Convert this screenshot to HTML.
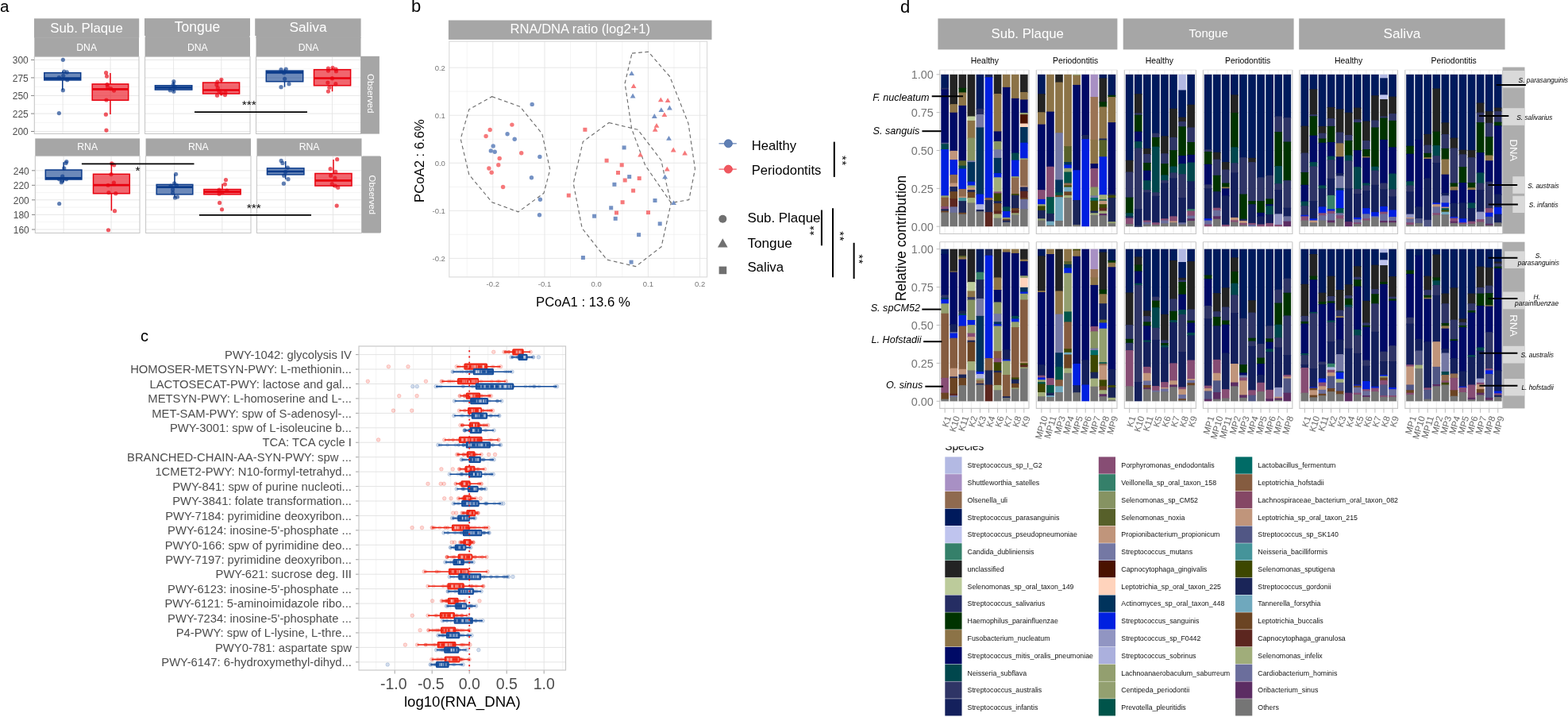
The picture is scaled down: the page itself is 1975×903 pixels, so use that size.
<!DOCTYPE html>
<html><head><meta charset="utf-8"><title>Figure</title>
<style>
html,body{margin:0;padding:0;background:#fff;}
body{width:1975px;height:903px;overflow:hidden;}
svg{display:block;font-family:"Liberation Sans",sans-serif;}
</style></head><body>
<svg width="1975" height="903" viewBox="0 0 1975 903">
<rect x="0" y="0" width="1975" height="903" fill="#fff"/>
<text x="0.00" y="14.80" font-size="20.5" fill="#000" text-anchor="start" >a</text>
<text x="518.00" y="14.50" font-size="22" fill="#000" text-anchor="start" >b</text>
<text x="177.00" y="430.00" font-size="20" fill="#000" text-anchor="start" >c</text>
<text x="1134.00" y="15.50" font-size="22" fill="#000" text-anchor="start" >d</text>
<g id="panel-a">
<rect x="43.00" y="23.30" width="132.20" height="24.20" fill="#a6a6a6" />
<rect x="182.00" y="23.10" width="133.00" height="22.00" fill="#a6a6a6" />
<rect x="183.10" y="44.90" width="131.40" height="3.00" fill="#a6a6a6" />
<rect x="321.20" y="23.30" width="133.40" height="21.80" fill="#a6a6a6" />
<rect x="322.50" y="44.90" width="132.00" height="3.00" fill="#a6a6a6" />
<line x1="43.30" y1="47.30" x2="175.00" y2="47.30" stroke="#adadad" stroke-width="0.6" />
<line x1="182.60" y1="47.30" x2="315.00" y2="47.30" stroke="#adadad" stroke-width="0.6" />
<line x1="322.50" y1="47.30" x2="454.50" y2="47.30" stroke="#adadad" stroke-width="0.6" />
<text x="109.00" y="41.00" font-size="16.8" fill="#fff" text-anchor="middle" >Sub. Plaque</text>
<text x="248.50" y="39.80" font-size="17.5" fill="#fff" text-anchor="middle" >Tongue</text>
<text x="388.00" y="40.30" font-size="17.3" fill="#fff" text-anchor="middle" >Saliva</text>
<rect x="43.30" y="47.20" width="131.70" height="24.20" fill="#a6a6a6" />
<rect x="43.30" y="71.40" width="131.70" height="97.10" fill="#fff" />
<line x1="43.30" y1="75.40" x2="175.00" y2="75.40" stroke="#e4e4e4" stroke-width="0.9" />
<line x1="43.30" y1="86.65" x2="175.00" y2="86.65" stroke="#efefef" stroke-width="0.7" />
<line x1="43.30" y1="97.90" x2="175.00" y2="97.90" stroke="#e4e4e4" stroke-width="0.9" />
<line x1="43.30" y1="109.15" x2="175.00" y2="109.15" stroke="#efefef" stroke-width="0.7" />
<line x1="43.30" y1="120.40" x2="175.00" y2="120.40" stroke="#e4e4e4" stroke-width="0.9" />
<line x1="43.30" y1="131.65" x2="175.00" y2="131.65" stroke="#efefef" stroke-width="0.7" />
<line x1="43.30" y1="143.10" x2="175.00" y2="143.10" stroke="#e4e4e4" stroke-width="0.9" />
<line x1="43.30" y1="154.35" x2="175.00" y2="154.35" stroke="#efefef" stroke-width="0.7" />
<line x1="43.30" y1="165.50" x2="175.00" y2="165.50" stroke="#e4e4e4" stroke-width="0.9" />
<line x1="79.12" y1="71.40" x2="79.12" y2="168.50" stroke="#e4e4e4" stroke-width="0.9" />
<line x1="139.05" y1="71.40" x2="139.05" y2="168.50" stroke="#e4e4e4" stroke-width="0.9" />
<rect x="43.30" y="71.40" width="131.70" height="97.10" fill="none" stroke="#c4c4c4" stroke-width="1"/>
<text x="109.15" y="64.10" font-size="12.2" fill="#fff" text-anchor="middle" >DNA</text>
<rect x="182.60" y="47.20" width="132.40" height="24.20" fill="#a6a6a6" />
<rect x="182.60" y="71.40" width="132.40" height="97.10" fill="#fff" />
<line x1="182.60" y1="75.40" x2="315.00" y2="75.40" stroke="#e4e4e4" stroke-width="0.9" />
<line x1="182.60" y1="86.65" x2="315.00" y2="86.65" stroke="#efefef" stroke-width="0.7" />
<line x1="182.60" y1="97.90" x2="315.00" y2="97.90" stroke="#e4e4e4" stroke-width="0.9" />
<line x1="182.60" y1="109.15" x2="315.00" y2="109.15" stroke="#efefef" stroke-width="0.7" />
<line x1="182.60" y1="120.40" x2="315.00" y2="120.40" stroke="#e4e4e4" stroke-width="0.9" />
<line x1="182.60" y1="131.65" x2="315.00" y2="131.65" stroke="#efefef" stroke-width="0.7" />
<line x1="182.60" y1="143.10" x2="315.00" y2="143.10" stroke="#e4e4e4" stroke-width="0.9" />
<line x1="182.60" y1="154.35" x2="315.00" y2="154.35" stroke="#efefef" stroke-width="0.7" />
<line x1="182.60" y1="165.50" x2="315.00" y2="165.50" stroke="#e4e4e4" stroke-width="0.9" />
<line x1="218.61" y1="71.40" x2="218.61" y2="168.50" stroke="#e4e4e4" stroke-width="0.9" />
<line x1="278.85" y1="71.40" x2="278.85" y2="168.50" stroke="#e4e4e4" stroke-width="0.9" />
<rect x="182.60" y="71.40" width="132.40" height="97.10" fill="none" stroke="#c4c4c4" stroke-width="1"/>
<text x="248.80" y="64.10" font-size="12.2" fill="#fff" text-anchor="middle" >DNA</text>
<rect x="322.50" y="47.20" width="132.00" height="24.20" fill="#a6a6a6" />
<rect x="322.50" y="71.40" width="132.00" height="97.10" fill="#fff" />
<line x1="322.50" y1="75.40" x2="454.50" y2="75.40" stroke="#e4e4e4" stroke-width="0.9" />
<line x1="322.50" y1="86.65" x2="454.50" y2="86.65" stroke="#efefef" stroke-width="0.7" />
<line x1="322.50" y1="97.90" x2="454.50" y2="97.90" stroke="#e4e4e4" stroke-width="0.9" />
<line x1="322.50" y1="109.15" x2="454.50" y2="109.15" stroke="#efefef" stroke-width="0.7" />
<line x1="322.50" y1="120.40" x2="454.50" y2="120.40" stroke="#e4e4e4" stroke-width="0.9" />
<line x1="322.50" y1="131.65" x2="454.50" y2="131.65" stroke="#efefef" stroke-width="0.7" />
<line x1="322.50" y1="143.10" x2="454.50" y2="143.10" stroke="#e4e4e4" stroke-width="0.9" />
<line x1="322.50" y1="154.35" x2="454.50" y2="154.35" stroke="#efefef" stroke-width="0.7" />
<line x1="322.50" y1="165.50" x2="454.50" y2="165.50" stroke="#e4e4e4" stroke-width="0.9" />
<line x1="358.40" y1="71.40" x2="358.40" y2="168.50" stroke="#e4e4e4" stroke-width="0.9" />
<line x1="418.46" y1="71.40" x2="418.46" y2="168.50" stroke="#e4e4e4" stroke-width="0.9" />
<rect x="322.50" y="71.40" width="132.00" height="97.10" fill="none" stroke="#c4c4c4" stroke-width="1"/>
<text x="388.50" y="64.10" font-size="12.2" fill="#fff" text-anchor="middle" >DNA</text>
<text x="35.80" y="80.20" font-size="12" fill="#4d4d4d" text-anchor="end" >300</text>
<line x1="39.00" y1="75.40" x2="43.00" y2="75.40" stroke="#666" stroke-width="0.8" />
<text x="35.80" y="102.70" font-size="12" fill="#4d4d4d" text-anchor="end" >275</text>
<line x1="39.00" y1="97.90" x2="43.00" y2="97.90" stroke="#666" stroke-width="0.8" />
<text x="35.80" y="125.20" font-size="12" fill="#4d4d4d" text-anchor="end" >250</text>
<line x1="39.00" y1="120.40" x2="43.00" y2="120.40" stroke="#666" stroke-width="0.8" />
<text x="35.80" y="147.90" font-size="12" fill="#4d4d4d" text-anchor="end" >225</text>
<line x1="39.00" y1="143.10" x2="43.00" y2="143.10" stroke="#666" stroke-width="0.8" />
<text x="35.80" y="170.30" font-size="12" fill="#4d4d4d" text-anchor="end" >200</text>
<line x1="39.00" y1="165.50" x2="43.00" y2="165.50" stroke="#666" stroke-width="0.8" />
<rect x="44.30" y="174.40" width="131.70" height="22.20" fill="#a6a6a6" />
<rect x="44.30" y="196.60" width="131.70" height="96.80" fill="#fff" />
<line x1="44.30" y1="214.80" x2="176.00" y2="214.80" stroke="#e4e4e4" stroke-width="0.9" />
<line x1="44.30" y1="224.05" x2="176.00" y2="224.05" stroke="#efefef" stroke-width="0.7" />
<line x1="44.30" y1="233.30" x2="176.00" y2="233.30" stroke="#e4e4e4" stroke-width="0.9" />
<line x1="44.30" y1="242.55" x2="176.00" y2="242.55" stroke="#efefef" stroke-width="0.7" />
<line x1="44.30" y1="251.80" x2="176.00" y2="251.80" stroke="#e4e4e4" stroke-width="0.9" />
<line x1="44.30" y1="261.05" x2="176.00" y2="261.05" stroke="#efefef" stroke-width="0.7" />
<line x1="44.30" y1="270.40" x2="176.00" y2="270.40" stroke="#e4e4e4" stroke-width="0.9" />
<line x1="44.30" y1="279.65" x2="176.00" y2="279.65" stroke="#efefef" stroke-width="0.7" />
<line x1="44.30" y1="289.00" x2="176.00" y2="289.00" stroke="#e4e4e4" stroke-width="0.9" />
<line x1="80.12" y1="196.60" x2="80.12" y2="293.40" stroke="#e4e4e4" stroke-width="0.9" />
<line x1="140.05" y1="196.60" x2="140.05" y2="293.40" stroke="#e4e4e4" stroke-width="0.9" />
<rect x="44.30" y="196.60" width="131.70" height="96.80" fill="none" stroke="#c4c4c4" stroke-width="1"/>
<text x="110.15" y="189.30" font-size="12.2" fill="#fff" text-anchor="middle" >RNA</text>
<rect x="183.60" y="174.40" width="132.40" height="22.20" fill="#a6a6a6" />
<rect x="183.60" y="196.60" width="132.40" height="96.80" fill="#fff" />
<line x1="183.60" y1="214.80" x2="316.00" y2="214.80" stroke="#e4e4e4" stroke-width="0.9" />
<line x1="183.60" y1="224.05" x2="316.00" y2="224.05" stroke="#efefef" stroke-width="0.7" />
<line x1="183.60" y1="233.30" x2="316.00" y2="233.30" stroke="#e4e4e4" stroke-width="0.9" />
<line x1="183.60" y1="242.55" x2="316.00" y2="242.55" stroke="#efefef" stroke-width="0.7" />
<line x1="183.60" y1="251.80" x2="316.00" y2="251.80" stroke="#e4e4e4" stroke-width="0.9" />
<line x1="183.60" y1="261.05" x2="316.00" y2="261.05" stroke="#efefef" stroke-width="0.7" />
<line x1="183.60" y1="270.40" x2="316.00" y2="270.40" stroke="#e4e4e4" stroke-width="0.9" />
<line x1="183.60" y1="279.65" x2="316.00" y2="279.65" stroke="#efefef" stroke-width="0.7" />
<line x1="183.60" y1="289.00" x2="316.00" y2="289.00" stroke="#e4e4e4" stroke-width="0.9" />
<line x1="219.61" y1="196.60" x2="219.61" y2="293.40" stroke="#e4e4e4" stroke-width="0.9" />
<line x1="279.85" y1="196.60" x2="279.85" y2="293.40" stroke="#e4e4e4" stroke-width="0.9" />
<rect x="183.60" y="196.60" width="132.40" height="96.80" fill="none" stroke="#c4c4c4" stroke-width="1"/>
<text x="249.80" y="189.30" font-size="12.2" fill="#fff" text-anchor="middle" >RNA</text>
<rect x="323.50" y="174.40" width="132.00" height="22.20" fill="#a6a6a6" />
<rect x="323.50" y="196.60" width="132.00" height="96.80" fill="#fff" />
<line x1="323.50" y1="214.80" x2="455.50" y2="214.80" stroke="#e4e4e4" stroke-width="0.9" />
<line x1="323.50" y1="224.05" x2="455.50" y2="224.05" stroke="#efefef" stroke-width="0.7" />
<line x1="323.50" y1="233.30" x2="455.50" y2="233.30" stroke="#e4e4e4" stroke-width="0.9" />
<line x1="323.50" y1="242.55" x2="455.50" y2="242.55" stroke="#efefef" stroke-width="0.7" />
<line x1="323.50" y1="251.80" x2="455.50" y2="251.80" stroke="#e4e4e4" stroke-width="0.9" />
<line x1="323.50" y1="261.05" x2="455.50" y2="261.05" stroke="#efefef" stroke-width="0.7" />
<line x1="323.50" y1="270.40" x2="455.50" y2="270.40" stroke="#e4e4e4" stroke-width="0.9" />
<line x1="323.50" y1="279.65" x2="455.50" y2="279.65" stroke="#efefef" stroke-width="0.7" />
<line x1="323.50" y1="289.00" x2="455.50" y2="289.00" stroke="#e4e4e4" stroke-width="0.9" />
<line x1="359.40" y1="196.60" x2="359.40" y2="293.40" stroke="#e4e4e4" stroke-width="0.9" />
<line x1="419.46" y1="196.60" x2="419.46" y2="293.40" stroke="#e4e4e4" stroke-width="0.9" />
<rect x="323.50" y="196.60" width="132.00" height="96.80" fill="none" stroke="#c4c4c4" stroke-width="1"/>
<text x="389.50" y="189.30" font-size="12.2" fill="#fff" text-anchor="middle" >RNA</text>
<text x="36.80" y="219.60" font-size="12" fill="#4d4d4d" text-anchor="end" >240</text>
<line x1="40.00" y1="214.80" x2="44.00" y2="214.80" stroke="#666" stroke-width="0.8" />
<text x="36.80" y="238.10" font-size="12" fill="#4d4d4d" text-anchor="end" >220</text>
<line x1="40.00" y1="233.30" x2="44.00" y2="233.30" stroke="#666" stroke-width="0.8" />
<text x="36.80" y="256.60" font-size="12" fill="#4d4d4d" text-anchor="end" >200</text>
<line x1="40.00" y1="251.80" x2="44.00" y2="251.80" stroke="#666" stroke-width="0.8" />
<text x="36.80" y="275.20" font-size="12" fill="#4d4d4d" text-anchor="end" >180</text>
<line x1="40.00" y1="270.40" x2="44.00" y2="270.40" stroke="#666" stroke-width="0.8" />
<text x="36.80" y="293.80" font-size="12" fill="#4d4d4d" text-anchor="end" >160</text>
<line x1="40.00" y1="289.00" x2="44.00" y2="289.00" stroke="#666" stroke-width="0.8" />
<rect x="454.30" y="70.80" width="23.60" height="97.80" fill="#a6a6a6" />
<rect x="455.60" y="196.40" width="24.40" height="97.20" fill="#a6a6a6" rx="1.5"/>
<text transform="translate(463.30,117.80) rotate(90)" font-size="11.4" fill="#fff" text-anchor="middle" >Observed</text>
<text transform="translate(464.60,245.30) rotate(90)" font-size="11.4" fill="#fff" text-anchor="middle" >Observed</text>
<line x1="78.75" y1="89.70" x2="78.75" y2="91.70" stroke="#0a3a8a" stroke-width="1.5" />
<line x1="78.75" y1="100.90" x2="78.75" y2="113.60" stroke="#0a3a8a" stroke-width="1.5" />
<rect x="55.80" y="91.70" width="45.90" height="9.20" fill="#0a3a8a" fill-opacity="0.6" stroke="#0a3a8a" stroke-width="1.5"/>
<line x1="55.80" y1="98.60" x2="101.70" y2="98.60" stroke="#0a3a8a" stroke-width="2.7" />
<circle cx="79.35" cy="75.36" r="2.6" fill="#0a3a8a" fill-opacity="0.65"/>
<circle cx="80.74" cy="90.11" r="2.6" fill="#0a3a8a" fill-opacity="0.65"/>
<circle cx="84.33" cy="90.91" r="2.6" fill="#0a3a8a" fill-opacity="0.65"/>
<circle cx="79.74" cy="95.30" r="2.6" fill="#0a3a8a" fill-opacity="0.65"/>
<circle cx="74.36" cy="97.69" r="2.6" fill="#0a3a8a" fill-opacity="0.65"/>
<circle cx="84.73" cy="100.68" r="2.6" fill="#0a3a8a" fill-opacity="0.65"/>
<circle cx="79.35" cy="113.64" r="2.6" fill="#0a3a8a" fill-opacity="0.65"/>
<circle cx="74.36" cy="142.54" r="2.6" fill="#0a3a8a" fill-opacity="0.65"/>
<line x1="138.95" y1="92.10" x2="138.95" y2="105.90" stroke="#e8000e" stroke-width="1.5" />
<line x1="138.95" y1="126.20" x2="138.95" y2="143.90" stroke="#e8000e" stroke-width="1.5" />
<rect x="116.20" y="105.90" width="45.50" height="20.30" fill="#e8000e" fill-opacity="0.6" stroke="#e8000e" stroke-width="1.5"/>
<line x1="116.20" y1="112.40" x2="161.70" y2="112.40" stroke="#e8000e" stroke-width="2.7" />
<circle cx="133.57" cy="91.71" r="2.6" fill="#e8000e" fill-opacity="0.65"/>
<circle cx="134.57" cy="96.09" r="2.6" fill="#e8000e" fill-opacity="0.65"/>
<circle cx="134.97" cy="106.26" r="2.6" fill="#e8000e" fill-opacity="0.65"/>
<circle cx="135.57" cy="109.25" r="2.6" fill="#e8000e" fill-opacity="0.65"/>
<circle cx="139.55" cy="111.64" r="2.6" fill="#e8000e" fill-opacity="0.65"/>
<circle cx="143.54" cy="114.04" r="2.6" fill="#e8000e" fill-opacity="0.65"/>
<circle cx="133.97" cy="126.00" r="2.6" fill="#e8000e" fill-opacity="0.65"/>
<circle cx="133.37" cy="144.14" r="2.6" fill="#e8000e" fill-opacity="0.65"/>
<circle cx="133.97" cy="164.07" r="2.6" fill="#e8000e" fill-opacity="0.65"/>
<line x1="218.60" y1="102.50" x2="218.60" y2="107.70" stroke="#0a3a8a" stroke-width="1.5" />
<line x1="218.60" y1="113.00" x2="218.60" y2="115.40" stroke="#0a3a8a" stroke-width="1.5" />
<rect x="195.40" y="107.70" width="46.40" height="5.30" fill="#0a3a8a" fill-opacity="0.6" stroke="#0a3a8a" stroke-width="1.5"/>
<line x1="195.40" y1="110.30" x2="241.80" y2="110.30" stroke="#0a3a8a" stroke-width="2.7" />
<circle cx="218.90" cy="102.67" r="2.6" fill="#0a3a8a" fill-opacity="0.65"/>
<circle cx="218.30" cy="106.66" r="2.6" fill="#0a3a8a" fill-opacity="0.65"/>
<circle cx="220.30" cy="109.65" r="2.6" fill="#0a3a8a" fill-opacity="0.65"/>
<circle cx="214.31" cy="113.64" r="2.6" fill="#0a3a8a" fill-opacity="0.65"/>
<circle cx="218.90" cy="115.23" r="2.6" fill="#0a3a8a" fill-opacity="0.65"/>
<line x1="278.60" y1="100.30" x2="278.60" y2="104.00" stroke="#e8000e" stroke-width="1.5" />
<line x1="278.60" y1="118.00" x2="278.60" y2="120.30" stroke="#e8000e" stroke-width="1.5" />
<rect x="255.60" y="104.00" width="46.00" height="14.00" fill="#e8000e" fill-opacity="0.6" stroke="#e8000e" stroke-width="1.5"/>
<line x1="255.60" y1="113.50" x2="301.60" y2="113.50" stroke="#e8000e" stroke-width="2.7" />
<circle cx="278.88" cy="100.28" r="2.6" fill="#e8000e" fill-opacity="0.65"/>
<circle cx="273.89" cy="103.07" r="2.6" fill="#e8000e" fill-opacity="0.65"/>
<circle cx="272.89" cy="106.66" r="2.6" fill="#e8000e" fill-opacity="0.65"/>
<circle cx="274.29" cy="110.65" r="2.6" fill="#e8000e" fill-opacity="0.65"/>
<circle cx="275.89" cy="114.63" r="2.6" fill="#e8000e" fill-opacity="0.65"/>
<circle cx="278.88" cy="117.62" r="2.6" fill="#e8000e" fill-opacity="0.65"/>
<circle cx="283.86" cy="116.63" r="2.6" fill="#e8000e" fill-opacity="0.65"/>
<circle cx="273.49" cy="120.22" r="2.6" fill="#e8000e" fill-opacity="0.65"/>
<circle cx="283.46" cy="119.62" r="2.6" fill="#e8000e" fill-opacity="0.65"/>
<line x1="358.50" y1="87.00" x2="358.50" y2="89.10" stroke="#0a3a8a" stroke-width="1.5" />
<line x1="358.50" y1="102.70" x2="358.50" y2="109.60" stroke="#0a3a8a" stroke-width="1.5" />
<rect x="335.30" y="89.10" width="46.40" height="13.60" fill="#0a3a8a" fill-opacity="0.6" stroke="#0a3a8a" stroke-width="1.5"/>
<line x1="335.30" y1="91.40" x2="381.70" y2="91.40" stroke="#0a3a8a" stroke-width="2.7" />
<circle cx="354.04" cy="87.72" r="2.6" fill="#0a3a8a" fill-opacity="0.65"/>
<circle cx="360.22" cy="87.12" r="2.6" fill="#0a3a8a" fill-opacity="0.65"/>
<circle cx="357.62" cy="91.71" r="2.6" fill="#0a3a8a" fill-opacity="0.65"/>
<circle cx="358.62" cy="99.28" r="2.6" fill="#0a3a8a" fill-opacity="0.65"/>
<circle cx="364.00" cy="105.66" r="2.6" fill="#0a3a8a" fill-opacity="0.65"/>
<circle cx="354.04" cy="109.65" r="2.6" fill="#0a3a8a" fill-opacity="0.65"/>
<line x1="418.55" y1="85.30" x2="418.55" y2="87.70" stroke="#e8000e" stroke-width="1.5" />
<line x1="418.55" y1="107.70" x2="418.55" y2="115.20" stroke="#e8000e" stroke-width="1.5" />
<rect x="395.50" y="87.70" width="46.10" height="20.00" fill="#e8000e" fill-opacity="0.6" stroke="#e8000e" stroke-width="1.5"/>
<line x1="395.50" y1="98.50" x2="441.60" y2="98.50" stroke="#e8000e" stroke-width="2.7" />
<circle cx="413.44" cy="86.12" r="2.6" fill="#e8000e" fill-opacity="0.65"/>
<circle cx="419.03" cy="85.33" r="2.6" fill="#e8000e" fill-opacity="0.65"/>
<circle cx="423.01" cy="87.12" r="2.6" fill="#e8000e" fill-opacity="0.65"/>
<circle cx="413.44" cy="89.11" r="2.6" fill="#e8000e" fill-opacity="0.65"/>
<circle cx="423.41" cy="89.71" r="2.6" fill="#e8000e" fill-opacity="0.65"/>
<circle cx="418.43" cy="98.68" r="2.6" fill="#e8000e" fill-opacity="0.65"/>
<circle cx="412.85" cy="104.07" r="2.6" fill="#e8000e" fill-opacity="0.65"/>
<circle cx="422.81" cy="105.66" r="2.6" fill="#e8000e" fill-opacity="0.65"/>
<circle cx="414.84" cy="110.25" r="2.6" fill="#e8000e" fill-opacity="0.65"/>
<circle cx="413.44" cy="115.03" r="2.6" fill="#e8000e" fill-opacity="0.65"/>
<line x1="80.10" y1="204.30" x2="80.10" y2="214.00" stroke="#0a3a8a" stroke-width="1.5" />
<line x1="80.10" y1="226.00" x2="80.10" y2="229.50" stroke="#0a3a8a" stroke-width="1.5" />
<rect x="57.30" y="214.00" width="45.60" height="12.00" fill="#0a3a8a" fill-opacity="0.6" stroke="#0a3a8a" stroke-width="1.5"/>
<line x1="57.30" y1="224.40" x2="102.90" y2="224.40" stroke="#0a3a8a" stroke-width="2.7" />
<circle cx="83.82" cy="203.54" r="2.6" fill="#0a3a8a" fill-opacity="0.65"/>
<circle cx="83.01" cy="205.46" r="2.6" fill="#0a3a8a" fill-opacity="0.65"/>
<circle cx="80.76" cy="211.89" r="2.6" fill="#0a3a8a" fill-opacity="0.65"/>
<circle cx="78.68" cy="222.00" r="2.6" fill="#0a3a8a" fill-opacity="0.65"/>
<circle cx="74.66" cy="225.69" r="2.6" fill="#0a3a8a" fill-opacity="0.65"/>
<circle cx="83.49" cy="225.69" r="2.6" fill="#0a3a8a" fill-opacity="0.65"/>
<circle cx="78.20" cy="227.94" r="2.6" fill="#0a3a8a" fill-opacity="0.65"/>
<circle cx="77.39" cy="229.71" r="2.6" fill="#0a3a8a" fill-opacity="0.65"/>
<circle cx="74.66" cy="256.52" r="2.6" fill="#0a3a8a" fill-opacity="0.65"/>
<line x1="140.40" y1="205.10" x2="140.40" y2="219.30" stroke="#e8000e" stroke-width="1.5" />
<line x1="140.40" y1="243.70" x2="140.40" y2="265.40" stroke="#e8000e" stroke-width="1.5" />
<rect x="117.50" y="219.30" width="45.80" height="24.40" fill="#e8000e" fill-opacity="0.6" stroke="#e8000e" stroke-width="1.5"/>
<line x1="117.50" y1="233.20" x2="163.30" y2="233.20" stroke="#e8000e" stroke-width="2.7" />
<circle cx="140.82" cy="205.94" r="2.6" fill="#e8000e" fill-opacity="0.65"/>
<circle cx="143.71" cy="207.87" r="2.6" fill="#e8000e" fill-opacity="0.65"/>
<circle cx="140.01" cy="219.59" r="2.6" fill="#e8000e" fill-opacity="0.65"/>
<circle cx="143.38" cy="230.03" r="2.6" fill="#e8000e" fill-opacity="0.65"/>
<circle cx="136.16" cy="233.24" r="2.6" fill="#e8000e" fill-opacity="0.65"/>
<circle cx="136.96" cy="242.55" r="2.6" fill="#e8000e" fill-opacity="0.65"/>
<circle cx="145.79" cy="243.68" r="2.6" fill="#e8000e" fill-opacity="0.65"/>
<circle cx="144.51" cy="265.67" r="2.6" fill="#e8000e" fill-opacity="0.65"/>
<circle cx="136.48" cy="289.76" r="2.6" fill="#e8000e" fill-opacity="0.65"/>
<line x1="220.00" y1="219.60" x2="220.00" y2="232.40" stroke="#0a3a8a" stroke-width="1.5" />
<line x1="220.00" y1="244.80" x2="220.00" y2="249.00" stroke="#0a3a8a" stroke-width="1.5" />
<rect x="197.20" y="232.40" width="45.60" height="12.40" fill="#0a3a8a" fill-opacity="0.6" stroke="#0a3a8a" stroke-width="1.5"/>
<line x1="197.20" y1="235.70" x2="242.80" y2="235.70" stroke="#0a3a8a" stroke-width="2.7" />
<circle cx="221.58" cy="219.27" r="2.6" fill="#0a3a8a" fill-opacity="0.65"/>
<circle cx="219.65" cy="230.83" r="2.6" fill="#0a3a8a" fill-opacity="0.65"/>
<circle cx="222.38" cy="233.24" r="2.6" fill="#0a3a8a" fill-opacity="0.65"/>
<circle cx="215.16" cy="234.04" r="2.6" fill="#0a3a8a" fill-opacity="0.65"/>
<circle cx="217.57" cy="238.86" r="2.6" fill="#0a3a8a" fill-opacity="0.65"/>
<circle cx="217.57" cy="242.87" r="2.6" fill="#0a3a8a" fill-opacity="0.65"/>
<circle cx="223.51" cy="248.01" r="2.6" fill="#0a3a8a" fill-opacity="0.65"/>
<circle cx="220.46" cy="248.98" r="2.6" fill="#0a3a8a" fill-opacity="0.65"/>
<line x1="280.00" y1="231.50" x2="280.00" y2="238.50" stroke="#e8000e" stroke-width="1.5" />
<line x1="280.00" y1="244.80" x2="280.00" y2="244.80" stroke="#e8000e" stroke-width="1.5" />
<rect x="256.90" y="238.50" width="46.20" height="6.30" fill="#e8000e" fill-opacity="0.6" stroke="#e8000e" stroke-width="1.5"/>
<line x1="256.90" y1="241.60" x2="303.10" y2="241.60" stroke="#e8000e" stroke-width="2.7" />
<circle cx="284.48" cy="226.50" r="2.6" fill="#e8000e" fill-opacity="0.65"/>
<circle cx="283.35" cy="232.12" r="2.6" fill="#e8000e" fill-opacity="0.65"/>
<circle cx="276.13" cy="239.18" r="2.6" fill="#e8000e" fill-opacity="0.65"/>
<circle cx="285.76" cy="240.14" r="2.6" fill="#e8000e" fill-opacity="0.65"/>
<circle cx="280.14" cy="242.07" r="2.6" fill="#e8000e" fill-opacity="0.65"/>
<circle cx="276.13" cy="244.16" r="2.6" fill="#e8000e" fill-opacity="0.65"/>
<circle cx="276.61" cy="255.40" r="2.6" fill="#e8000e" fill-opacity="0.65"/>
<circle cx="279.50" cy="263.75" r="2.6" fill="#e8000e" fill-opacity="0.65"/>
<line x1="359.70" y1="203.00" x2="359.70" y2="211.90" stroke="#0a3a8a" stroke-width="1.5" />
<line x1="359.70" y1="219.90" x2="359.70" y2="225.70" stroke="#0a3a8a" stroke-width="1.5" />
<rect x="336.50" y="211.90" width="46.40" height="8.00" fill="#0a3a8a" fill-opacity="0.6" stroke="#0a3a8a" stroke-width="1.5"/>
<line x1="336.50" y1="216.00" x2="382.90" y2="216.00" stroke="#0a3a8a" stroke-width="2.7" />
<circle cx="354.16" cy="202.41" r="2.6" fill="#0a3a8a" fill-opacity="0.65"/>
<circle cx="355.93" cy="205.46" r="2.6" fill="#0a3a8a" fill-opacity="0.65"/>
<circle cx="362.35" cy="211.08" r="2.6" fill="#0a3a8a" fill-opacity="0.65"/>
<circle cx="359.62" cy="216.38" r="2.6" fill="#0a3a8a" fill-opacity="0.65"/>
<circle cx="357.69" cy="221.20" r="2.6" fill="#0a3a8a" fill-opacity="0.65"/>
<circle cx="362.99" cy="225.69" r="2.6" fill="#0a3a8a" fill-opacity="0.65"/>
<circle cx="357.37" cy="231.15" r="2.6" fill="#0a3a8a" fill-opacity="0.65"/>
<line x1="419.95" y1="201.00" x2="419.95" y2="218.50" stroke="#e8000e" stroke-width="1.5" />
<line x1="419.95" y1="234.00" x2="419.95" y2="235.50" stroke="#e8000e" stroke-width="1.5" />
<rect x="396.90" y="218.50" width="46.10" height="15.50" fill="#e8000e" fill-opacity="0.6" stroke="#e8000e" stroke-width="1.5"/>
<line x1="396.90" y1="227.30" x2="443.00" y2="227.30" stroke="#e8000e" stroke-width="2.7" />
<circle cx="424.65" cy="200.65" r="2.6" fill="#e8000e" fill-opacity="0.65"/>
<circle cx="416.14" cy="212.69" r="2.6" fill="#e8000e" fill-opacity="0.65"/>
<circle cx="422.72" cy="216.38" r="2.6" fill="#e8000e" fill-opacity="0.65"/>
<circle cx="416.62" cy="221.20" r="2.6" fill="#e8000e" fill-opacity="0.65"/>
<circle cx="421.92" cy="224.09" r="2.6" fill="#e8000e" fill-opacity="0.65"/>
<circle cx="418.23" cy="231.63" r="2.6" fill="#e8000e" fill-opacity="0.65"/>
<circle cx="422.24" cy="234.04" r="2.6" fill="#e8000e" fill-opacity="0.65"/>
<circle cx="425.77" cy="236.13" r="2.6" fill="#e8000e" fill-opacity="0.65"/>
<circle cx="424.17" cy="259.09" r="2.6" fill="#e8000e" fill-opacity="0.65"/>
<line x1="245.00" y1="141.10" x2="387.00" y2="141.10" stroke="#000" stroke-width="1.7" />
<text x="313.80" y="137.30" font-size="15.5" fill="#000" text-anchor="middle" >***</text>
<line x1="102.90" y1="206.30" x2="244.50" y2="206.30" stroke="#000" stroke-width="1.7" />
<text x="173.40" y="220.00" font-size="15.5" fill="#000" text-anchor="middle" >*</text>
<line x1="250.90" y1="270.80" x2="392.00" y2="270.80" stroke="#000" stroke-width="1.7" />
<text x="319.80" y="267.30" font-size="15.5" fill="#000" text-anchor="middle" >***</text>
</g>
<g id="panel-b">
<rect x="564.90" y="25.50" width="331.60" height="24.40" fill="#a6a6a6" />
<text x="730.80" y="42.40" font-size="16.6" fill="#fff" text-anchor="middle" >RNA/DNA ratio (log2+1)</text>
<rect x="565.80" y="52.10" width="324.80" height="296.80" fill="#fff" />
<line x1="588.20" y1="52.10" x2="588.20" y2="348.90" stroke="#efefef" stroke-width="0.7" />
<line x1="653.40" y1="52.10" x2="653.40" y2="348.90" stroke="#efefef" stroke-width="0.7" />
<line x1="718.60" y1="52.10" x2="718.60" y2="348.90" stroke="#efefef" stroke-width="0.7" />
<line x1="783.80" y1="52.10" x2="783.80" y2="348.90" stroke="#efefef" stroke-width="0.7" />
<line x1="849.00" y1="52.10" x2="849.00" y2="348.90" stroke="#efefef" stroke-width="0.7" />
<line x1="565.80" y1="295.38" x2="890.60" y2="295.38" stroke="#efefef" stroke-width="0.7" />
<line x1="565.80" y1="235.33" x2="890.60" y2="235.33" stroke="#efefef" stroke-width="0.7" />
<line x1="565.80" y1="175.28" x2="890.60" y2="175.28" stroke="#efefef" stroke-width="0.7" />
<line x1="565.80" y1="115.23" x2="890.60" y2="115.23" stroke="#efefef" stroke-width="0.7" />
<line x1="620.80" y1="52.10" x2="620.80" y2="348.90" stroke="#e4e4e4" stroke-width="0.9" />
<line x1="565.80" y1="325.40" x2="890.60" y2="325.40" stroke="#e4e4e4" stroke-width="0.9" />
<text x="620.80" y="361.20" font-size="9.5" fill="#787878" text-anchor="middle" >-0.2</text>
<text x="560.90" y="328.70" font-size="9.5" fill="#787878" text-anchor="end" >-0.2</text>
<line x1="686.00" y1="52.10" x2="686.00" y2="348.90" stroke="#e4e4e4" stroke-width="0.9" />
<line x1="565.80" y1="265.35" x2="890.60" y2="265.35" stroke="#e4e4e4" stroke-width="0.9" />
<text x="686.00" y="361.20" font-size="9.5" fill="#787878" text-anchor="middle" >-0.1</text>
<text x="560.90" y="268.65" font-size="9.5" fill="#787878" text-anchor="end" >-0.1</text>
<line x1="751.20" y1="52.10" x2="751.20" y2="348.90" stroke="#e4e4e4" stroke-width="0.9" />
<line x1="565.80" y1="205.30" x2="890.60" y2="205.30" stroke="#e4e4e4" stroke-width="0.9" />
<text x="751.20" y="361.20" font-size="9.5" fill="#787878" text-anchor="middle" >0.0</text>
<text x="560.90" y="208.60" font-size="9.5" fill="#787878" text-anchor="end" >0.0</text>
<line x1="816.40" y1="52.10" x2="816.40" y2="348.90" stroke="#e4e4e4" stroke-width="0.9" />
<line x1="565.80" y1="145.25" x2="890.60" y2="145.25" stroke="#e4e4e4" stroke-width="0.9" />
<text x="816.40" y="361.20" font-size="9.5" fill="#787878" text-anchor="middle" >0.1</text>
<text x="560.90" y="148.55" font-size="9.5" fill="#787878" text-anchor="end" >0.1</text>
<line x1="881.60" y1="52.10" x2="881.60" y2="348.90" stroke="#e4e4e4" stroke-width="0.9" />
<line x1="565.80" y1="85.20" x2="890.60" y2="85.20" stroke="#e4e4e4" stroke-width="0.9" />
<text x="881.60" y="361.20" font-size="9.5" fill="#787878" text-anchor="middle" >0.2</text>
<text x="560.90" y="88.50" font-size="9.5" fill="#787878" text-anchor="end" >0.2</text>
<rect x="565.8" y="52.1" width="324.80" height="296.80" fill="none" stroke="#dcdcdc" stroke-width="1.2"/>
<text x="734.40" y="385.60" font-size="16.7" fill="#000" text-anchor="middle" >PCoA1 : 13.6 %</text>
<text transform="translate(534.20,202.50) rotate(-90)" font-size="16.7" fill="#000" text-anchor="middle" >PCoA2 : 6.6%</text>
<polygon points="619.7,121.6 655.1,134.3 682.8,168.4 692.8,213.7 685.0,243.2 652.9,266.9 619.7,254.7 590.8,219.9 580.2,175.0 590.8,137.8" fill="none" stroke="#6e6e6e" stroke-width="1.15" stroke-dasharray="4.7,3.5" stroke-linejoin="round"/>
<polygon points="767.0,154.5 803.4,163.3 832.9,202.0 837.5,223.7 845.3,255.5 833.0,310.8 800.8,335.6 764.3,327.0 733.2,287.5 722.2,231.0 734.3,178.4" fill="none" stroke="#6e6e6e" stroke-width="1.15" stroke-dasharray="4.7,3.5" stroke-linejoin="round"/>
<polygon points="796.0,67.1 816.6,65.2 843.7,96.5 867.0,155.4 875.5,212.9 867.8,251.6 845.3,255.5 812.7,208.2 795.7,162.5 787.1,105.0" fill="none" stroke="#6e6e6e" stroke-width="1.15" stroke-dasharray="4.7,3.5" stroke-linejoin="round"/>
<circle cx="670.2" cy="131.4" r="2.7" fill="#7592c4"/>
<circle cx="644.9" cy="157.1" r="2.7" fill="#f6797b"/>
<circle cx="617.2" cy="163.5" r="2.7" fill="#f6797b"/>
<circle cx="612.1" cy="171.5" r="2.7" fill="#f6797b"/>
<circle cx="639.1" cy="168.8" r="2.7" fill="#7592c4"/>
<circle cx="648.2" cy="175.3" r="2.7" fill="#7592c4"/>
<circle cx="621.2" cy="183.9" r="2.7" fill="#7592c4"/>
<circle cx="618.3" cy="189.9" r="2.7" fill="#7592c4"/>
<circle cx="623.2" cy="191.2" r="2.7" fill="#7592c4"/>
<circle cx="656.7" cy="192.8" r="2.7" fill="#f6797b"/>
<circle cx="679.9" cy="197.4" r="2.7" fill="#7592c4"/>
<circle cx="629.2" cy="199.5" r="2.7" fill="#f6797b"/>
<circle cx="627.8" cy="207.8" r="2.7" fill="#f6797b"/>
<circle cx="615.9" cy="212" r="2.7" fill="#f6797b"/>
<circle cx="619.2" cy="217.3" r="2.7" fill="#f6797b"/>
<circle cx="669.5" cy="223.7" r="2.7" fill="#7592c4"/>
<circle cx="633.6" cy="235.5" r="2.7" fill="#f6797b"/>
<circle cx="680.4" cy="251.2" r="2.7" fill="#7592c4"/>
<circle cx="679.5" cy="270.7" r="2.7" fill="#7592c4"/>
<rect x="734.40" y="160.80" width="5.00" height="5.00" fill="#f6797b" />
<rect x="783.60" y="183.40" width="5.00" height="5.00" fill="#7592c4" />
<rect x="761.60" y="199.70" width="5.00" height="5.00" fill="#f6797b" />
<rect x="780.70" y="205.30" width="5.00" height="5.00" fill="#f6797b" />
<rect x="776.00" y="215.00" width="5.00" height="5.00" fill="#f6797b" />
<rect x="790.20" y="220.10" width="5.00" height="5.00" fill="#7592c4" />
<rect x="771.40" y="229.80" width="5.00" height="5.00" fill="#7592c4" />
<rect x="784.70" y="224.50" width="5.00" height="5.00" fill="#f6797b" />
<rect x="795.10" y="237.60" width="5.00" height="5.00" fill="#f6797b" />
<rect x="713.80" y="243.60" width="5.00" height="5.00" fill="#f6797b" />
<rect x="781.60" y="252.20" width="5.00" height="5.00" fill="#f6797b" />
<rect x="767.20" y="259.30" width="5.00" height="5.00" fill="#7592c4" />
<rect x="774.00" y="265.50" width="5.00" height="5.00" fill="#f6797b" />
<rect x="746.10" y="269.70" width="5.00" height="5.00" fill="#7592c4" />
<rect x="772.70" y="272.80" width="5.00" height="5.00" fill="#7592c4" />
<rect x="731.90" y="322.00" width="5.00" height="5.00" fill="#7592c4" />
<rect x="792.60" y="327.60" width="5.00" height="5.00" fill="#7592c4" />
<rect x="802.70" y="222.10" width="5.00" height="5.00" fill="#f6797b" />
<rect x="822.50" y="250.00" width="5.00" height="5.00" fill="#7592c4" />
<rect x="814.00" y="265.10" width="5.00" height="5.00" fill="#f6797b" />
<rect x="828.70" y="279.30" width="5.00" height="5.00" fill="#7592c4" />
<rect x="802.10" y="293.20" width="5.00" height="5.00" fill="#7592c4" />
<polygon points="795.6,89.2 792.2,95.0 799.0,95.0" fill="#7592c4"/>
<polygon points="798.1,105.2 794.7,111.0 801.5,111.0" fill="#f6797b"/>
<polygon points="797.1,117.6 793.7,123.4 800.5,123.4" fill="#7592c4"/>
<polygon points="832.3,122.5 828.9,128.3 835.7,128.3" fill="#f6797b"/>
<polygon points="841.1,123.3 837.7,129.1 844.5,129.1" fill="#f6797b"/>
<polygon points="843.4,132.6 840.0,138.4 846.8,138.4" fill="#7592c4"/>
<polygon points="832.9,135.3 829.5,141.1 836.3,141.1" fill="#7592c4"/>
<polygon points="836.9,141.3 833.5,147.1 840.3,147.1" fill="#f6797b"/>
<polygon points="824.3,143.1 820.9,148.9 827.7,148.9" fill="#7592c4"/>
<polygon points="827.0,155.0 823.6,160.8 830.4,160.8" fill="#f6797b"/>
<polygon points="825.2,159.9 821.8,165.7 828.6,165.7" fill="#f6797b"/>
<polygon points="842.5,171.0 839.1,176.8 845.9,176.8" fill="#7592c4"/>
<polygon points="848.2,185.6 844.8,191.4 851.6,191.4" fill="#f6797b"/>
<polygon points="862.6,189.6 859.2,195.4 866.0,195.4" fill="#f6797b"/>
<polygon points="806.6,191.6 803.2,197.4 810.0,197.4" fill="#f6797b"/>
<polygon points="840.3,209.7 836.9,215.5 843.7,215.5" fill="#f6797b"/>
<polygon points="837.6,219.4 834.2,225.2 841.0,225.2" fill="#7592c4"/>
<polygon points="848.5,252.2 845.1,258.0 851.9,258.0" fill="#7592c4"/>
<line x1="905.50" y1="180.80" x2="927.80" y2="180.80" stroke="#5e7fb4" stroke-width="1.2" />
<circle cx="917.4" cy="180.8" r="5" fill="#5e7fb4" stroke="#4a6aa5" stroke-width="0.8"/>
<line x1="905.50" y1="213.10" x2="927.80" y2="213.10" stroke="#f0575f" stroke-width="1.2" />
<circle cx="917.4" cy="213.1" r="5" fill="#f0575f" stroke="#e8434c" stroke-width="0.8"/>
<text x="946.70" y="188.80" font-size="16.6" fill="#000" text-anchor="start" >Healthy</text>
<text x="946.70" y="219.80" font-size="16.6" fill="#000" text-anchor="start" >Periodontits</text>
<circle cx="910.3" cy="275.8" r="5" fill="#707070"/>
<polygon points="910.3,300.3 904,311.5 916.6,311.5" fill="#707070"/>
<rect x="905.60" y="335.60" width="9.60" height="9.60" fill="#707070" />
<text x="941.40" y="280.20" font-size="16.9" fill="#000" text-anchor="start" >Sub. Plaque</text>
<text x="941.40" y="312.00" font-size="17.2" fill="#000" text-anchor="start" >Tongue</text>
<text x="941.40" y="342.30" font-size="16.8" fill="#000" text-anchor="start" >Saliva</text>
<line x1="1050.80" y1="178.60" x2="1050.80" y2="222.90" stroke="#000" stroke-width="2" />
<text transform="translate(1056.20,202.50) rotate(90)" font-size="14.5" fill="#000" text-anchor="middle" letter-spacing="0.8">**</text>
<line x1="1034.90" y1="264.50" x2="1034.90" y2="309.30" stroke="#000" stroke-width="2" />
<text transform="translate(1030.30,290.00) rotate(-90)" font-size="14.5" fill="#000" text-anchor="middle" letter-spacing="0.8">**</text>
<line x1="1049.00" y1="262.30" x2="1049.00" y2="349.20" stroke="#000" stroke-width="2" />
<text transform="translate(1053.10,297.80) rotate(90)" font-size="14.5" fill="#000" text-anchor="middle" letter-spacing="0.8">**</text>
<line x1="1075.60" y1="305.80" x2="1075.60" y2="351.00" stroke="#000" stroke-width="2" />
<text transform="translate(1077.30,326.60) rotate(90)" font-size="14.5" fill="#000" text-anchor="middle" letter-spacing="0.8">**</text>
</g>
<g id="panel-c">
<rect x="452.00" y="436.00" width="260.50" height="408.00" fill="#fff" />
<line x1="473.70" y1="436.00" x2="473.70" y2="844.00" stroke="#efefef" stroke-width="0.8" />
<line x1="520.70" y1="436.00" x2="520.70" y2="844.00" stroke="#efefef" stroke-width="0.8" />
<line x1="567.70" y1="436.00" x2="567.70" y2="844.00" stroke="#efefef" stroke-width="0.8" />
<line x1="614.70" y1="436.00" x2="614.70" y2="844.00" stroke="#efefef" stroke-width="0.8" />
<line x1="661.70" y1="436.00" x2="661.70" y2="844.00" stroke="#efefef" stroke-width="0.8" />
<line x1="708.70" y1="436.00" x2="708.70" y2="844.00" stroke="#efefef" stroke-width="0.8" />
<line x1="497.20" y1="436.00" x2="497.20" y2="844.00" stroke="#e4e4e4" stroke-width="1" />
<line x1="497.20" y1="844.00" x2="497.20" y2="848.50" stroke="#999" stroke-width="0.9" />
<text x="495.70" y="867.60" font-size="19.5" fill="#4d4d4d" text-anchor="middle" >-1.0</text>
<line x1="544.20" y1="436.00" x2="544.20" y2="844.00" stroke="#e4e4e4" stroke-width="1" />
<line x1="544.20" y1="844.00" x2="544.20" y2="848.50" stroke="#999" stroke-width="0.9" />
<text x="542.70" y="867.60" font-size="19.5" fill="#4d4d4d" text-anchor="middle" >-0.5</text>
<line x1="591.20" y1="436.00" x2="591.20" y2="844.00" stroke="#e4e4e4" stroke-width="1" />
<line x1="591.20" y1="844.00" x2="591.20" y2="848.50" stroke="#999" stroke-width="0.9" />
<text x="591.20" y="867.60" font-size="19.5" fill="#4d4d4d" text-anchor="middle" >0.0</text>
<line x1="638.20" y1="436.00" x2="638.20" y2="844.00" stroke="#e4e4e4" stroke-width="1" />
<line x1="638.20" y1="844.00" x2="638.20" y2="848.50" stroke="#999" stroke-width="0.9" />
<text x="638.20" y="867.60" font-size="19.5" fill="#4d4d4d" text-anchor="middle" >0.5</text>
<line x1="685.20" y1="436.00" x2="685.20" y2="844.00" stroke="#e4e4e4" stroke-width="1" />
<line x1="685.20" y1="844.00" x2="685.20" y2="848.50" stroke="#999" stroke-width="0.9" />
<text x="685.20" y="867.60" font-size="19.5" fill="#4d4d4d" text-anchor="middle" >1.0</text>
<line x1="452.00" y1="446.60" x2="712.50" y2="446.60" stroke="#e4e4e4" stroke-width="1" />
<line x1="448.00" y1="446.60" x2="452.00" y2="446.60" stroke="#999" stroke-width="0.9" />
<text x="442.90" y="451.80" font-size="14.8" fill="#4d4d4d" text-anchor="end" >PWY-1042: glycolysis IV</text>
<line x1="452.00" y1="465.04" x2="712.50" y2="465.04" stroke="#e4e4e4" stroke-width="1" />
<line x1="448.00" y1="465.04" x2="452.00" y2="465.04" stroke="#999" stroke-width="0.9" />
<text x="442.90" y="470.24" font-size="14.8" fill="#4d4d4d" text-anchor="end" >HOMOSER-METSYN-PWY: L-methionin...</text>
<line x1="452.00" y1="483.48" x2="712.50" y2="483.48" stroke="#e4e4e4" stroke-width="1" />
<line x1="448.00" y1="483.48" x2="452.00" y2="483.48" stroke="#999" stroke-width="0.9" />
<text x="442.90" y="488.68" font-size="14.8" fill="#4d4d4d" text-anchor="end" >LACTOSECAT-PWY: lactose and gal...</text>
<line x1="452.00" y1="501.92" x2="712.50" y2="501.92" stroke="#e4e4e4" stroke-width="1" />
<line x1="448.00" y1="501.92" x2="452.00" y2="501.92" stroke="#999" stroke-width="0.9" />
<text x="442.90" y="507.12" font-size="14.8" fill="#4d4d4d" text-anchor="end" >METSYN-PWY: L-homoserine and L-...</text>
<line x1="452.00" y1="520.36" x2="712.50" y2="520.36" stroke="#e4e4e4" stroke-width="1" />
<line x1="448.00" y1="520.36" x2="452.00" y2="520.36" stroke="#999" stroke-width="0.9" />
<text x="442.90" y="525.56" font-size="14.8" fill="#4d4d4d" text-anchor="end" >MET-SAM-PWY: spw of S-adenosyl-...</text>
<line x1="452.00" y1="538.80" x2="712.50" y2="538.80" stroke="#e4e4e4" stroke-width="1" />
<line x1="448.00" y1="538.80" x2="452.00" y2="538.80" stroke="#999" stroke-width="0.9" />
<text x="442.90" y="544.00" font-size="14.8" fill="#4d4d4d" text-anchor="end" >PWY-3001: spw of L-isoleucine b...</text>
<line x1="452.00" y1="557.24" x2="712.50" y2="557.24" stroke="#e4e4e4" stroke-width="1" />
<line x1="448.00" y1="557.24" x2="452.00" y2="557.24" stroke="#999" stroke-width="0.9" />
<text x="442.90" y="562.44" font-size="14.8" fill="#4d4d4d" text-anchor="end" >TCA: TCA cycle I</text>
<line x1="452.00" y1="575.68" x2="712.50" y2="575.68" stroke="#e4e4e4" stroke-width="1" />
<line x1="448.00" y1="575.68" x2="452.00" y2="575.68" stroke="#999" stroke-width="0.9" />
<text x="442.90" y="580.88" font-size="14.8" fill="#4d4d4d" text-anchor="end" >BRANCHED-CHAIN-AA-SYN-PWY: spw ...</text>
<line x1="452.00" y1="594.12" x2="712.50" y2="594.12" stroke="#e4e4e4" stroke-width="1" />
<line x1="448.00" y1="594.12" x2="452.00" y2="594.12" stroke="#999" stroke-width="0.9" />
<text x="442.90" y="599.32" font-size="14.8" fill="#4d4d4d" text-anchor="end" >1CMET2-PWY: N10-formyl-tetrahyd...</text>
<line x1="452.00" y1="612.56" x2="712.50" y2="612.56" stroke="#e4e4e4" stroke-width="1" />
<line x1="448.00" y1="612.56" x2="452.00" y2="612.56" stroke="#999" stroke-width="0.9" />
<text x="442.90" y="617.76" font-size="14.8" fill="#4d4d4d" text-anchor="end" >PWY-841: spw of purine nucleoti...</text>
<line x1="452.00" y1="631.00" x2="712.50" y2="631.00" stroke="#e4e4e4" stroke-width="1" />
<line x1="448.00" y1="631.00" x2="452.00" y2="631.00" stroke="#999" stroke-width="0.9" />
<text x="442.90" y="636.20" font-size="14.8" fill="#4d4d4d" text-anchor="end" >PWY-3841: folate transformation...</text>
<line x1="452.00" y1="649.44" x2="712.50" y2="649.44" stroke="#e4e4e4" stroke-width="1" />
<line x1="448.00" y1="649.44" x2="452.00" y2="649.44" stroke="#999" stroke-width="0.9" />
<text x="442.90" y="654.64" font-size="14.8" fill="#4d4d4d" text-anchor="end" >PWY-7184: pyrimidine deoxyribon...</text>
<line x1="452.00" y1="667.88" x2="712.50" y2="667.88" stroke="#e4e4e4" stroke-width="1" />
<line x1="448.00" y1="667.88" x2="452.00" y2="667.88" stroke="#999" stroke-width="0.9" />
<text x="442.90" y="673.08" font-size="14.8" fill="#4d4d4d" text-anchor="end" >PWY-6124: inosine-5&#39;-phosphate ...</text>
<line x1="452.00" y1="686.32" x2="712.50" y2="686.32" stroke="#e4e4e4" stroke-width="1" />
<line x1="448.00" y1="686.32" x2="452.00" y2="686.32" stroke="#999" stroke-width="0.9" />
<text x="442.90" y="691.52" font-size="14.8" fill="#4d4d4d" text-anchor="end" >PWY0-166: spw of pyrimidine deo...</text>
<line x1="452.00" y1="704.76" x2="712.50" y2="704.76" stroke="#e4e4e4" stroke-width="1" />
<line x1="448.00" y1="704.76" x2="452.00" y2="704.76" stroke="#999" stroke-width="0.9" />
<text x="442.90" y="709.96" font-size="14.8" fill="#4d4d4d" text-anchor="end" >PWY-7197: pyrimidine deoxyribon...</text>
<line x1="452.00" y1="723.20" x2="712.50" y2="723.20" stroke="#e4e4e4" stroke-width="1" />
<line x1="448.00" y1="723.20" x2="452.00" y2="723.20" stroke="#999" stroke-width="0.9" />
<text x="442.90" y="728.40" font-size="14.8" fill="#4d4d4d" text-anchor="end" >PWY-621: sucrose deg. III</text>
<line x1="452.00" y1="741.64" x2="712.50" y2="741.64" stroke="#e4e4e4" stroke-width="1" />
<line x1="448.00" y1="741.64" x2="452.00" y2="741.64" stroke="#999" stroke-width="0.9" />
<text x="442.90" y="746.84" font-size="14.8" fill="#4d4d4d" text-anchor="end" >PWY-6123: inosine-5&#39;-phosphate ...</text>
<line x1="452.00" y1="760.08" x2="712.50" y2="760.08" stroke="#e4e4e4" stroke-width="1" />
<line x1="448.00" y1="760.08" x2="452.00" y2="760.08" stroke="#999" stroke-width="0.9" />
<text x="442.90" y="765.28" font-size="14.8" fill="#4d4d4d" text-anchor="end" >PWY-6121: 5-aminoimidazole ribo...</text>
<line x1="452.00" y1="778.52" x2="712.50" y2="778.52" stroke="#e4e4e4" stroke-width="1" />
<line x1="448.00" y1="778.52" x2="452.00" y2="778.52" stroke="#999" stroke-width="0.9" />
<text x="442.90" y="783.72" font-size="14.8" fill="#4d4d4d" text-anchor="end" >PWY-7234: inosine-5&#39;-phosphate ...</text>
<line x1="452.00" y1="796.96" x2="712.50" y2="796.96" stroke="#e4e4e4" stroke-width="1" />
<line x1="448.00" y1="796.96" x2="452.00" y2="796.96" stroke="#999" stroke-width="0.9" />
<text x="442.90" y="802.16" font-size="14.8" fill="#4d4d4d" text-anchor="end" >P4-PWY: spw of L-lysine, L-thre...</text>
<line x1="452.00" y1="815.40" x2="712.50" y2="815.40" stroke="#e4e4e4" stroke-width="1" />
<line x1="448.00" y1="815.40" x2="452.00" y2="815.40" stroke="#999" stroke-width="0.9" />
<text x="442.90" y="820.60" font-size="14.8" fill="#4d4d4d" text-anchor="end" >PWY0-781: aspartate spw</text>
<line x1="452.00" y1="833.84" x2="712.50" y2="833.84" stroke="#e4e4e4" stroke-width="1" />
<line x1="448.00" y1="833.84" x2="452.00" y2="833.84" stroke="#999" stroke-width="0.9" />
<text x="442.90" y="839.04" font-size="14.8" fill="#4d4d4d" text-anchor="end" >PWY-6147: 6-hydroxymethyl-dihyd...</text>
<rect x="452.0" y="436.0" width="260.50" height="408.00" fill="none" stroke="#c8c8c8" stroke-width="1.2"/>
<text x="582.30" y="890.00" font-size="18.6" fill="#000" text-anchor="middle" >log10(RNA_DNA)</text>
<g fill="#ee2211" fill-opacity="0.15" stroke="#ee2211" stroke-opacity="0.2" stroke-width="0.6">
<circle cx="645.8" cy="443.3" r="2"/><circle cx="640.0" cy="443.3" r="2"/><circle cx="656.6" cy="443.3" r="2"/><circle cx="637.4" cy="443.3" r="2"/><circle cx="652.8" cy="443.3" r="2"/><circle cx="647.1" cy="443.3" r="2"/><circle cx="636.9" cy="443.3" r="2"/><circle cx="651.8" cy="443.3" r="2"/><circle cx="636.2" cy="443.3" r="2"/><circle cx="649.4" cy="443.3" r="2"/><circle cx="655.1" cy="443.3" r="2"/><circle cx="653.7" cy="443.3" r="2"/><circle cx="641.4" cy="443.3" r="2"/><circle cx="658.2" cy="443.3" r="2"/><circle cx="655.9" cy="443.3" r="2"/><circle cx="655.8" cy="443.3" r="2"/><circle cx="641.3" cy="443.3" r="2"/><circle cx="640.9" cy="443.3" r="2"/><circle cx="646.6" cy="443.3" r="2"/><circle cx="649.4" cy="443.3" r="2"/><circle cx="654.5" cy="443.3" r="2"/><circle cx="652.2" cy="443.3" r="2"/><circle cx="656.0" cy="443.3" r="2"/><circle cx="648.2" cy="443.3" r="2"/><circle cx="654.5" cy="443.3" r="2"/><circle cx="655.1" cy="443.3" r="2"/>
</g>
<g fill="#ee2211" fill-opacity="0.18" stroke="#ee2211" stroke-opacity="0.28" stroke-width="0.7">
<circle cx="621.7" cy="443.3" r="2.3"/><circle cx="635.0" cy="443.3" r="2.3"/><circle cx="668.2" cy="443.3" r="2.3"/>
</g>
<line x1="635.00" y1="443.30" x2="668.20" y2="443.30" stroke="#ee2211" stroke-width="1.5" />
<rect x="646.0" y="439.9" width="13.0" height="6.8" fill="#ee2211" fill-opacity="0.88" stroke="#ee2211" stroke-width="1.4" rx="0.8"/>
<g fill="#fff" fill-opacity="0.42">
<rect x="650.8" y="441.5" width="1.6" height="3.6"/><rect x="655.3" y="441.5" width="1.6" height="3.6"/><rect x="649.6" y="441.5" width="1.6" height="3.6"/><rect x="653.2" y="441.5" width="1.6" height="3.6"/><rect x="653.8" y="441.5" width="1.6" height="3.6"/>
</g>
<g fill="#114a99" fill-opacity="0.15" stroke="#114a99" stroke-opacity="0.2" stroke-width="0.6">
<circle cx="654.1" cy="449.8" r="2"/><circle cx="659.0" cy="449.8" r="2"/><circle cx="645.5" cy="449.8" r="2"/><circle cx="645.5" cy="449.8" r="2"/><circle cx="649.5" cy="449.8" r="2"/><circle cx="662.6" cy="449.8" r="2"/><circle cx="655.6" cy="449.8" r="2"/><circle cx="652.5" cy="449.8" r="2"/><circle cx="660.0" cy="449.8" r="2"/><circle cx="656.4" cy="449.8" r="2"/><circle cx="655.5" cy="449.8" r="2"/><circle cx="667.9" cy="449.8" r="2"/><circle cx="657.2" cy="449.8" r="2"/><circle cx="654.6" cy="449.8" r="2"/><circle cx="652.5" cy="449.8" r="2"/><circle cx="655.5" cy="449.8" r="2"/><circle cx="664.8" cy="449.8" r="2"/><circle cx="652.2" cy="449.8" r="2"/><circle cx="654.8" cy="449.8" r="2"/><circle cx="671.5" cy="449.8" r="2"/><circle cx="662.8" cy="449.8" r="2"/><circle cx="662.4" cy="449.8" r="2"/><circle cx="658.6" cy="449.8" r="2"/><circle cx="655.3" cy="449.8" r="2"/><circle cx="656.9" cy="449.8" r="2"/><circle cx="658.6" cy="449.8" r="2"/>
</g>
<g fill="#114a99" fill-opacity="0.18" stroke="#114a99" stroke-opacity="0.28" stroke-width="0.7">
<circle cx="678.4" cy="449.8" r="2.3"/><circle cx="643.8" cy="449.8" r="2.3"/><circle cx="671.5" cy="449.8" r="2.3"/>
</g>
<line x1="643.80" y1="449.80" x2="671.50" y2="449.80" stroke="#114a99" stroke-width="1.5" />
<rect x="653.2" y="446.4" width="10.6" height="6.8" fill="#114a99" fill-opacity="0.88" stroke="#114a99" stroke-width="1.4" rx="0.8"/>
<g fill="#fff" fill-opacity="0.42">
<rect x="659.6" y="448.0" width="1.6" height="3.6"/><rect x="660.2" y="448.0" width="1.6" height="3.6"/><rect x="659.0" y="448.0" width="1.6" height="3.6"/><rect x="661.0" y="448.0" width="1.6" height="3.6"/>
</g>
<g fill="#ee2211" fill-opacity="0.15" stroke="#ee2211" stroke-opacity="0.2" stroke-width="0.6">
<circle cx="592.6" cy="461.7" r="2"/><circle cx="613.7" cy="461.7" r="2"/><circle cx="608.1" cy="461.7" r="2"/><circle cx="607.3" cy="461.7" r="2"/><circle cx="600.5" cy="461.7" r="2"/><circle cx="621.7" cy="461.7" r="2"/><circle cx="627.5" cy="461.7" r="2"/><circle cx="601.5" cy="461.7" r="2"/><circle cx="612.0" cy="461.7" r="2"/><circle cx="578.6" cy="461.7" r="2"/><circle cx="594.4" cy="461.7" r="2"/><circle cx="583.9" cy="461.7" r="2"/><circle cx="619.8" cy="461.7" r="2"/><circle cx="598.3" cy="461.7" r="2"/><circle cx="596.8" cy="461.7" r="2"/><circle cx="609.9" cy="461.7" r="2"/><circle cx="598.0" cy="461.7" r="2"/><circle cx="597.1" cy="461.7" r="2"/><circle cx="592.7" cy="461.7" r="2"/><circle cx="600.8" cy="461.7" r="2"/><circle cx="602.1" cy="461.7" r="2"/><circle cx="601.8" cy="461.7" r="2"/><circle cx="599.9" cy="461.7" r="2"/><circle cx="593.4" cy="461.7" r="2"/><circle cx="599.4" cy="461.7" r="2"/><circle cx="610.2" cy="461.7" r="2"/>
</g>
<g fill="#ee2211" fill-opacity="0.18" stroke="#ee2211" stroke-opacity="0.28" stroke-width="0.7">
<circle cx="489.4" cy="461.7" r="2.3"/><circle cx="514.0" cy="461.7" r="2.3"/><circle cx="575.2" cy="461.7" r="2.3"/><circle cx="630.6" cy="461.7" r="2.3"/>
</g>
<line x1="575.20" y1="461.74" x2="630.60" y2="461.74" stroke="#ee2211" stroke-width="1.5" />
<rect x="585.1" y="458.3" width="28.2" height="6.8" fill="#ee2211" fill-opacity="0.88" stroke="#ee2211" stroke-width="1.4" rx="0.8"/>
<g fill="#fff" fill-opacity="0.42">
<rect x="608.2" y="459.9" width="1.6" height="3.6"/><rect x="589.1" y="459.9" width="1.6" height="3.6"/><rect x="598.0" y="459.9" width="1.6" height="3.6"/><rect x="600.4" y="459.9" width="1.6" height="3.6"/><rect x="608.5" y="459.9" width="1.6" height="3.6"/><rect x="606.9" y="459.9" width="1.6" height="3.6"/><rect x="608.0" y="459.9" width="1.6" height="3.6"/><rect x="593.8" y="459.9" width="1.6" height="3.6"/><rect x="597.2" y="459.9" width="1.6" height="3.6"/><rect x="595.8" y="459.9" width="1.6" height="3.6"/>
</g>
<g fill="#114a99" fill-opacity="0.15" stroke="#114a99" stroke-opacity="0.2" stroke-width="0.6">
<circle cx="636.3" cy="468.2" r="2"/><circle cx="641.8" cy="468.2" r="2"/><circle cx="581.6" cy="468.2" r="2"/><circle cx="583.5" cy="468.2" r="2"/><circle cx="587.6" cy="468.2" r="2"/><circle cx="587.7" cy="468.2" r="2"/><circle cx="606.5" cy="468.2" r="2"/><circle cx="614.3" cy="468.2" r="2"/><circle cx="589.9" cy="468.2" r="2"/><circle cx="570.6" cy="468.2" r="2"/><circle cx="596.3" cy="468.2" r="2"/><circle cx="615.8" cy="468.2" r="2"/><circle cx="575.1" cy="468.2" r="2"/><circle cx="593.9" cy="468.2" r="2"/><circle cx="602.3" cy="468.2" r="2"/><circle cx="592.1" cy="468.2" r="2"/><circle cx="592.3" cy="468.2" r="2"/><circle cx="593.7" cy="468.2" r="2"/><circle cx="639.1" cy="468.2" r="2"/><circle cx="619.5" cy="468.2" r="2"/><circle cx="614.5" cy="468.2" r="2"/><circle cx="578.9" cy="468.2" r="2"/><circle cx="613.3" cy="468.2" r="2"/><circle cx="594.6" cy="468.2" r="2"/><circle cx="603.2" cy="468.2" r="2"/><circle cx="613.0" cy="468.2" r="2"/>
</g>
<g fill="#114a99" fill-opacity="0.18" stroke="#114a99" stroke-opacity="0.28" stroke-width="0.7">
<circle cx="570.3" cy="468.2" r="2.3"/><circle cx="645.0" cy="468.2" r="2.3"/>
</g>
<line x1="570.30" y1="468.24" x2="645.00" y2="468.24" stroke="#114a99" stroke-width="1.5" />
<rect x="596.4" y="464.8" width="24.9" height="6.8" fill="#114a99" fill-opacity="0.88" stroke="#114a99" stroke-width="1.4" rx="0.8"/>
<g fill="#fff" fill-opacity="0.42">
<rect x="611.7" y="466.4" width="1.6" height="3.6"/><rect x="599.7" y="466.4" width="1.6" height="3.6"/><rect x="599.8" y="466.4" width="1.6" height="3.6"/><rect x="602.8" y="466.4" width="1.6" height="3.6"/><rect x="601.8" y="466.4" width="1.6" height="3.6"/><rect x="605.5" y="466.4" width="1.6" height="3.6"/><rect x="599.5" y="466.4" width="1.6" height="3.6"/><rect x="598.4" y="466.4" width="1.6" height="3.6"/><rect x="601.6" y="466.4" width="1.6" height="3.6"/>
</g>
<g fill="#ee2211" fill-opacity="0.15" stroke="#ee2211" stroke-opacity="0.2" stroke-width="0.6">
<circle cx="564.5" cy="480.2" r="2"/><circle cx="585.7" cy="480.2" r="2"/><circle cx="558.4" cy="480.2" r="2"/><circle cx="627.0" cy="480.2" r="2"/><circle cx="606.0" cy="480.2" r="2"/><circle cx="568.3" cy="480.2" r="2"/><circle cx="576.7" cy="480.2" r="2"/><circle cx="584.4" cy="480.2" r="2"/><circle cx="585.8" cy="480.2" r="2"/><circle cx="566.2" cy="480.2" r="2"/><circle cx="619.3" cy="480.2" r="2"/><circle cx="556.3" cy="480.2" r="2"/><circle cx="571.4" cy="480.2" r="2"/><circle cx="593.5" cy="480.2" r="2"/><circle cx="596.0" cy="480.2" r="2"/><circle cx="593.4" cy="480.2" r="2"/><circle cx="582.6" cy="480.2" r="2"/><circle cx="600.2" cy="480.2" r="2"/><circle cx="594.1" cy="480.2" r="2"/><circle cx="581.1" cy="480.2" r="2"/><circle cx="628.9" cy="480.2" r="2"/><circle cx="595.3" cy="480.2" r="2"/><circle cx="580.6" cy="480.2" r="2"/><circle cx="587.9" cy="480.2" r="2"/><circle cx="585.9" cy="480.2" r="2"/><circle cx="588.5" cy="480.2" r="2"/>
</g>
<g fill="#ee2211" fill-opacity="0.18" stroke="#ee2211" stroke-opacity="0.28" stroke-width="0.7">
<circle cx="463.3" cy="480.2" r="2.3"/><circle cx="536.4" cy="480.2" r="2.3"/><circle cx="556.3" cy="480.2" r="2.3"/><circle cx="637.2" cy="480.2" r="2.3"/>
</g>
<line x1="556.30" y1="480.18" x2="637.20" y2="480.18" stroke="#ee2211" stroke-width="1.5" />
<rect x="576.7" y="476.8" width="25.7" height="6.8" fill="#ee2211" fill-opacity="0.88" stroke="#ee2211" stroke-width="1.4" rx="0.8"/>
<g fill="#fff" fill-opacity="0.42">
<rect x="590.2" y="478.4" width="1.6" height="3.6"/><rect x="599.9" y="478.4" width="1.6" height="3.6"/><rect x="597.4" y="478.4" width="1.6" height="3.6"/><rect x="593.8" y="478.4" width="1.6" height="3.6"/><rect x="584.4" y="478.4" width="1.6" height="3.6"/><rect x="586.7" y="478.4" width="1.6" height="3.6"/><rect x="582.3" y="478.4" width="1.6" height="3.6"/><rect x="595.5" y="478.4" width="1.6" height="3.6"/><rect x="590.3" y="478.4" width="1.6" height="3.6"/>
</g>
<g fill="#114a99" fill-opacity="0.15" stroke="#114a99" stroke-opacity="0.2" stroke-width="0.6">
<circle cx="667.8" cy="486.7" r="2"/><circle cx="599.3" cy="486.7" r="2"/><circle cx="583.0" cy="486.7" r="2"/><circle cx="672.8" cy="486.7" r="2"/><circle cx="699.2" cy="486.7" r="2"/><circle cx="679.0" cy="486.7" r="2"/><circle cx="671.9" cy="486.7" r="2"/><circle cx="673.8" cy="486.7" r="2"/><circle cx="661.8" cy="486.7" r="2"/><circle cx="583.6" cy="486.7" r="2"/><circle cx="594.6" cy="486.7" r="2"/><circle cx="619.8" cy="486.7" r="2"/><circle cx="630.1" cy="486.7" r="2"/><circle cx="624.3" cy="486.7" r="2"/><circle cx="618.7" cy="486.7" r="2"/><circle cx="646.2" cy="486.7" r="2"/><circle cx="596.0" cy="486.7" r="2"/><circle cx="551.6" cy="486.7" r="2"/><circle cx="555.2" cy="486.7" r="2"/><circle cx="646.3" cy="486.7" r="2"/><circle cx="698.7" cy="486.7" r="2"/><circle cx="617.3" cy="486.7" r="2"/><circle cx="608.8" cy="486.7" r="2"/><circle cx="639.2" cy="486.7" r="2"/><circle cx="625.9" cy="486.7" r="2"/><circle cx="643.0" cy="486.7" r="2"/>
</g>
<g fill="#114a99" fill-opacity="0.18" stroke="#114a99" stroke-opacity="0.28" stroke-width="0.7">
<circle cx="519.8" cy="486.7" r="2.3"/><circle cx="525.3" cy="486.7" r="2.3"/><circle cx="549.0" cy="486.7" r="2.3"/><circle cx="701.5" cy="486.7" r="2.3"/>
</g>
<line x1="549.00" y1="486.68" x2="701.50" y2="486.68" stroke="#114a99" stroke-width="1.5" />
<rect x="599.5" y="483.3" width="47.0" height="6.8" fill="#114a99" fill-opacity="0.88" stroke="#114a99" stroke-width="1.4" rx="0.8"/>
<g fill="#fff" fill-opacity="0.42">
<rect x="610.3" y="484.9" width="1.6" height="3.6"/><rect x="628.3" y="484.9" width="1.6" height="3.6"/><rect x="640.2" y="484.9" width="1.6" height="3.6"/><rect x="637.6" y="484.9" width="1.6" height="3.6"/><rect x="622.1" y="484.9" width="1.6" height="3.6"/><rect x="629.6" y="484.9" width="1.6" height="3.6"/><rect x="635.9" y="484.9" width="1.6" height="3.6"/><rect x="605.1" y="484.9" width="1.6" height="3.6"/><rect x="629.9" y="484.9" width="1.6" height="3.6"/><rect x="640.6" y="484.9" width="1.6" height="3.6"/><rect x="635.1" y="484.9" width="1.6" height="3.6"/><rect x="633.8" y="484.9" width="1.6" height="3.6"/><rect x="622.1" y="484.9" width="1.6" height="3.6"/><rect x="609.2" y="484.9" width="1.6" height="3.6"/><rect x="635.4" y="484.9" width="1.6" height="3.6"/><rect x="615.8" y="484.9" width="1.6" height="3.6"/><rect x="635.9" y="484.9" width="1.6" height="3.6"/><rect x="643.3" y="484.9" width="1.6" height="3.6"/>
</g>
<g fill="#ee2211" fill-opacity="0.15" stroke="#ee2211" stroke-opacity="0.2" stroke-width="0.6">
<circle cx="594.7" cy="498.6" r="2"/><circle cx="594.9" cy="498.6" r="2"/><circle cx="616.3" cy="498.6" r="2"/><circle cx="607.6" cy="498.6" r="2"/><circle cx="585.9" cy="498.6" r="2"/><circle cx="584.2" cy="498.6" r="2"/><circle cx="585.1" cy="498.6" r="2"/><circle cx="614.7" cy="498.6" r="2"/><circle cx="610.8" cy="498.6" r="2"/><circle cx="584.9" cy="498.6" r="2"/><circle cx="606.1" cy="498.6" r="2"/><circle cx="579.2" cy="498.6" r="2"/><circle cx="591.9" cy="498.6" r="2"/><circle cx="589.8" cy="498.6" r="2"/><circle cx="591.9" cy="498.6" r="2"/><circle cx="594.6" cy="498.6" r="2"/><circle cx="616.7" cy="498.6" r="2"/><circle cx="597.8" cy="498.6" r="2"/><circle cx="590.2" cy="498.6" r="2"/><circle cx="588.2" cy="498.6" r="2"/><circle cx="603.5" cy="498.6" r="2"/><circle cx="592.5" cy="498.6" r="2"/><circle cx="606.1" cy="498.6" r="2"/><circle cx="585.3" cy="498.6" r="2"/><circle cx="597.3" cy="498.6" r="2"/><circle cx="601.7" cy="498.6" r="2"/>
</g>
<g fill="#ee2211" fill-opacity="0.18" stroke="#ee2211" stroke-opacity="0.28" stroke-width="0.7">
<circle cx="502.7" cy="498.6" r="2.3"/><circle cx="525.1" cy="498.6" r="2.3"/><circle cx="579.2" cy="498.6" r="2.3"/><circle cx="618.4" cy="498.6" r="2.3"/>
</g>
<line x1="579.20" y1="498.62" x2="618.40" y2="498.62" stroke="#ee2211" stroke-width="1.5" />
<rect x="587.4" y="495.2" width="17.0" height="6.8" fill="#ee2211" fill-opacity="0.88" stroke="#ee2211" stroke-width="1.4" rx="0.8"/>
<g fill="#fff" fill-opacity="0.42">
<rect x="593.2" y="496.8" width="1.6" height="3.6"/><rect x="592.5" y="496.8" width="1.6" height="3.6"/><rect x="597.0" y="496.8" width="1.6" height="3.6"/><rect x="592.8" y="496.8" width="1.6" height="3.6"/><rect x="594.8" y="496.8" width="1.6" height="3.6"/><rect x="591.1" y="496.8" width="1.6" height="3.6"/>
</g>
<g fill="#114a99" fill-opacity="0.15" stroke="#114a99" stroke-opacity="0.2" stroke-width="0.6">
<circle cx="626.4" cy="505.1" r="2"/><circle cx="593.4" cy="505.1" r="2"/><circle cx="599.6" cy="505.1" r="2"/><circle cx="607.0" cy="505.1" r="2"/><circle cx="626.0" cy="505.1" r="2"/><circle cx="597.4" cy="505.1" r="2"/><circle cx="626.8" cy="505.1" r="2"/><circle cx="602.2" cy="505.1" r="2"/><circle cx="604.0" cy="505.1" r="2"/><circle cx="603.5" cy="505.1" r="2"/><circle cx="616.3" cy="505.1" r="2"/><circle cx="605.1" cy="505.1" r="2"/><circle cx="604.1" cy="505.1" r="2"/><circle cx="604.6" cy="505.1" r="2"/><circle cx="605.9" cy="505.1" r="2"/><circle cx="596.7" cy="505.1" r="2"/><circle cx="584.9" cy="505.1" r="2"/><circle cx="606.8" cy="505.1" r="2"/><circle cx="593.8" cy="505.1" r="2"/><circle cx="600.0" cy="505.1" r="2"/><circle cx="588.7" cy="505.1" r="2"/><circle cx="601.9" cy="505.1" r="2"/><circle cx="604.8" cy="505.1" r="2"/><circle cx="598.2" cy="505.1" r="2"/><circle cx="595.3" cy="505.1" r="2"/><circle cx="600.3" cy="505.1" r="2"/>
</g>
<g fill="#114a99" fill-opacity="0.18" stroke="#114a99" stroke-opacity="0.28" stroke-width="0.7">
<circle cx="572.5" cy="505.1" r="2.3"/><circle cx="631.7" cy="505.1" r="2.3"/>
</g>
<line x1="572.50" y1="505.12" x2="631.70" y2="505.12" stroke="#114a99" stroke-width="1.5" />
<rect x="592.9" y="501.7" width="21.5" height="6.8" fill="#114a99" fill-opacity="0.88" stroke="#114a99" stroke-width="1.4" rx="0.8"/>
<g fill="#fff" fill-opacity="0.42">
<rect x="599.7" y="503.3" width="1.6" height="3.6"/><rect x="608.4" y="503.3" width="1.6" height="3.6"/><rect x="603.8" y="503.3" width="1.6" height="3.6"/><rect x="604.7" y="503.3" width="1.6" height="3.6"/><rect x="608.2" y="503.3" width="1.6" height="3.6"/><rect x="610.9" y="503.3" width="1.6" height="3.6"/><rect x="602.7" y="503.3" width="1.6" height="3.6"/><rect x="605.6" y="503.3" width="1.6" height="3.6"/>
</g>
<g fill="#ee2211" fill-opacity="0.15" stroke="#ee2211" stroke-opacity="0.2" stroke-width="0.6">
<circle cx="599.8" cy="517.1" r="2"/><circle cx="600.1" cy="517.1" r="2"/><circle cx="607.7" cy="517.1" r="2"/><circle cx="597.5" cy="517.1" r="2"/><circle cx="601.0" cy="517.1" r="2"/><circle cx="598.6" cy="517.1" r="2"/><circle cx="618.1" cy="517.1" r="2"/><circle cx="607.9" cy="517.1" r="2"/><circle cx="615.4" cy="517.1" r="2"/><circle cx="618.2" cy="517.1" r="2"/><circle cx="597.3" cy="517.1" r="2"/><circle cx="608.7" cy="517.1" r="2"/><circle cx="613.0" cy="517.1" r="2"/><circle cx="592.3" cy="517.1" r="2"/><circle cx="600.7" cy="517.1" r="2"/><circle cx="601.2" cy="517.1" r="2"/><circle cx="594.8" cy="517.1" r="2"/><circle cx="599.1" cy="517.1" r="2"/><circle cx="598.1" cy="517.1" r="2"/><circle cx="601.2" cy="517.1" r="2"/><circle cx="590.8" cy="517.1" r="2"/><circle cx="585.0" cy="517.1" r="2"/><circle cx="601.8" cy="517.1" r="2"/><circle cx="595.0" cy="517.1" r="2"/><circle cx="595.3" cy="517.1" r="2"/><circle cx="585.8" cy="517.1" r="2"/>
</g>
<g fill="#ee2211" fill-opacity="0.18" stroke="#ee2211" stroke-opacity="0.28" stroke-width="0.7">
<circle cx="495.4" cy="517.1" r="2.3"/><circle cx="518.7" cy="517.1" r="2.3"/><circle cx="578.5" cy="517.1" r="2.3"/><circle cx="620.6" cy="517.1" r="2.3"/>
</g>
<line x1="578.50" y1="517.06" x2="620.60" y2="517.06" stroke="#ee2211" stroke-width="1.5" />
<rect x="589.6" y="513.7" width="16.6" height="6.8" fill="#ee2211" fill-opacity="0.88" stroke="#ee2211" stroke-width="1.4" rx="0.8"/>
<g fill="#fff" fill-opacity="0.42">
<rect x="593.4" y="515.3" width="1.6" height="3.6"/><rect x="602.7" y="515.3" width="1.6" height="3.6"/><rect x="603.8" y="515.3" width="1.6" height="3.6"/><rect x="594.4" y="515.3" width="1.6" height="3.6"/><rect x="603.6" y="515.3" width="1.6" height="3.6"/><rect x="596.6" y="515.3" width="1.6" height="3.6"/>
</g>
<g fill="#114a99" fill-opacity="0.15" stroke="#114a99" stroke-opacity="0.2" stroke-width="0.6">
<circle cx="599.6" cy="523.6" r="2"/><circle cx="628.2" cy="523.6" r="2"/><circle cx="619.2" cy="523.6" r="2"/><circle cx="581.0" cy="523.6" r="2"/><circle cx="596.4" cy="523.6" r="2"/><circle cx="601.2" cy="523.6" r="2"/><circle cx="591.1" cy="523.6" r="2"/><circle cx="583.0" cy="523.6" r="2"/><circle cx="590.0" cy="523.6" r="2"/><circle cx="613.0" cy="523.6" r="2"/><circle cx="618.2" cy="523.6" r="2"/><circle cx="605.6" cy="523.6" r="2"/><circle cx="601.8" cy="523.6" r="2"/><circle cx="604.6" cy="523.6" r="2"/><circle cx="596.0" cy="523.6" r="2"/><circle cx="617.7" cy="523.6" r="2"/><circle cx="599.7" cy="523.6" r="2"/><circle cx="603.5" cy="523.6" r="2"/><circle cx="623.9" cy="523.6" r="2"/><circle cx="602.0" cy="523.6" r="2"/><circle cx="609.1" cy="523.6" r="2"/><circle cx="602.9" cy="523.6" r="2"/><circle cx="603.5" cy="523.6" r="2"/><circle cx="607.1" cy="523.6" r="2"/><circle cx="605.5" cy="523.6" r="2"/><circle cx="594.9" cy="523.6" r="2"/>
</g>
<g fill="#114a99" fill-opacity="0.18" stroke="#114a99" stroke-opacity="0.28" stroke-width="0.7">
<circle cx="571.8" cy="523.6" r="2.3"/><circle cx="628.8" cy="523.6" r="2.3"/>
</g>
<line x1="571.80" y1="523.56" x2="628.80" y2="523.56" stroke="#114a99" stroke-width="1.5" />
<rect x="594.4" y="520.2" width="18.9" height="6.8" fill="#114a99" fill-opacity="0.88" stroke="#114a99" stroke-width="1.4" rx="0.8"/>
<g fill="#fff" fill-opacity="0.42">
<rect x="598.3" y="521.8" width="1.6" height="3.6"/><rect x="602.7" y="521.8" width="1.6" height="3.6"/><rect x="610.0" y="521.8" width="1.6" height="3.6"/><rect x="608.6" y="521.8" width="1.6" height="3.6"/><rect x="600.3" y="521.8" width="1.6" height="3.6"/><rect x="598.6" y="521.8" width="1.6" height="3.6"/><rect x="610.1" y="521.8" width="1.6" height="3.6"/>
</g>
<g fill="#ee2211" fill-opacity="0.15" stroke="#ee2211" stroke-opacity="0.2" stroke-width="0.6">
<circle cx="599.7" cy="535.5" r="2"/><circle cx="604.2" cy="535.5" r="2"/><circle cx="583.1" cy="535.5" r="2"/><circle cx="582.0" cy="535.5" r="2"/><circle cx="603.8" cy="535.5" r="2"/><circle cx="594.7" cy="535.5" r="2"/><circle cx="582.5" cy="535.5" r="2"/><circle cx="612.5" cy="535.5" r="2"/><circle cx="602.0" cy="535.5" r="2"/><circle cx="607.7" cy="535.5" r="2"/><circle cx="609.4" cy="535.5" r="2"/><circle cx="604.5" cy="535.5" r="2"/><circle cx="610.3" cy="535.5" r="2"/><circle cx="603.3" cy="535.5" r="2"/><circle cx="591.6" cy="535.5" r="2"/><circle cx="599.5" cy="535.5" r="2"/><circle cx="582.7" cy="535.5" r="2"/><circle cx="592.5" cy="535.5" r="2"/><circle cx="597.2" cy="535.5" r="2"/><circle cx="601.3" cy="535.5" r="2"/><circle cx="592.6" cy="535.5" r="2"/><circle cx="596.8" cy="535.5" r="2"/><circle cx="600.8" cy="535.5" r="2"/><circle cx="600.3" cy="535.5" r="2"/><circle cx="602.1" cy="535.5" r="2"/><circle cx="599.1" cy="535.5" r="2"/>
</g>
<g fill="#ee2211" fill-opacity="0.18" stroke="#ee2211" stroke-opacity="0.28" stroke-width="0.7">
<circle cx="580.0" cy="535.5" r="2.3"/><circle cx="614.6" cy="535.5" r="2.3"/>
</g>
<line x1="580.00" y1="535.50" x2="614.60" y2="535.50" stroke="#ee2211" stroke-width="1.5" />
<rect x="591.8" y="532.1" width="11.7" height="6.8" fill="#ee2211" fill-opacity="0.88" stroke="#ee2211" stroke-width="1.4" rx="0.8"/>
<g fill="#fff" fill-opacity="0.42">
<rect x="596.2" y="533.7" width="1.6" height="3.6"/><rect x="596.1" y="533.7" width="1.6" height="3.6"/><rect x="599.6" y="533.7" width="1.6" height="3.6"/><rect x="596.0" y="533.7" width="1.6" height="3.6"/>
</g>
<g fill="#114a99" fill-opacity="0.15" stroke="#114a99" stroke-opacity="0.2" stroke-width="0.6">
<circle cx="603.6" cy="542.0" r="2"/><circle cx="591.7" cy="542.0" r="2"/><circle cx="597.9" cy="542.0" r="2"/><circle cx="585.8" cy="542.0" r="2"/><circle cx="594.4" cy="542.0" r="2"/><circle cx="585.7" cy="542.0" r="2"/><circle cx="612.2" cy="542.0" r="2"/><circle cx="605.5" cy="542.0" r="2"/><circle cx="592.1" cy="542.0" r="2"/><circle cx="602.7" cy="542.0" r="2"/><circle cx="602.5" cy="542.0" r="2"/><circle cx="597.9" cy="542.0" r="2"/><circle cx="602.6" cy="542.0" r="2"/><circle cx="592.2" cy="542.0" r="2"/><circle cx="585.3" cy="542.0" r="2"/><circle cx="599.7" cy="542.0" r="2"/><circle cx="592.4" cy="542.0" r="2"/><circle cx="604.8" cy="542.0" r="2"/><circle cx="591.3" cy="542.0" r="2"/><circle cx="585.1" cy="542.0" r="2"/><circle cx="591.6" cy="542.0" r="2"/><circle cx="611.0" cy="542.0" r="2"/><circle cx="596.5" cy="542.0" r="2"/><circle cx="589.2" cy="542.0" r="2"/><circle cx="593.7" cy="542.0" r="2"/><circle cx="603.2" cy="542.0" r="2"/>
</g>
<g fill="#114a99" fill-opacity="0.18" stroke="#114a99" stroke-opacity="0.28" stroke-width="0.7">
<circle cx="585.1" cy="542.0" r="2.3"/><circle cx="622.1" cy="542.0" r="2.3"/>
</g>
<line x1="585.10" y1="542.00" x2="622.10" y2="542.00" stroke="#114a99" stroke-width="1.5" />
<rect x="592.4" y="538.6" width="13.8" height="6.8" fill="#114a99" fill-opacity="0.88" stroke="#114a99" stroke-width="1.4" rx="0.8"/>
<g fill="#fff" fill-opacity="0.42">
<rect x="594.9" y="540.2" width="1.6" height="3.6"/><rect x="595.7" y="540.2" width="1.6" height="3.6"/><rect x="595.1" y="540.2" width="1.6" height="3.6"/><rect x="601.7" y="540.2" width="1.6" height="3.6"/><rect x="596.9" y="540.2" width="1.6" height="3.6"/>
</g>
<g fill="#ee2211" fill-opacity="0.15" stroke="#ee2211" stroke-opacity="0.2" stroke-width="0.6">
<circle cx="570.8" cy="553.9" r="2"/><circle cx="565.5" cy="553.9" r="2"/><circle cx="617.1" cy="553.9" r="2"/><circle cx="619.1" cy="553.9" r="2"/><circle cx="605.4" cy="553.9" r="2"/><circle cx="578.9" cy="553.9" r="2"/><circle cx="576.2" cy="553.9" r="2"/><circle cx="579.7" cy="553.9" r="2"/><circle cx="591.0" cy="553.9" r="2"/><circle cx="570.4" cy="553.9" r="2"/><circle cx="582.6" cy="553.9" r="2"/><circle cx="596.3" cy="553.9" r="2"/><circle cx="627.9" cy="553.9" r="2"/><circle cx="584.0" cy="553.9" r="2"/><circle cx="582.9" cy="553.9" r="2"/><circle cx="589.7" cy="553.9" r="2"/><circle cx="604.2" cy="553.9" r="2"/><circle cx="590.2" cy="553.9" r="2"/><circle cx="592.3" cy="553.9" r="2"/><circle cx="593.2" cy="553.9" r="2"/><circle cx="581.3" cy="553.9" r="2"/><circle cx="603.2" cy="553.9" r="2"/><circle cx="583.6" cy="553.9" r="2"/><circle cx="592.5" cy="553.9" r="2"/><circle cx="591.3" cy="553.9" r="2"/><circle cx="592.7" cy="553.9" r="2"/>
</g>
<g fill="#ee2211" fill-opacity="0.18" stroke="#ee2211" stroke-opacity="0.28" stroke-width="0.7">
<circle cx="476.6" cy="553.9" r="2.3"/><circle cx="559.7" cy="553.9" r="2.3"/><circle cx="627.9" cy="553.9" r="2.3"/>
</g>
<line x1="559.70" y1="553.94" x2="627.90" y2="553.94" stroke="#ee2211" stroke-width="1.5" />
<rect x="578.5" y="550.5" width="28.4" height="6.8" fill="#ee2211" fill-opacity="0.88" stroke="#ee2211" stroke-width="1.4" rx="0.8"/>
<g fill="#fff" fill-opacity="0.42">
<rect x="586.9" y="552.1" width="1.6" height="3.6"/><rect x="582.7" y="552.1" width="1.6" height="3.6"/><rect x="590.2" y="552.1" width="1.6" height="3.6"/><rect x="581.5" y="552.1" width="1.6" height="3.6"/><rect x="581.0" y="552.1" width="1.6" height="3.6"/><rect x="587.9" y="552.1" width="1.6" height="3.6"/><rect x="586.2" y="552.1" width="1.6" height="3.6"/><rect x="594.8" y="552.1" width="1.6" height="3.6"/><rect x="593.4" y="552.1" width="1.6" height="3.6"/><rect x="598.8" y="552.1" width="1.6" height="3.6"/>
</g>
<g fill="#114a99" fill-opacity="0.15" stroke="#114a99" stroke-opacity="0.2" stroke-width="0.6">
<circle cx="603.6" cy="560.4" r="2"/><circle cx="608.2" cy="560.4" r="2"/><circle cx="621.1" cy="560.4" r="2"/><circle cx="582.6" cy="560.4" r="2"/><circle cx="577.6" cy="560.4" r="2"/><circle cx="629.4" cy="560.4" r="2"/><circle cx="563.7" cy="560.4" r="2"/><circle cx="608.9" cy="560.4" r="2"/><circle cx="602.5" cy="560.4" r="2"/><circle cx="555.3" cy="560.4" r="2"/><circle cx="619.3" cy="560.4" r="2"/><circle cx="573.8" cy="560.4" r="2"/><circle cx="584.5" cy="560.4" r="2"/><circle cx="584.0" cy="560.4" r="2"/><circle cx="605.6" cy="560.4" r="2"/><circle cx="594.4" cy="560.4" r="2"/><circle cx="583.9" cy="560.4" r="2"/><circle cx="599.6" cy="560.4" r="2"/><circle cx="616.8" cy="560.4" r="2"/><circle cx="577.9" cy="560.4" r="2"/><circle cx="612.0" cy="560.4" r="2"/><circle cx="583.9" cy="560.4" r="2"/><circle cx="621.0" cy="560.4" r="2"/><circle cx="587.5" cy="560.4" r="2"/><circle cx="598.4" cy="560.4" r="2"/><circle cx="591.7" cy="560.4" r="2"/>
</g>
<g fill="#114a99" fill-opacity="0.18" stroke="#114a99" stroke-opacity="0.28" stroke-width="0.7">
<circle cx="551.9" cy="560.4" r="2.3"/><circle cx="630.6" cy="560.4" r="2.3"/>
</g>
<line x1="551.90" y1="560.44" x2="630.60" y2="560.44" stroke="#114a99" stroke-width="1.5" />
<rect x="587.4" y="557.0" width="29.9" height="6.8" fill="#114a99" fill-opacity="0.88" stroke="#114a99" stroke-width="1.4" rx="0.8"/>
<g fill="#fff" fill-opacity="0.42">
<rect x="590.2" y="558.6" width="1.6" height="3.6"/><rect x="592.8" y="558.6" width="1.6" height="3.6"/><rect x="598.7" y="558.6" width="1.6" height="3.6"/><rect x="592.1" y="558.6" width="1.6" height="3.6"/><rect x="611.0" y="558.6" width="1.6" height="3.6"/><rect x="603.9" y="558.6" width="1.6" height="3.6"/><rect x="605.7" y="558.6" width="1.6" height="3.6"/><rect x="605.6" y="558.6" width="1.6" height="3.6"/><rect x="607.0" y="558.6" width="1.6" height="3.6"/><rect x="602.1" y="558.6" width="1.6" height="3.6"/><rect x="589.5" y="558.6" width="1.6" height="3.6"/>
</g>
<g fill="#ee2211" fill-opacity="0.15" stroke="#ee2211" stroke-opacity="0.2" stroke-width="0.6">
<circle cx="600.0" cy="572.4" r="2"/><circle cx="598.5" cy="572.4" r="2"/><circle cx="591.0" cy="572.4" r="2"/><circle cx="592.0" cy="572.4" r="2"/><circle cx="595.8" cy="572.4" r="2"/><circle cx="577.6" cy="572.4" r="2"/><circle cx="598.1" cy="572.4" r="2"/><circle cx="583.3" cy="572.4" r="2"/><circle cx="577.9" cy="572.4" r="2"/><circle cx="583.7" cy="572.4" r="2"/><circle cx="592.6" cy="572.4" r="2"/><circle cx="589.0" cy="572.4" r="2"/><circle cx="592.1" cy="572.4" r="2"/><circle cx="576.5" cy="572.4" r="2"/><circle cx="587.1" cy="572.4" r="2"/><circle cx="593.4" cy="572.4" r="2"/><circle cx="583.9" cy="572.4" r="2"/><circle cx="594.4" cy="572.4" r="2"/><circle cx="594.1" cy="572.4" r="2"/><circle cx="584.7" cy="572.4" r="2"/><circle cx="591.6" cy="572.4" r="2"/><circle cx="591.2" cy="572.4" r="2"/><circle cx="596.0" cy="572.4" r="2"/><circle cx="596.9" cy="572.4" r="2"/><circle cx="592.9" cy="572.4" r="2"/><circle cx="587.9" cy="572.4" r="2"/>
</g>
<g fill="#ee2211" fill-opacity="0.18" stroke="#ee2211" stroke-opacity="0.28" stroke-width="0.7">
<circle cx="615.7" cy="572.4" r="2.3"/><circle cx="623.5" cy="572.4" r="2.3"/><circle cx="575.6" cy="572.4" r="2.3"/><circle cx="606.2" cy="572.4" r="2.3"/>
</g>
<line x1="575.60" y1="572.38" x2="606.20" y2="572.38" stroke="#ee2211" stroke-width="1.5" />
<rect x="588.5" y="569.0" width="9.3" height="6.8" fill="#ee2211" fill-opacity="0.88" stroke="#ee2211" stroke-width="1.4" rx="0.8"/>
<g fill="#fff" fill-opacity="0.42">
<rect x="593.5" y="570.6" width="1.6" height="3.6"/><rect x="590.6" y="570.6" width="1.6" height="3.6"/><rect x="590.8" y="570.6" width="1.6" height="3.6"/>
</g>
<g fill="#114a99" fill-opacity="0.15" stroke="#114a99" stroke-opacity="0.2" stroke-width="0.6">
<circle cx="592.3" cy="578.9" r="2"/><circle cx="608.8" cy="578.9" r="2"/><circle cx="609.6" cy="578.9" r="2"/><circle cx="608.9" cy="578.9" r="2"/><circle cx="593.2" cy="578.9" r="2"/><circle cx="602.4" cy="578.9" r="2"/><circle cx="600.3" cy="578.9" r="2"/><circle cx="600.4" cy="578.9" r="2"/><circle cx="586.2" cy="578.9" r="2"/><circle cx="617.8" cy="578.9" r="2"/><circle cx="605.2" cy="578.9" r="2"/><circle cx="619.5" cy="578.9" r="2"/><circle cx="599.5" cy="578.9" r="2"/><circle cx="597.5" cy="578.9" r="2"/><circle cx="583.5" cy="578.9" r="2"/><circle cx="601.9" cy="578.9" r="2"/><circle cx="606.8" cy="578.9" r="2"/><circle cx="596.3" cy="578.9" r="2"/><circle cx="597.4" cy="578.9" r="2"/><circle cx="603.6" cy="578.9" r="2"/><circle cx="603.4" cy="578.9" r="2"/><circle cx="596.2" cy="578.9" r="2"/><circle cx="594.2" cy="578.9" r="2"/><circle cx="595.9" cy="578.9" r="2"/><circle cx="581.4" cy="578.9" r="2"/><circle cx="595.1" cy="578.9" r="2"/>
</g>
<g fill="#114a99" fill-opacity="0.18" stroke="#114a99" stroke-opacity="0.28" stroke-width="0.7">
<circle cx="581.4" cy="578.9" r="2.3"/><circle cx="622.1" cy="578.9" r="2.3"/>
</g>
<line x1="581.40" y1="578.88" x2="622.10" y2="578.88" stroke="#114a99" stroke-width="1.5" />
<rect x="591.1" y="575.5" width="14.0" height="6.8" fill="#114a99" fill-opacity="0.88" stroke="#114a99" stroke-width="1.4" rx="0.8"/>
<g fill="#fff" fill-opacity="0.42">
<rect x="594.4" y="577.1" width="1.6" height="3.6"/><rect x="601.3" y="577.1" width="1.6" height="3.6"/><rect x="598.2" y="577.1" width="1.6" height="3.6"/><rect x="602.0" y="577.1" width="1.6" height="3.6"/><rect x="600.1" y="577.1" width="1.6" height="3.6"/>
</g>
<g fill="#ee2211" fill-opacity="0.15" stroke="#ee2211" stroke-opacity="0.2" stroke-width="0.6">
<circle cx="585.9" cy="590.8" r="2"/><circle cx="607.3" cy="590.8" r="2"/><circle cx="594.1" cy="590.8" r="2"/><circle cx="579.3" cy="590.8" r="2"/><circle cx="578.6" cy="590.8" r="2"/><circle cx="594.3" cy="590.8" r="2"/><circle cx="593.0" cy="590.8" r="2"/><circle cx="588.2" cy="590.8" r="2"/><circle cx="583.0" cy="590.8" r="2"/><circle cx="589.5" cy="590.8" r="2"/><circle cx="587.0" cy="590.8" r="2"/><circle cx="603.3" cy="590.8" r="2"/><circle cx="602.7" cy="590.8" r="2"/><circle cx="592.1" cy="590.8" r="2"/><circle cx="593.7" cy="590.8" r="2"/><circle cx="589.2" cy="590.8" r="2"/><circle cx="601.1" cy="590.8" r="2"/><circle cx="587.5" cy="590.8" r="2"/><circle cx="596.3" cy="590.8" r="2"/><circle cx="588.9" cy="590.8" r="2"/><circle cx="587.5" cy="590.8" r="2"/><circle cx="596.6" cy="590.8" r="2"/><circle cx="600.6" cy="590.8" r="2"/><circle cx="591.9" cy="590.8" r="2"/><circle cx="587.7" cy="590.8" r="2"/><circle cx="597.2" cy="590.8" r="2"/>
</g>
<g fill="#ee2211" fill-opacity="0.18" stroke="#ee2211" stroke-opacity="0.28" stroke-width="0.7">
<circle cx="555.9" cy="590.8" r="2.3"/><circle cx="570.3" cy="590.8" r="2.3"/><circle cx="578.5" cy="590.8" r="2.3"/><circle cx="610.6" cy="590.8" r="2.3"/>
</g>
<line x1="578.50" y1="590.82" x2="610.60" y2="590.82" stroke="#ee2211" stroke-width="1.5" />
<rect x="586.2" y="587.4" width="11.6" height="6.8" fill="#ee2211" fill-opacity="0.88" stroke="#ee2211" stroke-width="1.4" rx="0.8"/>
<g fill="#fff" fill-opacity="0.42">
<rect x="590.3" y="589.0" width="1.6" height="3.6"/><rect x="588.6" y="589.0" width="1.6" height="3.6"/><rect x="589.0" y="589.0" width="1.6" height="3.6"/><rect x="594.5" y="589.0" width="1.6" height="3.6"/>
</g>
<g fill="#114a99" fill-opacity="0.15" stroke="#114a99" stroke-opacity="0.2" stroke-width="0.6">
<circle cx="582.0" cy="597.3" r="2"/><circle cx="617.8" cy="597.3" r="2"/><circle cx="580.0" cy="597.3" r="2"/><circle cx="580.9" cy="597.3" r="2"/><circle cx="594.4" cy="597.3" r="2"/><circle cx="576.7" cy="597.3" r="2"/><circle cx="586.8" cy="597.3" r="2"/><circle cx="618.9" cy="597.3" r="2"/><circle cx="614.9" cy="597.3" r="2"/><circle cx="611.0" cy="597.3" r="2"/><circle cx="582.1" cy="597.3" r="2"/><circle cx="580.8" cy="597.3" r="2"/><circle cx="611.6" cy="597.3" r="2"/><circle cx="593.6" cy="597.3" r="2"/><circle cx="598.0" cy="597.3" r="2"/><circle cx="595.2" cy="597.3" r="2"/><circle cx="597.3" cy="597.3" r="2"/><circle cx="586.7" cy="597.3" r="2"/><circle cx="598.9" cy="597.3" r="2"/><circle cx="582.8" cy="597.3" r="2"/><circle cx="597.9" cy="597.3" r="2"/><circle cx="602.0" cy="597.3" r="2"/><circle cx="603.8" cy="597.3" r="2"/><circle cx="596.1" cy="597.3" r="2"/><circle cx="588.7" cy="597.3" r="2"/><circle cx="600.4" cy="597.3" r="2"/>
</g>
<g fill="#114a99" fill-opacity="0.18" stroke="#114a99" stroke-opacity="0.28" stroke-width="0.7">
<circle cx="566.3" cy="597.3" r="2.3"/><circle cx="621.3" cy="597.3" r="2.3"/>
</g>
<line x1="566.30" y1="597.32" x2="621.30" y2="597.32" stroke="#114a99" stroke-width="1.5" />
<rect x="590.7" y="593.9" width="15.9" height="6.8" fill="#114a99" fill-opacity="0.88" stroke="#114a99" stroke-width="1.4" rx="0.8"/>
<g fill="#fff" fill-opacity="0.42">
<rect x="596.2" y="595.5" width="1.6" height="3.6"/><rect x="601.5" y="595.5" width="1.6" height="3.6"/><rect x="604.3" y="595.5" width="1.6" height="3.6"/><rect x="595.8" y="595.5" width="1.6" height="3.6"/><rect x="600.5" y="595.5" width="1.6" height="3.6"/><rect x="596.3" y="595.5" width="1.6" height="3.6"/>
</g>
<g fill="#ee2211" fill-opacity="0.15" stroke="#ee2211" stroke-opacity="0.2" stroke-width="0.6">
<circle cx="592.0" cy="609.3" r="2"/><circle cx="586.8" cy="609.3" r="2"/><circle cx="579.5" cy="609.3" r="2"/><circle cx="579.3" cy="609.3" r="2"/><circle cx="580.8" cy="609.3" r="2"/><circle cx="603.2" cy="609.3" r="2"/><circle cx="590.1" cy="609.3" r="2"/><circle cx="581.2" cy="609.3" r="2"/><circle cx="603.2" cy="609.3" r="2"/><circle cx="606.1" cy="609.3" r="2"/><circle cx="583.1" cy="609.3" r="2"/><circle cx="587.5" cy="609.3" r="2"/><circle cx="587.4" cy="609.3" r="2"/><circle cx="589.1" cy="609.3" r="2"/><circle cx="584.9" cy="609.3" r="2"/><circle cx="588.8" cy="609.3" r="2"/><circle cx="586.8" cy="609.3" r="2"/><circle cx="591.4" cy="609.3" r="2"/><circle cx="574.3" cy="609.3" r="2"/><circle cx="580.8" cy="609.3" r="2"/><circle cx="586.4" cy="609.3" r="2"/><circle cx="579.8" cy="609.3" r="2"/><circle cx="579.7" cy="609.3" r="2"/><circle cx="590.5" cy="609.3" r="2"/><circle cx="582.3" cy="609.3" r="2"/><circle cx="590.5" cy="609.3" r="2"/>
</g>
<g fill="#ee2211" fill-opacity="0.18" stroke="#ee2211" stroke-opacity="0.28" stroke-width="0.7">
<circle cx="539.0" cy="609.3" r="2.3"/><circle cx="555.2" cy="609.3" r="2.3"/><circle cx="559.2" cy="609.3" r="2.3"/><circle cx="574.1" cy="609.3" r="2.3"/><circle cx="606.2" cy="609.3" r="2.3"/>
</g>
<line x1="574.10" y1="609.26" x2="606.20" y2="609.26" stroke="#ee2211" stroke-width="1.5" />
<rect x="581.1" y="605.9" width="10.7" height="6.8" fill="#ee2211" fill-opacity="0.88" stroke="#ee2211" stroke-width="1.4" rx="0.8"/>
<g fill="#fff" fill-opacity="0.42">
<rect x="583.5" y="607.5" width="1.6" height="3.6"/><rect x="585.0" y="607.5" width="1.6" height="3.6"/><rect x="589.6" y="607.5" width="1.6" height="3.6"/><rect x="583.9" y="607.5" width="1.6" height="3.6"/>
</g>
<g fill="#114a99" fill-opacity="0.15" stroke="#114a99" stroke-opacity="0.2" stroke-width="0.6">
<circle cx="593.6" cy="615.8" r="2"/><circle cx="598.2" cy="615.8" r="2"/><circle cx="606.7" cy="615.8" r="2"/><circle cx="583.1" cy="615.8" r="2"/><circle cx="585.1" cy="615.8" r="2"/><circle cx="584.3" cy="615.8" r="2"/><circle cx="589.8" cy="615.8" r="2"/><circle cx="591.5" cy="615.8" r="2"/><circle cx="610.0" cy="615.8" r="2"/><circle cx="606.2" cy="615.8" r="2"/><circle cx="596.8" cy="615.8" r="2"/><circle cx="594.6" cy="615.8" r="2"/><circle cx="606.9" cy="615.8" r="2"/><circle cx="598.0" cy="615.8" r="2"/><circle cx="602.3" cy="615.8" r="2"/><circle cx="590.7" cy="615.8" r="2"/><circle cx="595.6" cy="615.8" r="2"/><circle cx="595.6" cy="615.8" r="2"/><circle cx="582.7" cy="615.8" r="2"/><circle cx="606.2" cy="615.8" r="2"/><circle cx="602.3" cy="615.8" r="2"/><circle cx="582.9" cy="615.8" r="2"/><circle cx="601.1" cy="615.8" r="2"/><circle cx="594.7" cy="615.8" r="2"/><circle cx="599.0" cy="615.8" r="2"/><circle cx="598.4" cy="615.8" r="2"/>
</g>
<g fill="#114a99" fill-opacity="0.18" stroke="#114a99" stroke-opacity="0.28" stroke-width="0.7">
<circle cx="575.2" cy="615.8" r="2.3"/><circle cx="611.7" cy="615.8" r="2.3"/>
</g>
<line x1="575.20" y1="615.76" x2="611.70" y2="615.76" stroke="#114a99" stroke-width="1.5" />
<rect x="589.6" y="612.4" width="12.2" height="6.8" fill="#114a99" fill-opacity="0.88" stroke="#114a99" stroke-width="1.4" rx="0.8"/>
<g fill="#fff" fill-opacity="0.42">
<rect x="595.9" y="614.0" width="1.6" height="3.6"/><rect x="597.2" y="614.0" width="1.6" height="3.6"/><rect x="599.3" y="614.0" width="1.6" height="3.6"/><rect x="597.5" y="614.0" width="1.6" height="3.6"/>
</g>
<g fill="#ee2211" fill-opacity="0.15" stroke="#ee2211" stroke-opacity="0.2" stroke-width="0.6">
<circle cx="591.7" cy="627.7" r="2"/><circle cx="594.3" cy="627.7" r="2"/><circle cx="587.5" cy="627.7" r="2"/><circle cx="589.6" cy="627.7" r="2"/><circle cx="578.3" cy="627.7" r="2"/><circle cx="594.7" cy="627.7" r="2"/><circle cx="582.5" cy="627.7" r="2"/><circle cx="597.7" cy="627.7" r="2"/><circle cx="591.7" cy="627.7" r="2"/><circle cx="584.1" cy="627.7" r="2"/><circle cx="590.8" cy="627.7" r="2"/><circle cx="590.9" cy="627.7" r="2"/><circle cx="584.0" cy="627.7" r="2"/><circle cx="583.3" cy="627.7" r="2"/><circle cx="589.7" cy="627.7" r="2"/><circle cx="589.5" cy="627.7" r="2"/><circle cx="582.7" cy="627.7" r="2"/><circle cx="587.6" cy="627.7" r="2"/><circle cx="586.1" cy="627.7" r="2"/><circle cx="590.5" cy="627.7" r="2"/><circle cx="587.9" cy="627.7" r="2"/><circle cx="588.1" cy="627.7" r="2"/><circle cx="586.9" cy="627.7" r="2"/><circle cx="593.1" cy="627.7" r="2"/><circle cx="594.6" cy="627.7" r="2"/><circle cx="586.8" cy="627.7" r="2"/>
</g>
<g fill="#ee2211" fill-opacity="0.18" stroke="#ee2211" stroke-opacity="0.28" stroke-width="0.7">
<circle cx="559.7" cy="627.7" r="2.3"/><circle cx="568.1" cy="627.7" r="2.3"/><circle cx="605.1" cy="627.7" r="2.3"/><circle cx="577.4" cy="627.7" r="2.3"/><circle cx="599.5" cy="627.7" r="2.3"/>
</g>
<line x1="577.40" y1="627.70" x2="599.50" y2="627.70" stroke="#ee2211" stroke-width="1.5" />
<rect x="584.0" y="624.3" width="8.9" height="6.8" fill="#ee2211" fill-opacity="0.88" stroke="#ee2211" stroke-width="1.4" rx="0.8"/>
<g fill="#fff" fill-opacity="0.42">
<rect x="590.3" y="625.9" width="1.6" height="3.6"/><rect x="588.3" y="625.9" width="1.6" height="3.6"/><rect x="587.2" y="625.9" width="1.6" height="3.6"/>
</g>
<g fill="#114a99" fill-opacity="0.15" stroke="#114a99" stroke-opacity="0.2" stroke-width="0.6">
<circle cx="586.0" cy="634.2" r="2"/><circle cx="628.6" cy="634.2" r="2"/><circle cx="613.3" cy="634.2" r="2"/><circle cx="589.6" cy="634.2" r="2"/><circle cx="572.5" cy="634.2" r="2"/><circle cx="601.0" cy="634.2" r="2"/><circle cx="611.5" cy="634.2" r="2"/><circle cx="596.3" cy="634.2" r="2"/><circle cx="586.6" cy="634.2" r="2"/><circle cx="611.1" cy="634.2" r="2"/><circle cx="600.0" cy="634.2" r="2"/><circle cx="588.5" cy="634.2" r="2"/><circle cx="603.0" cy="634.2" r="2"/><circle cx="594.7" cy="634.2" r="2"/><circle cx="576.4" cy="634.2" r="2"/><circle cx="601.0" cy="634.2" r="2"/><circle cx="599.2" cy="634.2" r="2"/><circle cx="612.6" cy="634.2" r="2"/><circle cx="591.4" cy="634.2" r="2"/><circle cx="578.2" cy="634.2" r="2"/><circle cx="601.1" cy="634.2" r="2"/><circle cx="622.8" cy="634.2" r="2"/><circle cx="584.0" cy="634.2" r="2"/><circle cx="612.9" cy="634.2" r="2"/><circle cx="593.4" cy="634.2" r="2"/><circle cx="600.8" cy="634.2" r="2"/>
</g>
<g fill="#114a99" fill-opacity="0.18" stroke="#114a99" stroke-opacity="0.28" stroke-width="0.7">
<circle cx="633.9" cy="634.2" r="2.3"/><circle cx="571.2" cy="634.2" r="2.3"/><circle cx="631.0" cy="634.2" r="2.3"/>
</g>
<line x1="571.20" y1="634.20" x2="631.00" y2="634.20" stroke="#114a99" stroke-width="1.5" />
<rect x="581.8" y="630.8" width="21.1" height="6.8" fill="#114a99" fill-opacity="0.88" stroke="#114a99" stroke-width="1.4" rx="0.8"/>
<g fill="#fff" fill-opacity="0.42">
<rect x="596.8" y="632.4" width="1.6" height="3.6"/><rect x="588.8" y="632.4" width="1.6" height="3.6"/><rect x="600.1" y="632.4" width="1.6" height="3.6"/><rect x="592.3" y="632.4" width="1.6" height="3.6"/><rect x="587.0" y="632.4" width="1.6" height="3.6"/><rect x="587.6" y="632.4" width="1.6" height="3.6"/><rect x="590.9" y="632.4" width="1.6" height="3.6"/><rect x="595.2" y="632.4" width="1.6" height="3.6"/>
</g>
<g fill="#ee2211" fill-opacity="0.15" stroke="#ee2211" stroke-opacity="0.2" stroke-width="0.6">
<circle cx="601.2" cy="646.1" r="2"/><circle cx="584.8" cy="646.1" r="2"/><circle cx="589.8" cy="646.1" r="2"/><circle cx="586.1" cy="646.1" r="2"/><circle cx="601.7" cy="646.1" r="2"/><circle cx="584.7" cy="646.1" r="2"/><circle cx="582.9" cy="646.1" r="2"/><circle cx="583.0" cy="646.1" r="2"/><circle cx="589.8" cy="646.1" r="2"/><circle cx="600.1" cy="646.1" r="2"/><circle cx="598.1" cy="646.1" r="2"/><circle cx="588.8" cy="646.1" r="2"/><circle cx="602.2" cy="646.1" r="2"/><circle cx="593.1" cy="646.1" r="2"/><circle cx="592.0" cy="646.1" r="2"/><circle cx="595.5" cy="646.1" r="2"/><circle cx="599.4" cy="646.1" r="2"/><circle cx="590.6" cy="646.1" r="2"/><circle cx="599.1" cy="646.1" r="2"/><circle cx="594.4" cy="646.1" r="2"/><circle cx="590.3" cy="646.1" r="2"/><circle cx="595.9" cy="646.1" r="2"/><circle cx="592.0" cy="646.1" r="2"/><circle cx="595.4" cy="646.1" r="2"/><circle cx="596.5" cy="646.1" r="2"/><circle cx="593.3" cy="646.1" r="2"/>
</g>
<g fill="#ee2211" fill-opacity="0.18" stroke="#ee2211" stroke-opacity="0.28" stroke-width="0.7">
<circle cx="570.7" cy="646.1" r="2.3"/><circle cx="574.7" cy="646.1" r="2.3"/><circle cx="581.8" cy="646.1" r="2.3"/><circle cx="602.2" cy="646.1" r="2.3"/>
</g>
<line x1="581.80" y1="646.14" x2="602.20" y2="646.14" stroke="#ee2211" stroke-width="1.5" />
<rect x="588.0" y="642.7" width="10.4" height="6.8" fill="#ee2211" fill-opacity="0.88" stroke="#ee2211" stroke-width="1.4" rx="0.8"/>
<g fill="#fff" fill-opacity="0.42">
<rect x="592.2" y="644.3" width="1.6" height="3.6"/><rect x="596.1" y="644.3" width="1.6" height="3.6"/><rect x="590.8" y="644.3" width="1.6" height="3.6"/>
</g>
<g fill="#114a99" fill-opacity="0.15" stroke="#114a99" stroke-opacity="0.2" stroke-width="0.6">
<circle cx="597.4" cy="652.6" r="2"/><circle cx="575.6" cy="652.6" r="2"/><circle cx="579.9" cy="652.6" r="2"/><circle cx="593.3" cy="652.6" r="2"/><circle cx="593.3" cy="652.6" r="2"/><circle cx="582.1" cy="652.6" r="2"/><circle cx="571.0" cy="652.6" r="2"/><circle cx="583.2" cy="652.6" r="2"/><circle cx="580.3" cy="652.6" r="2"/><circle cx="596.1" cy="652.6" r="2"/><circle cx="585.9" cy="652.6" r="2"/><circle cx="589.1" cy="652.6" r="2"/><circle cx="585.1" cy="652.6" r="2"/><circle cx="583.1" cy="652.6" r="2"/><circle cx="575.1" cy="652.6" r="2"/><circle cx="589.6" cy="652.6" r="2"/><circle cx="584.2" cy="652.6" r="2"/><circle cx="582.3" cy="652.6" r="2"/><circle cx="586.0" cy="652.6" r="2"/><circle cx="584.4" cy="652.6" r="2"/><circle cx="587.9" cy="652.6" r="2"/><circle cx="581.9" cy="652.6" r="2"/><circle cx="583.8" cy="652.6" r="2"/><circle cx="571.7" cy="652.6" r="2"/><circle cx="581.6" cy="652.6" r="2"/><circle cx="587.9" cy="652.6" r="2"/>
</g>
<g fill="#114a99" fill-opacity="0.18" stroke="#114a99" stroke-opacity="0.28" stroke-width="0.7">
<circle cx="569.6" cy="652.6" r="2.3"/><circle cx="598.4" cy="652.6" r="2.3"/>
</g>
<line x1="569.60" y1="652.64" x2="598.40" y2="652.64" stroke="#114a99" stroke-width="1.5" />
<rect x="576.9" y="649.2" width="14.2" height="6.8" fill="#114a99" fill-opacity="0.88" stroke="#114a99" stroke-width="1.4" rx="0.8"/>
<g fill="#fff" fill-opacity="0.42">
<rect x="588.7" y="650.8" width="1.6" height="3.6"/><rect x="585.2" y="650.8" width="1.6" height="3.6"/><rect x="581.6" y="650.8" width="1.6" height="3.6"/><rect x="586.2" y="650.8" width="1.6" height="3.6"/><rect x="582.1" y="650.8" width="1.6" height="3.6"/>
</g>
<g fill="#ee2211" fill-opacity="0.15" stroke="#ee2211" stroke-opacity="0.2" stroke-width="0.6">
<circle cx="563.6" cy="664.6" r="2"/><circle cx="544.4" cy="664.6" r="2"/><circle cx="597.7" cy="664.6" r="2"/><circle cx="609.1" cy="664.6" r="2"/><circle cx="589.0" cy="664.6" r="2"/><circle cx="611.0" cy="664.6" r="2"/><circle cx="545.8" cy="664.6" r="2"/><circle cx="560.7" cy="664.6" r="2"/><circle cx="577.8" cy="664.6" r="2"/><circle cx="611.9" cy="664.6" r="2"/><circle cx="593.6" cy="664.6" r="2"/><circle cx="576.1" cy="664.6" r="2"/><circle cx="580.1" cy="664.6" r="2"/><circle cx="595.2" cy="664.6" r="2"/><circle cx="547.6" cy="664.6" r="2"/><circle cx="581.5" cy="664.6" r="2"/><circle cx="590.6" cy="664.6" r="2"/><circle cx="603.5" cy="664.6" r="2"/><circle cx="578.2" cy="664.6" r="2"/><circle cx="553.8" cy="664.6" r="2"/><circle cx="582.9" cy="664.6" r="2"/><circle cx="561.0" cy="664.6" r="2"/><circle cx="574.3" cy="664.6" r="2"/><circle cx="591.1" cy="664.6" r="2"/><circle cx="564.1" cy="664.6" r="2"/><circle cx="599.0" cy="664.6" r="2"/>
</g>
<g fill="#ee2211" fill-opacity="0.18" stroke="#ee2211" stroke-opacity="0.28" stroke-width="0.7">
<circle cx="519.1" cy="664.6" r="2.3"/><circle cx="531.5" cy="664.6" r="2.3"/><circle cx="544.1" cy="664.6" r="2.3"/><circle cx="615.0" cy="664.6" r="2.3"/>
</g>
<line x1="544.10" y1="664.58" x2="615.00" y2="664.58" stroke="#ee2211" stroke-width="1.5" />
<rect x="569.6" y="661.2" width="21.1" height="6.8" fill="#ee2211" fill-opacity="0.88" stroke="#ee2211" stroke-width="1.4" rx="0.8"/>
<g fill="#fff" fill-opacity="0.42">
<rect x="573.0" y="662.8" width="1.6" height="3.6"/><rect x="575.0" y="662.8" width="1.6" height="3.6"/><rect x="584.5" y="662.8" width="1.6" height="3.6"/><rect x="575.8" y="662.8" width="1.6" height="3.6"/><rect x="572.7" y="662.8" width="1.6" height="3.6"/><rect x="572.2" y="662.8" width="1.6" height="3.6"/><rect x="581.0" y="662.8" width="1.6" height="3.6"/><rect x="577.2" y="662.8" width="1.6" height="3.6"/>
</g>
<g fill="#114a99" fill-opacity="0.15" stroke="#114a99" stroke-opacity="0.2" stroke-width="0.6">
<circle cx="615.1" cy="671.1" r="2"/><circle cx="609.5" cy="671.1" r="2"/><circle cx="615.5" cy="671.1" r="2"/><circle cx="574.2" cy="671.1" r="2"/><circle cx="563.8" cy="671.1" r="2"/><circle cx="564.5" cy="671.1" r="2"/><circle cx="587.5" cy="671.1" r="2"/><circle cx="599.6" cy="671.1" r="2"/><circle cx="584.6" cy="671.1" r="2"/><circle cx="572.4" cy="671.1" r="2"/><circle cx="581.3" cy="671.1" r="2"/><circle cx="603.0" cy="671.1" r="2"/><circle cx="586.4" cy="671.1" r="2"/><circle cx="578.2" cy="671.1" r="2"/><circle cx="604.8" cy="671.1" r="2"/><circle cx="581.2" cy="671.1" r="2"/><circle cx="611.0" cy="671.1" r="2"/><circle cx="610.2" cy="671.1" r="2"/><circle cx="591.1" cy="671.1" r="2"/><circle cx="609.3" cy="671.1" r="2"/><circle cx="582.0" cy="671.1" r="2"/><circle cx="608.5" cy="671.1" r="2"/><circle cx="597.8" cy="671.1" r="2"/><circle cx="603.3" cy="671.1" r="2"/><circle cx="595.3" cy="671.1" r="2"/><circle cx="601.7" cy="671.1" r="2"/>
</g>
<g fill="#114a99" fill-opacity="0.18" stroke="#114a99" stroke-opacity="0.28" stroke-width="0.7">
<circle cx="559.0" cy="671.1" r="2.3"/><circle cx="616.2" cy="671.1" r="2.3"/>
</g>
<line x1="559.00" y1="671.08" x2="616.20" y2="671.08" stroke="#114a99" stroke-width="1.5" />
<rect x="583.6" y="667.7" width="23.0" height="6.8" fill="#114a99" fill-opacity="0.88" stroke="#114a99" stroke-width="1.4" rx="0.8"/>
<g fill="#fff" fill-opacity="0.42">
<rect x="602.4" y="669.3" width="1.6" height="3.6"/><rect x="596.6" y="669.3" width="1.6" height="3.6"/><rect x="591.8" y="669.3" width="1.6" height="3.6"/><rect x="593.1" y="669.3" width="1.6" height="3.6"/><rect x="604.5" y="669.3" width="1.6" height="3.6"/><rect x="595.2" y="669.3" width="1.6" height="3.6"/><rect x="590.0" y="669.3" width="1.6" height="3.6"/><rect x="601.0" y="669.3" width="1.6" height="3.6"/>
</g>
<g fill="#ee2211" fill-opacity="0.15" stroke="#ee2211" stroke-opacity="0.2" stroke-width="0.6">
<circle cx="590.4" cy="683.0" r="2"/><circle cx="596.0" cy="683.0" r="2"/><circle cx="581.3" cy="683.0" r="2"/><circle cx="587.5" cy="683.0" r="2"/><circle cx="593.2" cy="683.0" r="2"/><circle cx="593.6" cy="683.0" r="2"/><circle cx="594.8" cy="683.0" r="2"/><circle cx="580.3" cy="683.0" r="2"/><circle cx="584.5" cy="683.0" r="2"/><circle cx="581.6" cy="683.0" r="2"/><circle cx="591.8" cy="683.0" r="2"/><circle cx="596.2" cy="683.0" r="2"/><circle cx="581.8" cy="683.0" r="2"/><circle cx="584.6" cy="683.0" r="2"/><circle cx="583.8" cy="683.0" r="2"/><circle cx="593.2" cy="683.0" r="2"/><circle cx="586.0" cy="683.0" r="2"/><circle cx="589.3" cy="683.0" r="2"/><circle cx="589.8" cy="683.0" r="2"/><circle cx="580.6" cy="683.0" r="2"/><circle cx="592.0" cy="683.0" r="2"/><circle cx="591.2" cy="683.0" r="2"/><circle cx="586.8" cy="683.0" r="2"/><circle cx="586.9" cy="683.0" r="2"/><circle cx="587.2" cy="683.0" r="2"/><circle cx="589.8" cy="683.0" r="2"/>
</g>
<g fill="#ee2211" fill-opacity="0.18" stroke="#ee2211" stroke-opacity="0.28" stroke-width="0.7">
<circle cx="569.2" cy="683.0" r="2.3"/><circle cx="572.5" cy="683.0" r="2.3"/><circle cx="579.6" cy="683.0" r="2.3"/><circle cx="596.2" cy="683.0" r="2.3"/>
</g>
<line x1="579.60" y1="683.02" x2="596.20" y2="683.02" stroke="#ee2211" stroke-width="1.5" />
<rect x="584.0" y="679.6" width="8.9" height="6.8" fill="#ee2211" fill-opacity="0.88" stroke="#ee2211" stroke-width="1.4" rx="0.8"/>
<g fill="#fff" fill-opacity="0.42">
<rect x="587.0" y="681.2" width="1.6" height="3.6"/><rect x="587.2" y="681.2" width="1.6" height="3.6"/><rect x="588.9" y="681.2" width="1.6" height="3.6"/>
</g>
<g fill="#114a99" fill-opacity="0.15" stroke="#114a99" stroke-opacity="0.2" stroke-width="0.6">
<circle cx="584.0" cy="689.5" r="2"/><circle cx="572.6" cy="689.5" r="2"/><circle cx="567.7" cy="689.5" r="2"/><circle cx="575.7" cy="689.5" r="2"/><circle cx="584.7" cy="689.5" r="2"/><circle cx="572.1" cy="689.5" r="2"/><circle cx="575.4" cy="689.5" r="2"/><circle cx="572.6" cy="689.5" r="2"/><circle cx="587.7" cy="689.5" r="2"/><circle cx="581.4" cy="689.5" r="2"/><circle cx="582.1" cy="689.5" r="2"/><circle cx="580.8" cy="689.5" r="2"/><circle cx="574.8" cy="689.5" r="2"/><circle cx="583.8" cy="689.5" r="2"/><circle cx="578.5" cy="689.5" r="2"/><circle cx="578.2" cy="689.5" r="2"/><circle cx="584.0" cy="689.5" r="2"/><circle cx="586.6" cy="689.5" r="2"/><circle cx="576.4" cy="689.5" r="2"/><circle cx="582.1" cy="689.5" r="2"/><circle cx="575.4" cy="689.5" r="2"/><circle cx="591.7" cy="689.5" r="2"/><circle cx="577.4" cy="689.5" r="2"/><circle cx="586.0" cy="689.5" r="2"/><circle cx="576.6" cy="689.5" r="2"/><circle cx="584.0" cy="689.5" r="2"/>
</g>
<g fill="#114a99" fill-opacity="0.18" stroke="#114a99" stroke-opacity="0.28" stroke-width="0.7">
<circle cx="567.4" cy="689.5" r="2.3"/><circle cx="592.9" cy="689.5" r="2.3"/>
</g>
<line x1="567.40" y1="689.52" x2="592.90" y2="689.52" stroke="#114a99" stroke-width="1.5" />
<rect x="573.6" y="686.1" width="12.6" height="6.8" fill="#114a99" fill-opacity="0.88" stroke="#114a99" stroke-width="1.4" rx="0.8"/>
<g fill="#fff" fill-opacity="0.42">
<rect x="583.0" y="687.7" width="1.6" height="3.6"/><rect x="584.2" y="687.7" width="1.6" height="3.6"/><rect x="578.7" y="687.7" width="1.6" height="3.6"/><rect x="577.3" y="687.7" width="1.6" height="3.6"/>
</g>
<g fill="#ee2211" fill-opacity="0.15" stroke="#ee2211" stroke-opacity="0.2" stroke-width="0.6">
<circle cx="599.3" cy="701.5" r="2"/><circle cx="573.1" cy="701.5" r="2"/><circle cx="563.3" cy="701.5" r="2"/><circle cx="607.9" cy="701.5" r="2"/><circle cx="584.1" cy="701.5" r="2"/><circle cx="603.9" cy="701.5" r="2"/><circle cx="583.2" cy="701.5" r="2"/><circle cx="607.0" cy="701.5" r="2"/><circle cx="586.0" cy="701.5" r="2"/><circle cx="571.1" cy="701.5" r="2"/><circle cx="598.5" cy="701.5" r="2"/><circle cx="587.1" cy="701.5" r="2"/><circle cx="572.0" cy="701.5" r="2"/><circle cx="569.0" cy="701.5" r="2"/><circle cx="597.7" cy="701.5" r="2"/><circle cx="593.3" cy="701.5" r="2"/><circle cx="577.8" cy="701.5" r="2"/><circle cx="594.5" cy="701.5" r="2"/><circle cx="590.8" cy="701.5" r="2"/><circle cx="592.4" cy="701.5" r="2"/><circle cx="563.4" cy="701.5" r="2"/><circle cx="582.9" cy="701.5" r="2"/><circle cx="594.9" cy="701.5" r="2"/><circle cx="593.2" cy="701.5" r="2"/><circle cx="594.7" cy="701.5" r="2"/><circle cx="563.0" cy="701.5" r="2"/>
</g>
<g fill="#ee2211" fill-opacity="0.18" stroke="#ee2211" stroke-opacity="0.28" stroke-width="0.7">
<circle cx="563.0" cy="701.5" r="2.3"/><circle cx="612.8" cy="701.5" r="2.3"/>
</g>
<line x1="563.00" y1="701.46" x2="612.80" y2="701.46" stroke="#ee2211" stroke-width="1.5" />
<rect x="577.4" y="698.1" width="17.0" height="6.8" fill="#ee2211" fill-opacity="0.88" stroke="#ee2211" stroke-width="1.4" rx="0.8"/>
<g fill="#fff" fill-opacity="0.42">
<rect x="582.0" y="699.7" width="1.6" height="3.6"/><rect x="581.0" y="699.7" width="1.6" height="3.6"/><rect x="591.7" y="699.7" width="1.6" height="3.6"/><rect x="592.1" y="699.7" width="1.6" height="3.6"/><rect x="585.7" y="699.7" width="1.6" height="3.6"/><rect x="580.1" y="699.7" width="1.6" height="3.6"/>
</g>
<g fill="#114a99" fill-opacity="0.15" stroke="#114a99" stroke-opacity="0.2" stroke-width="0.6">
<circle cx="593.6" cy="708.0" r="2"/><circle cx="574.5" cy="708.0" r="2"/><circle cx="592.8" cy="708.0" r="2"/><circle cx="582.8" cy="708.0" r="2"/><circle cx="590.0" cy="708.0" r="2"/><circle cx="566.5" cy="708.0" r="2"/><circle cx="588.6" cy="708.0" r="2"/><circle cx="568.7" cy="708.0" r="2"/><circle cx="575.1" cy="708.0" r="2"/><circle cx="590.8" cy="708.0" r="2"/><circle cx="579.7" cy="708.0" r="2"/><circle cx="573.6" cy="708.0" r="2"/><circle cx="579.0" cy="708.0" r="2"/><circle cx="584.6" cy="708.0" r="2"/><circle cx="570.7" cy="708.0" r="2"/><circle cx="576.8" cy="708.0" r="2"/><circle cx="581.4" cy="708.0" r="2"/><circle cx="581.3" cy="708.0" r="2"/><circle cx="575.2" cy="708.0" r="2"/><circle cx="562.7" cy="708.0" r="2"/><circle cx="586.4" cy="708.0" r="2"/><circle cx="579.9" cy="708.0" r="2"/><circle cx="577.7" cy="708.0" r="2"/><circle cx="575.6" cy="708.0" r="2"/><circle cx="579.5" cy="708.0" r="2"/><circle cx="574.6" cy="708.0" r="2"/>
</g>
<g fill="#114a99" fill-opacity="0.18" stroke="#114a99" stroke-opacity="0.28" stroke-width="0.7">
<circle cx="560.8" cy="708.0" r="2.3"/><circle cx="596.2" cy="708.0" r="2.3"/>
</g>
<line x1="560.80" y1="707.96" x2="596.20" y2="707.96" stroke="#114a99" stroke-width="1.5" />
<rect x="571.2" y="704.6" width="12.8" height="6.8" fill="#114a99" fill-opacity="0.88" stroke="#114a99" stroke-width="1.4" rx="0.8"/>
<g fill="#fff" fill-opacity="0.42">
<rect x="578.5" y="706.2" width="1.6" height="3.6"/><rect x="578.0" y="706.2" width="1.6" height="3.6"/><rect x="578.7" y="706.2" width="1.6" height="3.6"/><rect x="575.9" y="706.2" width="1.6" height="3.6"/>
</g>
<g fill="#ee2211" fill-opacity="0.15" stroke="#ee2211" stroke-opacity="0.2" stroke-width="0.6">
<circle cx="567.7" cy="719.9" r="2"/><circle cx="580.7" cy="719.9" r="2"/><circle cx="568.2" cy="719.9" r="2"/><circle cx="586.8" cy="719.9" r="2"/><circle cx="569.9" cy="719.9" r="2"/><circle cx="569.2" cy="719.9" r="2"/><circle cx="536.1" cy="719.9" r="2"/><circle cx="583.6" cy="719.9" r="2"/><circle cx="573.3" cy="719.9" r="2"/><circle cx="553.0" cy="719.9" r="2"/><circle cx="580.0" cy="719.9" r="2"/><circle cx="549.9" cy="719.9" r="2"/><circle cx="567.9" cy="719.9" r="2"/><circle cx="580.2" cy="719.9" r="2"/><circle cx="570.1" cy="719.9" r="2"/><circle cx="578.9" cy="719.9" r="2"/><circle cx="589.3" cy="719.9" r="2"/><circle cx="589.8" cy="719.9" r="2"/><circle cx="592.1" cy="719.9" r="2"/><circle cx="587.0" cy="719.9" r="2"/><circle cx="573.0" cy="719.9" r="2"/><circle cx="577.3" cy="719.9" r="2"/><circle cx="573.3" cy="719.9" r="2"/><circle cx="572.6" cy="719.9" r="2"/><circle cx="574.7" cy="719.9" r="2"/><circle cx="550.1" cy="719.9" r="2"/>
</g>
<g fill="#ee2211" fill-opacity="0.18" stroke="#ee2211" stroke-opacity="0.28" stroke-width="0.7">
<circle cx="534.2" cy="719.9" r="2.3"/><circle cx="614.0" cy="719.9" r="2.3"/>
</g>
<line x1="534.20" y1="719.90" x2="614.00" y2="719.90" stroke="#ee2211" stroke-width="1.5" />
<rect x="565.6" y="716.5" width="24.0" height="6.8" fill="#ee2211" fill-opacity="0.88" stroke="#ee2211" stroke-width="1.4" rx="0.8"/>
<g fill="#fff" fill-opacity="0.42">
<rect x="577.8" y="718.1" width="1.6" height="3.6"/><rect x="568.7" y="718.1" width="1.6" height="3.6"/><rect x="577.7" y="718.1" width="1.6" height="3.6"/><rect x="575.2" y="718.1" width="1.6" height="3.6"/><rect x="586.6" y="718.1" width="1.6" height="3.6"/><rect x="570.3" y="718.1" width="1.6" height="3.6"/><rect x="584.7" y="718.1" width="1.6" height="3.6"/><rect x="587.5" y="718.1" width="1.6" height="3.6"/><rect x="582.2" y="718.1" width="1.6" height="3.6"/>
</g>
<g fill="#114a99" fill-opacity="0.15" stroke="#114a99" stroke-opacity="0.2" stroke-width="0.6">
<circle cx="626.8" cy="726.4" r="2"/><circle cx="580.7" cy="726.4" r="2"/><circle cx="639.1" cy="726.4" r="2"/><circle cx="602.8" cy="726.4" r="2"/><circle cx="637.3" cy="726.4" r="2"/><circle cx="634.3" cy="726.4" r="2"/><circle cx="578.6" cy="726.4" r="2"/><circle cx="624.8" cy="726.4" r="2"/><circle cx="635.3" cy="726.4" r="2"/><circle cx="571.2" cy="726.4" r="2"/><circle cx="577.0" cy="726.4" r="2"/><circle cx="611.8" cy="726.4" r="2"/><circle cx="608.9" cy="726.4" r="2"/><circle cx="618.3" cy="726.4" r="2"/><circle cx="587.5" cy="726.4" r="2"/><circle cx="618.7" cy="726.4" r="2"/><circle cx="602.6" cy="726.4" r="2"/><circle cx="605.5" cy="726.4" r="2"/><circle cx="600.6" cy="726.4" r="2"/><circle cx="586.9" cy="726.4" r="2"/><circle cx="590.3" cy="726.4" r="2"/><circle cx="609.3" cy="726.4" r="2"/><circle cx="590.0" cy="726.4" r="2"/><circle cx="595.4" cy="726.4" r="2"/><circle cx="595.4" cy="726.4" r="2"/><circle cx="599.8" cy="726.4" r="2"/>
</g>
<g fill="#114a99" fill-opacity="0.18" stroke="#114a99" stroke-opacity="0.28" stroke-width="0.7">
<circle cx="646.0" cy="726.4" r="2.3"/><circle cx="566.3" cy="726.4" r="2.3"/><circle cx="640.5" cy="726.4" r="2.3"/>
</g>
<line x1="566.30" y1="726.40" x2="640.50" y2="726.40" stroke="#114a99" stroke-width="1.5" />
<rect x="578.0" y="723.0" width="27.5" height="6.8" fill="#114a99" fill-opacity="0.88" stroke="#114a99" stroke-width="1.4" rx="0.8"/>
<g fill="#fff" fill-opacity="0.42">
<rect x="602.0" y="724.6" width="1.6" height="3.6"/><rect x="596.0" y="724.6" width="1.6" height="3.6"/><rect x="601.0" y="724.6" width="1.6" height="3.6"/><rect x="584.0" y="724.6" width="1.6" height="3.6"/><rect x="598.4" y="724.6" width="1.6" height="3.6"/><rect x="582.7" y="724.6" width="1.6" height="3.6"/><rect x="592.5" y="724.6" width="1.6" height="3.6"/><rect x="595.0" y="724.6" width="1.6" height="3.6"/><rect x="588.5" y="724.6" width="1.6" height="3.6"/><rect x="600.5" y="724.6" width="1.6" height="3.6"/>
</g>
<g fill="#ee2211" fill-opacity="0.15" stroke="#ee2211" stroke-opacity="0.2" stroke-width="0.6">
<circle cx="577.8" cy="738.3" r="2"/><circle cx="579.5" cy="738.3" r="2"/><circle cx="600.6" cy="738.3" r="2"/><circle cx="546.3" cy="738.3" r="2"/><circle cx="608.3" cy="738.3" r="2"/><circle cx="583.0" cy="738.3" r="2"/><circle cx="566.5" cy="738.3" r="2"/><circle cx="594.7" cy="738.3" r="2"/><circle cx="557.5" cy="738.3" r="2"/><circle cx="608.1" cy="738.3" r="2"/><circle cx="562.4" cy="738.3" r="2"/><circle cx="567.9" cy="738.3" r="2"/><circle cx="575.4" cy="738.3" r="2"/><circle cx="559.0" cy="738.3" r="2"/><circle cx="584.3" cy="738.3" r="2"/><circle cx="594.7" cy="738.3" r="2"/><circle cx="598.7" cy="738.3" r="2"/><circle cx="581.8" cy="738.3" r="2"/><circle cx="573.6" cy="738.3" r="2"/><circle cx="594.0" cy="738.3" r="2"/><circle cx="592.5" cy="738.3" r="2"/><circle cx="572.2" cy="738.3" r="2"/><circle cx="567.8" cy="738.3" r="2"/><circle cx="563.7" cy="738.3" r="2"/><circle cx="577.7" cy="738.3" r="2"/><circle cx="574.1" cy="738.3" r="2"/>
</g>
<g fill="#ee2211" fill-opacity="0.18" stroke="#ee2211" stroke-opacity="0.28" stroke-width="0.7">
<circle cx="539.0" cy="738.3" r="2.3"/><circle cx="608.8" cy="738.3" r="2.3"/>
</g>
<line x1="539.00" y1="738.34" x2="608.80" y2="738.34" stroke="#ee2211" stroke-width="1.5" />
<rect x="564.1" y="734.9" width="19.9" height="6.8" fill="#ee2211" fill-opacity="0.88" stroke="#ee2211" stroke-width="1.4" rx="0.8"/>
<g fill="#fff" fill-opacity="0.42">
<rect x="568.5" y="736.5" width="1.6" height="3.6"/><rect x="575.9" y="736.5" width="1.6" height="3.6"/><rect x="573.0" y="736.5" width="1.6" height="3.6"/><rect x="574.3" y="736.5" width="1.6" height="3.6"/><rect x="580.3" y="736.5" width="1.6" height="3.6"/><rect x="568.2" y="736.5" width="1.6" height="3.6"/><rect x="569.7" y="736.5" width="1.6" height="3.6"/>
</g>
<g fill="#114a99" fill-opacity="0.15" stroke="#114a99" stroke-opacity="0.2" stroke-width="0.6">
<circle cx="591.6" cy="744.8" r="2"/><circle cx="565.0" cy="744.8" r="2"/><circle cx="564.2" cy="744.8" r="2"/><circle cx="579.0" cy="744.8" r="2"/><circle cx="568.6" cy="744.8" r="2"/><circle cx="579.1" cy="744.8" r="2"/><circle cx="573.5" cy="744.8" r="2"/><circle cx="588.7" cy="744.8" r="2"/><circle cx="588.9" cy="744.8" r="2"/><circle cx="572.7" cy="744.8" r="2"/><circle cx="580.0" cy="744.8" r="2"/><circle cx="580.1" cy="744.8" r="2"/><circle cx="599.9" cy="744.8" r="2"/><circle cx="601.6" cy="744.8" r="2"/><circle cx="587.0" cy="744.8" r="2"/><circle cx="591.6" cy="744.8" r="2"/><circle cx="596.7" cy="744.8" r="2"/><circle cx="593.6" cy="744.8" r="2"/><circle cx="596.9" cy="744.8" r="2"/><circle cx="576.2" cy="744.8" r="2"/><circle cx="581.4" cy="744.8" r="2"/><circle cx="590.6" cy="744.8" r="2"/><circle cx="598.9" cy="744.8" r="2"/><circle cx="587.7" cy="744.8" r="2"/><circle cx="579.6" cy="744.8" r="2"/><circle cx="583.8" cy="744.8" r="2"/>
</g>
<g fill="#114a99" fill-opacity="0.18" stroke="#114a99" stroke-opacity="0.28" stroke-width="0.7">
<circle cx="564.1" cy="744.8" r="2.3"/><circle cx="606.2" cy="744.8" r="2.3"/>
</g>
<line x1="564.10" y1="744.84" x2="606.20" y2="744.84" stroke="#114a99" stroke-width="1.5" />
<rect x="577.4" y="741.4" width="18.8" height="6.8" fill="#114a99" fill-opacity="0.88" stroke="#114a99" stroke-width="1.4" rx="0.8"/>
<g fill="#fff" fill-opacity="0.42">
<rect x="589.0" y="743.0" width="1.6" height="3.6"/><rect x="586.0" y="743.0" width="1.6" height="3.6"/><rect x="593.3" y="743.0" width="1.6" height="3.6"/><rect x="590.3" y="743.0" width="1.6" height="3.6"/><rect x="583.1" y="743.0" width="1.6" height="3.6"/><rect x="592.8" y="743.0" width="1.6" height="3.6"/><rect x="580.1" y="743.0" width="1.6" height="3.6"/>
</g>
<g fill="#ee2211" fill-opacity="0.15" stroke="#ee2211" stroke-opacity="0.2" stroke-width="0.6">
<circle cx="572.2" cy="756.8" r="2"/><circle cx="568.4" cy="756.8" r="2"/><circle cx="563.4" cy="756.8" r="2"/><circle cx="558.0" cy="756.8" r="2"/><circle cx="579.6" cy="756.8" r="2"/><circle cx="556.7" cy="756.8" r="2"/><circle cx="572.8" cy="756.8" r="2"/><circle cx="584.4" cy="756.8" r="2"/><circle cx="560.6" cy="756.8" r="2"/><circle cx="562.3" cy="756.8" r="2"/><circle cx="565.2" cy="756.8" r="2"/><circle cx="566.2" cy="756.8" r="2"/><circle cx="563.8" cy="756.8" r="2"/><circle cx="562.2" cy="756.8" r="2"/><circle cx="573.0" cy="756.8" r="2"/><circle cx="575.3" cy="756.8" r="2"/><circle cx="570.1" cy="756.8" r="2"/><circle cx="572.5" cy="756.8" r="2"/><circle cx="578.7" cy="756.8" r="2"/><circle cx="564.0" cy="756.8" r="2"/><circle cx="570.6" cy="756.8" r="2"/><circle cx="570.0" cy="756.8" r="2"/><circle cx="576.2" cy="756.8" r="2"/><circle cx="562.5" cy="756.8" r="2"/><circle cx="561.1" cy="756.8" r="2"/><circle cx="572.8" cy="756.8" r="2"/>
</g>
<g fill="#ee2211" fill-opacity="0.18" stroke="#ee2211" stroke-opacity="0.28" stroke-width="0.7">
<circle cx="544.6" cy="756.8" r="2.3"/><circle cx="604.0" cy="756.8" r="2.3"/><circle cx="556.3" cy="756.8" r="2.3"/><circle cx="586.2" cy="756.8" r="2.3"/>
</g>
<line x1="556.30" y1="756.78" x2="586.20" y2="756.78" stroke="#ee2211" stroke-width="1.5" />
<rect x="564.5" y="753.4" width="12.4" height="6.8" fill="#ee2211" fill-opacity="0.88" stroke="#ee2211" stroke-width="1.4" rx="0.8"/>
<g fill="#fff" fill-opacity="0.42">
<rect x="570.3" y="755.0" width="1.6" height="3.6"/><rect x="568.4" y="755.0" width="1.6" height="3.6"/><rect x="567.4" y="755.0" width="1.6" height="3.6"/><rect x="568.5" y="755.0" width="1.6" height="3.6"/>
</g>
<g fill="#114a99" fill-opacity="0.15" stroke="#114a99" stroke-opacity="0.2" stroke-width="0.6">
<circle cx="563.9" cy="763.3" r="2"/><circle cx="574.9" cy="763.3" r="2"/><circle cx="590.2" cy="763.3" r="2"/><circle cx="588.2" cy="763.3" r="2"/><circle cx="593.8" cy="763.3" r="2"/><circle cx="588.8" cy="763.3" r="2"/><circle cx="572.3" cy="763.3" r="2"/><circle cx="583.0" cy="763.3" r="2"/><circle cx="578.6" cy="763.3" r="2"/><circle cx="591.7" cy="763.3" r="2"/><circle cx="574.9" cy="763.3" r="2"/><circle cx="579.8" cy="763.3" r="2"/><circle cx="568.6" cy="763.3" r="2"/><circle cx="565.7" cy="763.3" r="2"/><circle cx="583.8" cy="763.3" r="2"/><circle cx="595.6" cy="763.3" r="2"/><circle cx="586.4" cy="763.3" r="2"/><circle cx="581.2" cy="763.3" r="2"/><circle cx="581.7" cy="763.3" r="2"/><circle cx="592.8" cy="763.3" r="2"/><circle cx="592.2" cy="763.3" r="2"/><circle cx="576.5" cy="763.3" r="2"/><circle cx="573.6" cy="763.3" r="2"/><circle cx="594.1" cy="763.3" r="2"/><circle cx="578.1" cy="763.3" r="2"/><circle cx="585.5" cy="763.3" r="2"/>
</g>
<g fill="#114a99" fill-opacity="0.18" stroke="#114a99" stroke-opacity="0.28" stroke-width="0.7">
<circle cx="562.5" cy="763.3" r="2.3"/><circle cx="599.5" cy="763.3" r="2.3"/>
</g>
<line x1="562.50" y1="763.28" x2="599.50" y2="763.28" stroke="#114a99" stroke-width="1.5" />
<rect x="574.0" y="759.9" width="13.3" height="6.8" fill="#114a99" fill-opacity="0.88" stroke="#114a99" stroke-width="1.4" rx="0.8"/>
<g fill="#fff" fill-opacity="0.42">
<rect x="584.4" y="761.5" width="1.6" height="3.6"/><rect x="581.9" y="761.5" width="1.6" height="3.6"/><rect x="582.4" y="761.5" width="1.6" height="3.6"/><rect x="582.2" y="761.5" width="1.6" height="3.6"/><rect x="585.1" y="761.5" width="1.6" height="3.6"/>
</g>
<g fill="#ee2211" fill-opacity="0.15" stroke="#ee2211" stroke-opacity="0.2" stroke-width="0.6">
<circle cx="562.4" cy="775.2" r="2"/><circle cx="580.9" cy="775.2" r="2"/><circle cx="573.8" cy="775.2" r="2"/><circle cx="581.8" cy="775.2" r="2"/><circle cx="560.8" cy="775.2" r="2"/><circle cx="575.2" cy="775.2" r="2"/><circle cx="567.5" cy="775.2" r="2"/><circle cx="554.4" cy="775.2" r="2"/><circle cx="549.6" cy="775.2" r="2"/><circle cx="570.1" cy="775.2" r="2"/><circle cx="582.8" cy="775.2" r="2"/><circle cx="573.8" cy="775.2" r="2"/><circle cx="564.9" cy="775.2" r="2"/><circle cx="565.3" cy="775.2" r="2"/><circle cx="581.4" cy="775.2" r="2"/><circle cx="577.7" cy="775.2" r="2"/><circle cx="560.4" cy="775.2" r="2"/><circle cx="568.0" cy="775.2" r="2"/><circle cx="566.3" cy="775.2" r="2"/><circle cx="564.0" cy="775.2" r="2"/><circle cx="558.5" cy="775.2" r="2"/><circle cx="550.2" cy="775.2" r="2"/><circle cx="558.1" cy="775.2" r="2"/><circle cx="548.0" cy="775.2" r="2"/><circle cx="575.7" cy="775.2" r="2"/><circle cx="568.8" cy="775.2" r="2"/>
</g>
<g fill="#ee2211" fill-opacity="0.18" stroke="#ee2211" stroke-opacity="0.28" stroke-width="0.7">
<circle cx="519.3" cy="775.2" r="2.3"/><circle cx="539.0" cy="775.2" r="2.3"/><circle cx="588.9" cy="775.2" r="2.3"/>
</g>
<line x1="539.00" y1="775.22" x2="588.90" y2="775.22" stroke="#ee2211" stroke-width="1.5" />
<rect x="554.6" y="771.8" width="17.7" height="6.8" fill="#ee2211" fill-opacity="0.88" stroke="#ee2211" stroke-width="1.4" rx="0.8"/>
<g fill="#fff" fill-opacity="0.42">
<rect x="561.6" y="773.4" width="1.6" height="3.6"/><rect x="567.8" y="773.4" width="1.6" height="3.6"/><rect x="567.8" y="773.4" width="1.6" height="3.6"/><rect x="568.8" y="773.4" width="1.6" height="3.6"/><rect x="557.5" y="773.4" width="1.6" height="3.6"/><rect x="568.5" y="773.4" width="1.6" height="3.6"/>
</g>
<g fill="#114a99" fill-opacity="0.15" stroke="#114a99" stroke-opacity="0.2" stroke-width="0.6">
<circle cx="603.7" cy="781.7" r="2"/><circle cx="605.2" cy="781.7" r="2"/><circle cx="562.8" cy="781.7" r="2"/><circle cx="567.8" cy="781.7" r="2"/><circle cx="563.1" cy="781.7" r="2"/><circle cx="559.1" cy="781.7" r="2"/><circle cx="600.3" cy="781.7" r="2"/><circle cx="598.5" cy="781.7" r="2"/><circle cx="589.5" cy="781.7" r="2"/><circle cx="599.1" cy="781.7" r="2"/><circle cx="578.1" cy="781.7" r="2"/><circle cx="577.6" cy="781.7" r="2"/><circle cx="587.4" cy="781.7" r="2"/><circle cx="586.4" cy="781.7" r="2"/><circle cx="584.0" cy="781.7" r="2"/><circle cx="576.9" cy="781.7" r="2"/><circle cx="579.2" cy="781.7" r="2"/><circle cx="593.3" cy="781.7" r="2"/><circle cx="591.4" cy="781.7" r="2"/><circle cx="584.7" cy="781.7" r="2"/><circle cx="580.4" cy="781.7" r="2"/><circle cx="599.4" cy="781.7" r="2"/><circle cx="577.7" cy="781.7" r="2"/><circle cx="590.3" cy="781.7" r="2"/><circle cx="595.4" cy="781.7" r="2"/><circle cx="581.0" cy="781.7" r="2"/>
</g>
<g fill="#114a99" fill-opacity="0.18" stroke="#114a99" stroke-opacity="0.28" stroke-width="0.7">
<circle cx="557.4" cy="781.7" r="2.3"/><circle cx="608.0" cy="781.7" r="2.3"/>
</g>
<line x1="557.40" y1="781.72" x2="608.00" y2="781.72" stroke="#114a99" stroke-width="1.5" />
<rect x="572.3" y="778.3" width="22.8" height="6.8" fill="#114a99" fill-opacity="0.88" stroke="#114a99" stroke-width="1.4" rx="0.8"/>
<g fill="#fff" fill-opacity="0.42">
<rect x="590.3" y="779.9" width="1.6" height="3.6"/><rect x="585.9" y="779.9" width="1.6" height="3.6"/><rect x="574.9" y="779.9" width="1.6" height="3.6"/><rect x="582.1" y="779.9" width="1.6" height="3.6"/><rect x="582.5" y="779.9" width="1.6" height="3.6"/><rect x="588.8" y="779.9" width="1.6" height="3.6"/><rect x="580.8" y="779.9" width="1.6" height="3.6"/><rect x="587.5" y="779.9" width="1.6" height="3.6"/>
</g>
<g fill="#ee2211" fill-opacity="0.15" stroke="#ee2211" stroke-opacity="0.2" stroke-width="0.6">
<circle cx="567.7" cy="793.7" r="2"/><circle cx="551.0" cy="793.7" r="2"/><circle cx="584.6" cy="793.7" r="2"/><circle cx="544.4" cy="793.7" r="2"/><circle cx="582.4" cy="793.7" r="2"/><circle cx="548.6" cy="793.7" r="2"/><circle cx="539.8" cy="793.7" r="2"/><circle cx="550.2" cy="793.7" r="2"/><circle cx="579.4" cy="793.7" r="2"/><circle cx="590.6" cy="793.7" r="2"/><circle cx="576.8" cy="793.7" r="2"/><circle cx="565.0" cy="793.7" r="2"/><circle cx="546.1" cy="793.7" r="2"/><circle cx="565.6" cy="793.7" r="2"/><circle cx="569.5" cy="793.7" r="2"/><circle cx="575.8" cy="793.7" r="2"/><circle cx="553.4" cy="793.7" r="2"/><circle cx="580.8" cy="793.7" r="2"/><circle cx="563.0" cy="793.7" r="2"/><circle cx="589.6" cy="793.7" r="2"/><circle cx="563.1" cy="793.7" r="2"/><circle cx="571.7" cy="793.7" r="2"/><circle cx="560.8" cy="793.7" r="2"/><circle cx="553.0" cy="793.7" r="2"/><circle cx="576.1" cy="793.7" r="2"/><circle cx="574.1" cy="793.7" r="2"/>
</g>
<g fill="#ee2211" fill-opacity="0.18" stroke="#ee2211" stroke-opacity="0.28" stroke-width="0.7">
<circle cx="529.1" cy="793.7" r="2.3"/><circle cx="539.7" cy="793.7" r="2.3"/><circle cx="591.8" cy="793.7" r="2.3"/>
</g>
<line x1="539.70" y1="793.66" x2="591.80" y2="793.66" stroke="#ee2211" stroke-width="1.5" />
<rect x="555.7" y="790.3" width="17.9" height="6.8" fill="#ee2211" fill-opacity="0.88" stroke="#ee2211" stroke-width="1.4" rx="0.8"/>
<g fill="#fff" fill-opacity="0.42">
<rect x="558.8" y="791.9" width="1.6" height="3.6"/><rect x="568.7" y="791.9" width="1.6" height="3.6"/><rect x="567.4" y="791.9" width="1.6" height="3.6"/><rect x="568.6" y="791.9" width="1.6" height="3.6"/><rect x="566.4" y="791.9" width="1.6" height="3.6"/><rect x="562.6" y="791.9" width="1.6" height="3.6"/>
</g>
<g fill="#114a99" fill-opacity="0.15" stroke="#114a99" stroke-opacity="0.2" stroke-width="0.6">
<circle cx="568.8" cy="800.2" r="2"/><circle cx="568.5" cy="800.2" r="2"/><circle cx="589.4" cy="800.2" r="2"/><circle cx="555.5" cy="800.2" r="2"/><circle cx="589.3" cy="800.2" r="2"/><circle cx="553.0" cy="800.2" r="2"/><circle cx="560.6" cy="800.2" r="2"/><circle cx="563.0" cy="800.2" r="2"/><circle cx="589.8" cy="800.2" r="2"/><circle cx="573.0" cy="800.2" r="2"/><circle cx="557.8" cy="800.2" r="2"/><circle cx="582.5" cy="800.2" r="2"/><circle cx="571.5" cy="800.2" r="2"/><circle cx="579.8" cy="800.2" r="2"/><circle cx="556.7" cy="800.2" r="2"/><circle cx="567.7" cy="800.2" r="2"/><circle cx="570.7" cy="800.2" r="2"/><circle cx="558.4" cy="800.2" r="2"/><circle cx="566.2" cy="800.2" r="2"/><circle cx="576.6" cy="800.2" r="2"/><circle cx="579.6" cy="800.2" r="2"/><circle cx="583.9" cy="800.2" r="2"/><circle cx="563.2" cy="800.2" r="2"/><circle cx="558.7" cy="800.2" r="2"/><circle cx="574.9" cy="800.2" r="2"/><circle cx="578.4" cy="800.2" r="2"/>
</g>
<g fill="#114a99" fill-opacity="0.18" stroke="#114a99" stroke-opacity="0.28" stroke-width="0.7">
<circle cx="551.9" cy="800.2" r="2.3"/><circle cx="594.0" cy="800.2" r="2.3"/>
</g>
<line x1="551.90" y1="800.16" x2="594.00" y2="800.16" stroke="#114a99" stroke-width="1.5" />
<rect x="562.5" y="796.8" width="16.0" height="6.8" fill="#114a99" fill-opacity="0.88" stroke="#114a99" stroke-width="1.4" rx="0.8"/>
<g fill="#fff" fill-opacity="0.42">
<rect x="573.8" y="798.4" width="1.6" height="3.6"/><rect x="571.5" y="798.4" width="1.6" height="3.6"/><rect x="566.0" y="798.4" width="1.6" height="3.6"/><rect x="570.0" y="798.4" width="1.6" height="3.6"/><rect x="575.1" y="798.4" width="1.6" height="3.6"/><rect x="567.4" y="798.4" width="1.6" height="3.6"/>
</g>
<g fill="#ee2211" fill-opacity="0.15" stroke="#ee2211" stroke-opacity="0.2" stroke-width="0.6">
<circle cx="538.2" cy="812.1" r="2"/><circle cx="545.6" cy="812.1" r="2"/><circle cx="572.3" cy="812.1" r="2"/><circle cx="581.6" cy="812.1" r="2"/><circle cx="535.8" cy="812.1" r="2"/><circle cx="535.9" cy="812.1" r="2"/><circle cx="542.0" cy="812.1" r="2"/><circle cx="547.2" cy="812.1" r="2"/><circle cx="560.2" cy="812.1" r="2"/><circle cx="536.2" cy="812.1" r="2"/><circle cx="558.4" cy="812.1" r="2"/><circle cx="570.1" cy="812.1" r="2"/><circle cx="583.7" cy="812.1" r="2"/><circle cx="559.2" cy="812.1" r="2"/><circle cx="589.8" cy="812.1" r="2"/><circle cx="582.8" cy="812.1" r="2"/><circle cx="573.0" cy="812.1" r="2"/><circle cx="570.3" cy="812.1" r="2"/><circle cx="586.1" cy="812.1" r="2"/><circle cx="560.1" cy="812.1" r="2"/><circle cx="561.0" cy="812.1" r="2"/><circle cx="548.4" cy="812.1" r="2"/><circle cx="568.8" cy="812.1" r="2"/><circle cx="580.4" cy="812.1" r="2"/><circle cx="569.6" cy="812.1" r="2"/><circle cx="568.1" cy="812.1" r="2"/>
</g>
<g fill="#ee2211" fill-opacity="0.18" stroke="#ee2211" stroke-opacity="0.28" stroke-width="0.7">
<circle cx="510.4" cy="812.1" r="2.3"/><circle cx="525.5" cy="812.1" r="2.3"/><circle cx="592.0" cy="812.1" r="2.3"/>
</g>
<line x1="525.50" y1="812.10" x2="592.00" y2="812.10" stroke="#ee2211" stroke-width="1.5" />
<rect x="551.3" y="808.7" width="22.4" height="6.8" fill="#ee2211" fill-opacity="0.88" stroke="#ee2211" stroke-width="1.4" rx="0.8"/>
<g fill="#fff" fill-opacity="0.42">
<rect x="560.4" y="810.3" width="1.6" height="3.6"/><rect x="553.9" y="810.3" width="1.6" height="3.6"/><rect x="560.6" y="810.3" width="1.6" height="3.6"/><rect x="567.9" y="810.3" width="1.6" height="3.6"/><rect x="566.1" y="810.3" width="1.6" height="3.6"/><rect x="562.5" y="810.3" width="1.6" height="3.6"/><rect x="564.9" y="810.3" width="1.6" height="3.6"/><rect x="561.8" y="810.3" width="1.6" height="3.6"/>
</g>
<g fill="#114a99" fill-opacity="0.15" stroke="#114a99" stroke-opacity="0.2" stroke-width="0.6">
<circle cx="555.0" cy="818.6" r="2"/><circle cx="572.7" cy="818.6" r="2"/><circle cx="565.1" cy="818.6" r="2"/><circle cx="577.9" cy="818.6" r="2"/><circle cx="584.3" cy="818.6" r="2"/><circle cx="566.0" cy="818.6" r="2"/><circle cx="571.5" cy="818.6" r="2"/><circle cx="578.2" cy="818.6" r="2"/><circle cx="565.7" cy="818.6" r="2"/><circle cx="558.3" cy="818.6" r="2"/><circle cx="566.0" cy="818.6" r="2"/><circle cx="553.2" cy="818.6" r="2"/><circle cx="570.5" cy="818.6" r="2"/><circle cx="557.0" cy="818.6" r="2"/><circle cx="575.6" cy="818.6" r="2"/><circle cx="559.5" cy="818.6" r="2"/><circle cx="563.4" cy="818.6" r="2"/><circle cx="562.2" cy="818.6" r="2"/><circle cx="564.6" cy="818.6" r="2"/><circle cx="578.6" cy="818.6" r="2"/><circle cx="575.2" cy="818.6" r="2"/><circle cx="573.3" cy="818.6" r="2"/><circle cx="571.1" cy="818.6" r="2"/><circle cx="556.9" cy="818.6" r="2"/><circle cx="564.7" cy="818.6" r="2"/><circle cx="564.5" cy="818.6" r="2"/>
</g>
<g fill="#114a99" fill-opacity="0.18" stroke="#114a99" stroke-opacity="0.28" stroke-width="0.7">
<circle cx="602.8" cy="818.6" r="2.3"/><circle cx="549.6" cy="818.6" r="2.3"/><circle cx="587.8" cy="818.6" r="2.3"/>
</g>
<line x1="549.60" y1="818.60" x2="587.80" y2="818.60" stroke="#114a99" stroke-width="1.5" />
<rect x="559.9" y="815.2" width="17.6" height="6.8" fill="#114a99" fill-opacity="0.88" stroke="#114a99" stroke-width="1.4" rx="0.8"/>
<g fill="#fff" fill-opacity="0.42">
<rect x="567.7" y="816.8" width="1.6" height="3.6"/><rect x="568.1" y="816.8" width="1.6" height="3.6"/><rect x="570.4" y="816.8" width="1.6" height="3.6"/><rect x="567.5" y="816.8" width="1.6" height="3.6"/><rect x="571.1" y="816.8" width="1.6" height="3.6"/><rect x="574.6" y="816.8" width="1.6" height="3.6"/>
</g>
<g fill="#ee2211" fill-opacity="0.15" stroke="#ee2211" stroke-opacity="0.2" stroke-width="0.6">
<circle cx="552.5" cy="830.5" r="2"/><circle cx="574.8" cy="830.5" r="2"/><circle cx="580.7" cy="830.5" r="2"/><circle cx="562.2" cy="830.5" r="2"/><circle cx="567.0" cy="830.5" r="2"/><circle cx="590.0" cy="830.5" r="2"/><circle cx="545.6" cy="830.5" r="2"/><circle cx="569.6" cy="830.5" r="2"/><circle cx="551.4" cy="830.5" r="2"/><circle cx="580.9" cy="830.5" r="2"/><circle cx="580.2" cy="830.5" r="2"/><circle cx="565.4" cy="830.5" r="2"/><circle cx="579.5" cy="830.5" r="2"/><circle cx="576.9" cy="830.5" r="2"/><circle cx="555.0" cy="830.5" r="2"/><circle cx="565.7" cy="830.5" r="2"/><circle cx="556.1" cy="830.5" r="2"/><circle cx="568.5" cy="830.5" r="2"/><circle cx="575.0" cy="830.5" r="2"/><circle cx="559.4" cy="830.5" r="2"/><circle cx="550.1" cy="830.5" r="2"/><circle cx="581.9" cy="830.5" r="2"/><circle cx="573.1" cy="830.5" r="2"/><circle cx="583.5" cy="830.5" r="2"/><circle cx="557.0" cy="830.5" r="2"/><circle cx="579.6" cy="830.5" r="2"/>
</g>
<g fill="#ee2211" fill-opacity="0.18" stroke="#ee2211" stroke-opacity="0.28" stroke-width="0.7">
<circle cx="543.8" cy="830.5" r="2.3"/><circle cx="591.2" cy="830.5" r="2.3"/>
</g>
<line x1="543.80" y1="830.54" x2="591.20" y2="830.54" stroke="#ee2211" stroke-width="1.5" />
<rect x="560.4" y="827.1" width="18.3" height="6.8" fill="#ee2211" fill-opacity="0.88" stroke="#ee2211" stroke-width="1.4" rx="0.8"/>
<g fill="#fff" fill-opacity="0.42">
<rect x="564.2" y="828.7" width="1.6" height="3.6"/><rect x="576.5" y="828.7" width="1.6" height="3.6"/><rect x="567.5" y="828.7" width="1.6" height="3.6"/><rect x="563.2" y="828.7" width="1.6" height="3.6"/><rect x="566.3" y="828.7" width="1.6" height="3.6"/><rect x="568.1" y="828.7" width="1.6" height="3.6"/><rect x="562.6" y="828.7" width="1.6" height="3.6"/>
</g>
<g fill="#114a99" fill-opacity="0.15" stroke="#114a99" stroke-opacity="0.2" stroke-width="0.6">
<circle cx="559.4" cy="837.0" r="2"/><circle cx="559.4" cy="837.0" r="2"/><circle cx="570.8" cy="837.0" r="2"/><circle cx="556.6" cy="837.0" r="2"/><circle cx="553.1" cy="837.0" r="2"/><circle cx="551.4" cy="837.0" r="2"/><circle cx="572.6" cy="837.0" r="2"/><circle cx="580.7" cy="837.0" r="2"/><circle cx="563.8" cy="837.0" r="2"/><circle cx="551.2" cy="837.0" r="2"/><circle cx="559.9" cy="837.0" r="2"/><circle cx="549.5" cy="837.0" r="2"/><circle cx="558.3" cy="837.0" r="2"/><circle cx="561.4" cy="837.0" r="2"/><circle cx="559.7" cy="837.0" r="2"/><circle cx="542.5" cy="837.0" r="2"/><circle cx="551.1" cy="837.0" r="2"/><circle cx="550.4" cy="837.0" r="2"/><circle cx="551.8" cy="837.0" r="2"/><circle cx="555.0" cy="837.0" r="2"/><circle cx="564.7" cy="837.0" r="2"/><circle cx="555.5" cy="837.0" r="2"/><circle cx="547.5" cy="837.0" r="2"/><circle cx="545.6" cy="837.0" r="2"/><circle cx="561.0" cy="837.0" r="2"/><circle cx="548.8" cy="837.0" r="2"/>
</g>
<g fill="#114a99" fill-opacity="0.18" stroke="#114a99" stroke-opacity="0.28" stroke-width="0.7">
<circle cx="488.2" cy="837.0" r="2.3"/><circle cx="542.2" cy="837.0" r="2.3"/><circle cx="583.2" cy="837.0" r="2.3"/>
</g>
<line x1="542.20" y1="837.04" x2="583.20" y2="837.04" stroke="#114a99" stroke-width="1.5" />
<rect x="549.6" y="833.6" width="15.3" height="6.8" fill="#114a99" fill-opacity="0.88" stroke="#114a99" stroke-width="1.4" rx="0.8"/>
<g fill="#fff" fill-opacity="0.42">
<rect x="554.9" y="835.2" width="1.6" height="3.6"/><rect x="557.8" y="835.2" width="1.6" height="3.6"/><rect x="553.0" y="835.2" width="1.6" height="3.6"/><rect x="561.0" y="835.2" width="1.6" height="3.6"/><rect x="555.6" y="835.2" width="1.6" height="3.6"/>
</g>
<line x1="591.20" y1="441.30" x2="591.20" y2="845.00" stroke="#ee1111" stroke-width="1.8" stroke-dasharray="1.9,5.3"/>
</g>
<g id="panel-d">
<rect x="1181.40" y="23.30" width="226.00" height="39.10" fill="#a6a6a6" />
<rect x="1414.70" y="23.30" width="214.90" height="39.10" fill="#a6a6a6" />
<rect x="1636.20" y="23.30" width="259.40" height="39.10" fill="#a6a6a6" />
<text x="1294.20" y="47.90" font-size="16.8" fill="#fff" text-anchor="middle" >Sub. Plaque</text>
<text x="1522.20" y="46.90" font-size="15.0" fill="#fff" text-anchor="middle" >Tongue</text>
<text x="1765.90" y="47.90" font-size="17.2" fill="#fff" text-anchor="middle" >Saliva</text>
<rect x="1892.60" y="84.60" width="27.90" height="209.90" fill="#adadad" />
<rect x="1892.60" y="304.70" width="27.90" height="209.70" fill="#adadad" />
<rect x="1891.00" y="89.00" width="29.60" height="21.70" fill="#d9d9d9" />
<rect x="1893.00" y="136.20" width="27.60" height="21.60" fill="#d9d9d9" />
<rect x="1905.30" y="222.20" width="15.30" height="21.60" fill="#d9d9d9" />
<rect x="1905.30" y="246.80" width="15.30" height="21.20" fill="#d9d9d9" />
<rect x="1895.30" y="316.40" width="25.20" height="21.60" fill="#d9d9d9" />
<rect x="1893.00" y="367.50" width="27.50" height="21.80" fill="#d9d9d9" />
<rect x="1893.00" y="435.80" width="27.50" height="21.70" fill="#d9d9d9" />
<rect x="1894.50" y="477.00" width="26.00" height="21.40" fill="#d9d9d9" />
<text transform="translate(1901.60,189.30) rotate(90)" font-size="13" fill="#fff" text-anchor="middle" >DNA</text>
<text transform="translate(1901.60,410.00) rotate(90)" font-size="13" fill="#fff" text-anchor="middle" >RNA</text>
<rect x="1183.70" y="88.10" width="112.30" height="206.40" fill="#fff" />
<line x1="1183.70" y1="93.80" x2="1296.00" y2="93.80" stroke="#e4e4e4" stroke-width="0.8" />
<line x1="1183.70" y1="141.65" x2="1296.00" y2="141.65" stroke="#e4e4e4" stroke-width="0.8" />
<line x1="1183.70" y1="189.50" x2="1296.00" y2="189.50" stroke="#e4e4e4" stroke-width="0.8" />
<line x1="1183.70" y1="237.35" x2="1296.00" y2="237.35" stroke="#e4e4e4" stroke-width="0.8" />
<line x1="1183.70" y1="285.20" x2="1296.00" y2="285.20" stroke="#e4e4e4" stroke-width="0.8" />
<line x1="1190.15" y1="88.10" x2="1190.15" y2="294.50" stroke="#e4e4e4" stroke-width="0.8" />
<line x1="1201.22" y1="88.10" x2="1201.22" y2="294.50" stroke="#e4e4e4" stroke-width="0.8" />
<line x1="1212.29" y1="88.10" x2="1212.29" y2="294.50" stroke="#e4e4e4" stroke-width="0.8" />
<line x1="1223.36" y1="88.10" x2="1223.36" y2="294.50" stroke="#e4e4e4" stroke-width="0.8" />
<line x1="1234.43" y1="88.10" x2="1234.43" y2="294.50" stroke="#e4e4e4" stroke-width="0.8" />
<line x1="1245.50" y1="88.10" x2="1245.50" y2="294.50" stroke="#e4e4e4" stroke-width="0.8" />
<line x1="1256.57" y1="88.10" x2="1256.57" y2="294.50" stroke="#e4e4e4" stroke-width="0.8" />
<line x1="1267.64" y1="88.10" x2="1267.64" y2="294.50" stroke="#e4e4e4" stroke-width="0.8" />
<line x1="1278.71" y1="88.10" x2="1278.71" y2="294.50" stroke="#e4e4e4" stroke-width="0.8" />
<line x1="1289.78" y1="88.10" x2="1289.78" y2="294.50" stroke="#e4e4e4" stroke-width="0.8" />
<path d="M1183.70,88.10 V294.50 H1296.00 V88.10" fill="none" stroke="#c6c6c6" stroke-width="1.1"/>
<line x1="1183.70" y1="88.10" x2="1296.00" y2="88.10" stroke="#e2e2e2" stroke-width="1" />
<text x="1240.45" y="79.70" font-size="10.4" fill="#000" text-anchor="middle" >Healthy</text>
<rect x="1185.30" y="93.80" width="9.7" height="17.95" fill="#001a5c"/>
<rect x="1185.30" y="110.75" width="9.7" height="2.81" fill="#252d63"/>
<rect x="1185.30" y="112.56" width="9.7" height="68.11" fill="#000a66"/>
<rect x="1185.30" y="179.67" width="9.7" height="2.58" fill="#515785"/>
<rect x="1185.30" y="181.25" width="9.7" height="7.78" fill="#00474d"/>
<rect x="1185.30" y="188.03" width="9.7" height="59.30" fill="#0020e0"/>
<rect x="1185.30" y="246.33" width="9.7" height="3.26" fill="#939f6f"/>
<rect x="1185.30" y="248.59" width="9.7" height="12.30" fill="#855c40"/>
<rect x="1185.30" y="259.89" width="9.7" height="4.39" fill="#874d74"/>
<rect x="1185.30" y="263.28" width="9.7" height="3.26" fill="#1a2558"/>
<rect x="1185.30" y="265.54" width="9.7" height="2.81" fill="#6b4423"/>
<rect x="1185.30" y="267.35" width="9.7" height="17.85" fill="#757575"/>
<rect x="1196.37" y="93.80" width="9.7" height="38.29" fill="#232323"/>
<rect x="1196.37" y="131.09" width="9.7" height="11.62" fill="#8c7347"/>
<rect x="1196.37" y="141.71" width="9.7" height="49.13" fill="#000a66"/>
<rect x="1196.37" y="189.84" width="9.7" height="12.30" fill="#c0957b"/>
<rect x="1196.37" y="201.14" width="9.7" height="19.76" fill="#0020e0"/>
<rect x="1196.37" y="219.89" width="9.7" height="11.62" fill="#8f6a4f"/>
<rect x="1196.37" y="230.51" width="9.7" height="5.52" fill="#c0957b"/>
<rect x="1196.37" y="235.03" width="9.7" height="7.10" fill="#1a2558"/>
<rect x="1196.37" y="241.14" width="9.7" height="10.04" fill="#6b4423"/>
<rect x="1196.37" y="250.17" width="9.7" height="11.17" fill="#5c261f"/>
<rect x="1196.37" y="260.34" width="9.7" height="8.46" fill="#6b6e9c"/>
<rect x="1196.37" y="267.80" width="9.7" height="17.40" fill="#757575"/>
<rect x="1207.44" y="93.80" width="9.7" height="17.95" fill="#232323"/>
<rect x="1207.44" y="110.75" width="9.7" height="6.65" fill="#003300"/>
<rect x="1207.44" y="116.40" width="9.7" height="17.50" fill="#8c7347"/>
<rect x="1207.44" y="132.89" width="9.7" height="70.37" fill="#000a66"/>
<rect x="1207.44" y="202.27" width="9.7" height="7.33" fill="#57602a"/>
<rect x="1207.44" y="208.59" width="9.7" height="4.84" fill="#00474d"/>
<rect x="1207.44" y="212.44" width="9.7" height="26.54" fill="#0020e0"/>
<rect x="1207.44" y="237.97" width="9.7" height="10.49" fill="#8f6a4f"/>
<rect x="1207.44" y="247.46" width="9.7" height="2.58" fill="#c0957b"/>
<rect x="1207.44" y="249.04" width="9.7" height="5.07" fill="#45949a"/>
<rect x="1207.44" y="253.11" width="9.7" height="15.69" fill="#1a2558"/>
<rect x="1207.44" y="267.80" width="9.7" height="2.81" fill="#6b4423"/>
<rect x="1207.44" y="269.61" width="9.7" height="15.59" fill="#757575"/>
<rect x="1218.51" y="93.80" width="9.7" height="53.65" fill="#232323"/>
<rect x="1218.51" y="146.45" width="9.7" height="6.42" fill="#bccb9b"/>
<rect x="1218.51" y="151.88" width="9.7" height="22.69" fill="#8c7347"/>
<rect x="1218.51" y="173.57" width="9.7" height="29.70" fill="#869362"/>
<rect x="1218.51" y="202.27" width="9.7" height="2.81" fill="#7478a4"/>
<rect x="1218.51" y="204.08" width="9.7" height="25.63" fill="#00335c"/>
<rect x="1218.51" y="228.71" width="9.7" height="5.75" fill="#0020e0"/>
<rect x="1218.51" y="233.45" width="9.7" height="3.71" fill="#939f6f"/>
<rect x="1218.51" y="236.16" width="9.7" height="3.94" fill="#c0957b"/>
<rect x="1218.51" y="239.10" width="9.7" height="3.71" fill="#1a2558"/>
<rect x="1218.51" y="241.81" width="9.7" height="8.23" fill="#6b4423"/>
<rect x="1218.51" y="249.04" width="9.7" height="7.33" fill="#a0ad7a"/>
<rect x="1218.51" y="255.37" width="9.7" height="29.83" fill="#757575"/>
<rect x="1229.58" y="93.80" width="9.7" height="43.94" fill="#001a5c"/>
<rect x="1229.58" y="136.74" width="9.7" height="8.23" fill="#252d63"/>
<rect x="1229.58" y="143.97" width="9.7" height="17.50" fill="#7478a4"/>
<rect x="1229.58" y="160.46" width="9.7" height="85.06" fill="#00335c"/>
<rect x="1229.58" y="244.52" width="9.7" height="13.65" fill="#0020e0"/>
<rect x="1229.58" y="257.18" width="9.7" height="7.78" fill="#abb0dd"/>
<rect x="1229.58" y="263.96" width="9.7" height="3.26" fill="#1a2558"/>
<rect x="1229.58" y="266.22" width="9.7" height="18.98" fill="#757575"/>
<rect x="1240.65" y="93.80" width="9.7" height="4.39" fill="#1a2558"/>
<rect x="1240.65" y="97.19" width="9.7" height="152.85" fill="#0020e0"/>
<rect x="1240.65" y="249.04" width="9.7" height="3.94" fill="#855c40"/>
<rect x="1240.65" y="251.98" width="9.7" height="16.14" fill="#1a2558"/>
<rect x="1240.65" y="267.12" width="9.7" height="18.08" fill="#5c261f"/>
<rect x="1251.72" y="93.80" width="9.7" height="25.18" fill="#232323"/>
<rect x="1251.72" y="117.98" width="9.7" height="48.45" fill="#8c7347"/>
<rect x="1251.72" y="165.43" width="9.7" height="13.43" fill="#000a66"/>
<rect x="1251.72" y="177.86" width="9.7" height="11.39" fill="#869362"/>
<rect x="1251.72" y="188.26" width="9.7" height="11.62" fill="#7478a4"/>
<rect x="1251.72" y="198.88" width="9.7" height="20.21" fill="#00335c"/>
<rect x="1251.72" y="218.09" width="9.7" height="6.20" fill="#0020e0"/>
<rect x="1251.72" y="223.28" width="9.7" height="19.08" fill="#a0ad7a"/>
<rect x="1251.72" y="241.36" width="9.7" height="3.03" fill="#874d74"/>
<rect x="1251.72" y="243.39" width="9.7" height="10.72" fill="#3d4700"/>
<rect x="1251.72" y="253.11" width="9.7" height="3.94" fill="#1a2558"/>
<rect x="1251.72" y="256.05" width="9.7" height="10.49" fill="#6b4423"/>
<rect x="1251.72" y="265.54" width="9.7" height="4.84" fill="#5c261f"/>
<rect x="1251.72" y="269.38" width="9.7" height="6.20" fill="#a0ad7a"/>
<rect x="1251.72" y="274.58" width="9.7" height="10.62" fill="#757575"/>
<rect x="1262.79" y="93.80" width="9.7" height="17.04" fill="#8c7347"/>
<rect x="1262.79" y="109.84" width="9.7" height="151.50" fill="#000a66"/>
<rect x="1262.79" y="260.34" width="9.7" height="6.65" fill="#00474d"/>
<rect x="1262.79" y="265.99" width="9.7" height="8.91" fill="#0020e0"/>
<rect x="1262.79" y="273.90" width="9.7" height="2.81" fill="#939f6f"/>
<rect x="1262.79" y="275.71" width="9.7" height="2.81" fill="#6b4423"/>
<rect x="1262.79" y="277.52" width="9.7" height="3.26" fill="#1a2558"/>
<rect x="1262.79" y="279.78" width="9.7" height="5.42" fill="#757575"/>
<rect x="1273.86" y="93.80" width="9.7" height="31.05" fill="#8c7347"/>
<rect x="1273.86" y="123.85" width="9.7" height="69.70" fill="#000a66"/>
<rect x="1273.86" y="192.55" width="9.7" height="10.04" fill="#00474d"/>
<rect x="1273.86" y="201.59" width="9.7" height="21.56" fill="#0020e0"/>
<rect x="1273.86" y="222.15" width="9.7" height="2.58" fill="#939f6f"/>
<rect x="1273.86" y="223.74" width="9.7" height="21.34" fill="#8f6a4f"/>
<rect x="1273.86" y="244.07" width="9.7" height="2.81" fill="#3d4700"/>
<rect x="1273.86" y="245.88" width="9.7" height="17.27" fill="#1a2558"/>
<rect x="1273.86" y="262.15" width="9.7" height="3.94" fill="#6b4423"/>
<rect x="1273.86" y="265.09" width="9.7" height="4.16" fill="#5c261f"/>
<rect x="1273.86" y="268.25" width="9.7" height="3.26" fill="#939f6f"/>
<rect x="1273.86" y="270.51" width="9.7" height="14.69" fill="#757575"/>
<rect x="1284.93" y="93.80" width="9.7" height="23.15" fill="#232323"/>
<rect x="1284.93" y="115.95" width="9.7" height="10.49" fill="#8c7347"/>
<rect x="1284.93" y="125.44" width="9.7" height="17.50" fill="#000a66"/>
<rect x="1284.93" y="141.93" width="9.7" height="3.26" fill="#939f6f"/>
<rect x="1284.93" y="144.19" width="9.7" height="12.30" fill="#4a1200"/>
<rect x="1284.93" y="155.49" width="9.7" height="5.52" fill="#ffd3bc"/>
<rect x="1284.93" y="160.01" width="9.7" height="20.66" fill="#00335c"/>
<rect x="1284.93" y="179.67" width="9.7" height="20.66" fill="#0020e0"/>
<rect x="1284.93" y="199.33" width="9.7" height="2.81" fill="#939f6f"/>
<rect x="1284.93" y="201.14" width="9.7" height="33.77" fill="#8f6a4f"/>
<rect x="1284.93" y="233.90" width="9.7" height="2.58" fill="#c0957b"/>
<rect x="1284.93" y="235.49" width="9.7" height="6.20" fill="#1a2558"/>
<rect x="1284.93" y="240.68" width="9.7" height="9.36" fill="#5c261f"/>
<rect x="1284.93" y="249.04" width="9.7" height="2.81" fill="#6b4423"/>
<rect x="1284.93" y="250.85" width="9.7" height="13.43" fill="#6b6e9c"/>
<rect x="1284.93" y="263.28" width="9.7" height="21.92" fill="#757575"/>
<rect x="1305.30" y="88.10" width="101.70" height="206.40" fill="#fff" />
<line x1="1305.30" y1="93.80" x2="1407.00" y2="93.80" stroke="#e4e4e4" stroke-width="0.8" />
<line x1="1305.30" y1="141.65" x2="1407.00" y2="141.65" stroke="#e4e4e4" stroke-width="0.8" />
<line x1="1305.30" y1="189.50" x2="1407.00" y2="189.50" stroke="#e4e4e4" stroke-width="0.8" />
<line x1="1305.30" y1="237.35" x2="1407.00" y2="237.35" stroke="#e4e4e4" stroke-width="0.8" />
<line x1="1305.30" y1="285.20" x2="1407.00" y2="285.20" stroke="#e4e4e4" stroke-width="0.8" />
<line x1="1311.85" y1="88.10" x2="1311.85" y2="294.50" stroke="#e4e4e4" stroke-width="0.8" />
<line x1="1322.92" y1="88.10" x2="1322.92" y2="294.50" stroke="#e4e4e4" stroke-width="0.8" />
<line x1="1333.99" y1="88.10" x2="1333.99" y2="294.50" stroke="#e4e4e4" stroke-width="0.8" />
<line x1="1345.06" y1="88.10" x2="1345.06" y2="294.50" stroke="#e4e4e4" stroke-width="0.8" />
<line x1="1356.13" y1="88.10" x2="1356.13" y2="294.50" stroke="#e4e4e4" stroke-width="0.8" />
<line x1="1367.20" y1="88.10" x2="1367.20" y2="294.50" stroke="#e4e4e4" stroke-width="0.8" />
<line x1="1378.27" y1="88.10" x2="1378.27" y2="294.50" stroke="#e4e4e4" stroke-width="0.8" />
<line x1="1389.34" y1="88.10" x2="1389.34" y2="294.50" stroke="#e4e4e4" stroke-width="0.8" />
<line x1="1400.41" y1="88.10" x2="1400.41" y2="294.50" stroke="#e4e4e4" stroke-width="0.8" />
<path d="M1305.30,88.10 V294.50 H1407.00 V88.10" fill="none" stroke="#c6c6c6" stroke-width="1.1"/>
<line x1="1305.30" y1="88.10" x2="1407.00" y2="88.10" stroke="#e2e2e2" stroke-width="1" />
<text x="1354.65" y="79.70" font-size="10.4" fill="#000" text-anchor="middle" >Periodontitis</text>
<rect x="1307.00" y="93.80" width="9.7" height="25.41" fill="#001a5c"/>
<rect x="1307.00" y="118.21" width="9.7" height="24.05" fill="#232323"/>
<rect x="1307.00" y="141.25" width="9.7" height="16.37" fill="#8c7347"/>
<rect x="1307.00" y="156.62" width="9.7" height="83.48" fill="#000a66"/>
<rect x="1307.00" y="239.10" width="9.7" height="12.75" fill="#874d74"/>
<rect x="1307.00" y="250.85" width="9.7" height="7.33" fill="#0020e0"/>
<rect x="1307.00" y="257.18" width="9.7" height="3.26" fill="#939f6f"/>
<rect x="1307.00" y="259.44" width="9.7" height="6.42" fill="#3d4700"/>
<rect x="1307.00" y="264.86" width="9.7" height="11.39" fill="#1a2558"/>
<rect x="1307.00" y="275.26" width="9.7" height="3.26" fill="#939f6f"/>
<rect x="1307.00" y="277.52" width="9.7" height="7.68" fill="#757575"/>
<rect x="1318.07" y="93.80" width="9.7" height="47.78" fill="#8c7347"/>
<rect x="1318.07" y="140.58" width="9.7" height="70.15" fill="#000a66"/>
<rect x="1318.07" y="209.72" width="9.7" height="39.42" fill="#874d74"/>
<rect x="1318.07" y="248.14" width="9.7" height="21.79" fill="#00544a"/>
<rect x="1318.07" y="268.93" width="9.7" height="10.72" fill="#1a2558"/>
<rect x="1318.07" y="278.65" width="9.7" height="5.97" fill="#6fa8bd"/>
<rect x="1318.07" y="283.62" width="9.7" height="1.58" fill="#757575"/>
<rect x="1329.14" y="93.80" width="9.7" height="10.72" fill="#232323"/>
<rect x="1329.14" y="103.52" width="9.7" height="64.72" fill="#8c7347"/>
<rect x="1329.14" y="167.24" width="9.7" height="60.21" fill="#7478a4"/>
<rect x="1329.14" y="226.45" width="9.7" height="16.82" fill="#00335c"/>
<rect x="1329.14" y="242.26" width="9.7" height="4.62" fill="#00544a"/>
<rect x="1329.14" y="245.88" width="9.7" height="3.26" fill="#6b4423"/>
<rect x="1329.14" y="248.14" width="9.7" height="30.83" fill="#6fa8bd"/>
<rect x="1329.14" y="277.97" width="9.7" height="7.23" fill="#757575"/>
<rect x="1340.21" y="93.80" width="9.7" height="91.39" fill="#8c7347"/>
<rect x="1340.21" y="184.19" width="9.7" height="20.89" fill="#57602a"/>
<rect x="1340.21" y="204.08" width="9.7" height="4.39" fill="#00335c"/>
<rect x="1340.21" y="207.46" width="9.7" height="5.29" fill="#0020e0"/>
<rect x="1340.21" y="211.76" width="9.7" height="5.75" fill="#939f6f"/>
<rect x="1340.21" y="216.50" width="9.7" height="15.01" fill="#00544a"/>
<rect x="1340.21" y="230.51" width="9.7" height="3.94" fill="#8f6a4f"/>
<rect x="1340.21" y="233.45" width="9.7" height="3.03" fill="#3d4700"/>
<rect x="1340.21" y="235.49" width="9.7" height="6.88" fill="#6fa8bd"/>
<rect x="1340.21" y="241.36" width="9.7" height="5.52" fill="#6b4423"/>
<rect x="1340.21" y="245.88" width="9.7" height="4.16" fill="#a0ad7a"/>
<rect x="1340.21" y="249.04" width="9.7" height="36.16" fill="#757575"/>
<rect x="1351.28" y="93.80" width="9.7" height="2.13" fill="#939f6f"/>
<rect x="1351.28" y="94.93" width="9.7" height="12.98" fill="#8c7347"/>
<rect x="1351.28" y="106.91" width="9.7" height="108.34" fill="#000a66"/>
<rect x="1351.28" y="214.24" width="9.7" height="38.74" fill="#0020e0"/>
<rect x="1351.28" y="251.98" width="9.7" height="31.96" fill="#1a2558"/>
<rect x="1351.28" y="282.94" width="9.7" height="2.26" fill="#757575"/>
<rect x="1362.35" y="93.80" width="9.7" height="77.15" fill="#000a66"/>
<rect x="1362.35" y="169.95" width="9.7" height="6.20" fill="#1a2558"/>
<rect x="1362.35" y="175.15" width="9.7" height="110.05" fill="#0020e0"/>
<rect x="1373.42" y="93.80" width="9.7" height="29.25" fill="#a890c4"/>
<rect x="1373.42" y="122.05" width="9.7" height="54.78" fill="#9b7455"/>
<rect x="1373.42" y="175.83" width="9.7" height="31.28" fill="#8c7347"/>
<rect x="1373.42" y="206.11" width="9.7" height="6.88" fill="#000a66"/>
<rect x="1373.42" y="211.98" width="9.7" height="24.50" fill="#874d74"/>
<rect x="1373.42" y="235.49" width="9.7" height="11.85" fill="#869362"/>
<rect x="1373.42" y="246.33" width="9.7" height="3.71" fill="#7478a4"/>
<rect x="1373.42" y="249.04" width="9.7" height="4.62" fill="#006b66"/>
<rect x="1373.42" y="252.66" width="9.7" height="13.88" fill="#3d4700"/>
<rect x="1373.42" y="265.54" width="9.7" height="3.71" fill="#1a2558"/>
<rect x="1373.42" y="268.25" width="9.7" height="3.49" fill="#a0ad7a"/>
<rect x="1373.42" y="270.74" width="9.7" height="14.46" fill="#757575"/>
<rect x="1384.49" y="93.80" width="9.7" height="5.52" fill="#001a5c"/>
<rect x="1384.49" y="98.32" width="9.7" height="31.05" fill="#232323"/>
<rect x="1384.49" y="128.37" width="9.7" height="7.10" fill="#003300"/>
<rect x="1384.49" y="134.48" width="9.7" height="41.00" fill="#8c7347"/>
<rect x="1384.49" y="174.47" width="9.7" height="2.81" fill="#1a2558"/>
<rect x="1384.49" y="176.28" width="9.7" height="22.02" fill="#57602a"/>
<rect x="1384.49" y="197.30" width="9.7" height="48.91" fill="#0020e0"/>
<rect x="1384.49" y="245.20" width="9.7" height="7.10" fill="#a0ad7a"/>
<rect x="1384.49" y="251.30" width="9.7" height="2.36" fill="#00544a"/>
<rect x="1384.49" y="252.66" width="9.7" height="5.52" fill="#c0957b"/>
<rect x="1384.49" y="257.18" width="9.7" height="5.52" fill="#3d4700"/>
<rect x="1384.49" y="261.70" width="9.7" height="4.84" fill="#5c261f"/>
<rect x="1384.49" y="265.54" width="9.7" height="4.39" fill="#a0ad7a"/>
<rect x="1384.49" y="268.93" width="9.7" height="3.26" fill="#5c2d63"/>
<rect x="1384.49" y="271.19" width="9.7" height="14.01" fill="#757575"/>
<rect x="1395.56" y="93.80" width="9.7" height="26.99" fill="#001a5c"/>
<rect x="1395.56" y="119.79" width="9.7" height="3.26" fill="#003300"/>
<rect x="1395.56" y="122.05" width="9.7" height="33.09" fill="#8c7347"/>
<rect x="1395.56" y="154.14" width="9.7" height="90.94" fill="#000a66"/>
<rect x="1395.56" y="244.07" width="9.7" height="2.81" fill="#1a2558"/>
<rect x="1395.56" y="245.88" width="9.7" height="4.16" fill="#3d4700"/>
<rect x="1395.56" y="249.04" width="9.7" height="31.05" fill="#1a2558"/>
<rect x="1395.56" y="279.10" width="9.7" height="3.26" fill="#939f6f"/>
<rect x="1395.56" y="281.36" width="9.7" height="3.84" fill="#757575"/>
<rect x="1416.30" y="88.10" width="90.10" height="206.40" fill="#fff" />
<line x1="1416.30" y1="93.80" x2="1506.40" y2="93.80" stroke="#e4e4e4" stroke-width="0.8" />
<line x1="1416.30" y1="141.65" x2="1506.40" y2="141.65" stroke="#e4e4e4" stroke-width="0.8" />
<line x1="1416.30" y1="189.50" x2="1506.40" y2="189.50" stroke="#e4e4e4" stroke-width="0.8" />
<line x1="1416.30" y1="237.35" x2="1506.40" y2="237.35" stroke="#e4e4e4" stroke-width="0.8" />
<line x1="1416.30" y1="285.20" x2="1506.40" y2="285.20" stroke="#e4e4e4" stroke-width="0.8" />
<line x1="1422.65" y1="88.10" x2="1422.65" y2="294.50" stroke="#e4e4e4" stroke-width="0.8" />
<line x1="1433.72" y1="88.10" x2="1433.72" y2="294.50" stroke="#e4e4e4" stroke-width="0.8" />
<line x1="1444.79" y1="88.10" x2="1444.79" y2="294.50" stroke="#e4e4e4" stroke-width="0.8" />
<line x1="1455.86" y1="88.10" x2="1455.86" y2="294.50" stroke="#e4e4e4" stroke-width="0.8" />
<line x1="1466.93" y1="88.10" x2="1466.93" y2="294.50" stroke="#e4e4e4" stroke-width="0.8" />
<line x1="1478.00" y1="88.10" x2="1478.00" y2="294.50" stroke="#e4e4e4" stroke-width="0.8" />
<line x1="1489.07" y1="88.10" x2="1489.07" y2="294.50" stroke="#e4e4e4" stroke-width="0.8" />
<line x1="1500.14" y1="88.10" x2="1500.14" y2="294.50" stroke="#e4e4e4" stroke-width="0.8" />
<path d="M1416.30,88.10 V294.50 H1506.40 V88.10" fill="none" stroke="#c6c6c6" stroke-width="1.1"/>
<line x1="1416.30" y1="88.10" x2="1506.40" y2="88.10" stroke="#e2e2e2" stroke-width="1" />
<text x="1460.35" y="79.70" font-size="10.4" fill="#000" text-anchor="middle" >Healthy</text>
<rect x="1417.80" y="93.80" width="9.7" height="109.02" fill="#001a5c"/>
<rect x="1417.80" y="201.82" width="9.7" height="15.69" fill="#232323"/>
<rect x="1417.80" y="216.50" width="9.7" height="33.09" fill="#2f3566"/>
<rect x="1417.80" y="248.59" width="9.7" height="20.66" fill="#003300"/>
<rect x="1417.80" y="268.25" width="9.7" height="5.07" fill="#00474d"/>
<rect x="1417.80" y="272.32" width="9.7" height="3.26" fill="#1a2558"/>
<rect x="1417.80" y="274.58" width="9.7" height="8.46" fill="#874d74"/>
<rect x="1417.80" y="282.04" width="9.7" height="3.16" fill="#757575"/>
<rect x="1428.87" y="93.80" width="9.7" height="25.41" fill="#001a5c"/>
<rect x="1428.87" y="118.21" width="9.7" height="25.18" fill="#232323"/>
<rect x="1428.87" y="142.38" width="9.7" height="3.26" fill="#2f3566"/>
<rect x="1428.87" y="144.64" width="9.7" height="22.02" fill="#003300"/>
<rect x="1428.87" y="165.66" width="9.7" height="13.43" fill="#000a66"/>
<rect x="1428.87" y="178.09" width="9.7" height="9.36" fill="#00474d"/>
<rect x="1428.87" y="186.45" width="9.7" height="77.83" fill="#2f3566"/>
<rect x="1428.87" y="263.28" width="9.7" height="22.47" fill="#14205c"/>
<rect x="1428.87" y="284.75" width="9.7" height="0.45" fill="#757575"/>
<rect x="1439.94" y="93.80" width="9.7" height="94.10" fill="#001a5c"/>
<rect x="1439.94" y="186.90" width="9.7" height="8.01" fill="#232323"/>
<rect x="1439.94" y="193.91" width="9.7" height="12.07" fill="#2f3566"/>
<rect x="1439.94" y="204.98" width="9.7" height="10.72" fill="#003300"/>
<rect x="1439.94" y="214.70" width="9.7" height="13.43" fill="#000a66"/>
<rect x="1439.94" y="227.12" width="9.7" height="12.98" fill="#00474d"/>
<rect x="1439.94" y="239.10" width="9.7" height="4.16" fill="#2f3566"/>
<rect x="1439.94" y="242.26" width="9.7" height="36.25" fill="#14205c"/>
<rect x="1439.94" y="277.52" width="9.7" height="3.26" fill="#874d74"/>
<rect x="1439.94" y="279.78" width="9.7" height="3.71" fill="#6b6e9c"/>
<rect x="1439.94" y="282.49" width="9.7" height="2.71" fill="#757575"/>
<rect x="1451.01" y="93.80" width="9.7" height="74.89" fill="#001a5c"/>
<rect x="1451.01" y="167.69" width="9.7" height="6.20" fill="#2f3566"/>
<rect x="1451.01" y="172.89" width="9.7" height="12.75" fill="#003300"/>
<rect x="1451.01" y="184.64" width="9.7" height="58.62" fill="#00474d"/>
<rect x="1451.01" y="242.26" width="9.7" height="5.52" fill="#2f3566"/>
<rect x="1451.01" y="246.78" width="9.7" height="34.44" fill="#14205c"/>
<rect x="1451.01" y="280.23" width="9.7" height="3.71" fill="#874d74"/>
<rect x="1451.01" y="282.94" width="9.7" height="2.26" fill="#757575"/>
<rect x="1462.08" y="93.80" width="9.7" height="78.51" fill="#001a5c"/>
<rect x="1462.08" y="171.31" width="9.7" height="22.92" fill="#232323"/>
<rect x="1462.08" y="193.23" width="9.7" height="13.88" fill="#2f3566"/>
<rect x="1462.08" y="206.11" width="9.7" height="15.24" fill="#003300"/>
<rect x="1462.08" y="220.35" width="9.7" height="7.78" fill="#00474d"/>
<rect x="1462.08" y="227.12" width="9.7" height="4.39" fill="#2f3566"/>
<rect x="1462.08" y="230.51" width="9.7" height="45.74" fill="#14205c"/>
<rect x="1462.08" y="275.26" width="9.7" height="3.26" fill="#874d74"/>
<rect x="1462.08" y="277.52" width="9.7" height="4.84" fill="#6b6e9c"/>
<rect x="1462.08" y="281.36" width="9.7" height="3.84" fill="#757575"/>
<rect x="1473.15" y="93.80" width="9.7" height="43.94" fill="#001a5c"/>
<rect x="1473.15" y="136.74" width="9.7" height="37.16" fill="#232323"/>
<rect x="1473.15" y="172.89" width="9.7" height="17.27" fill="#2f3566"/>
<rect x="1473.15" y="189.16" width="9.7" height="21.34" fill="#003300"/>
<rect x="1473.15" y="209.50" width="9.7" height="8.91" fill="#00474d"/>
<rect x="1473.15" y="217.41" width="9.7" height="8.01" fill="#2f3566"/>
<rect x="1473.15" y="224.41" width="9.7" height="48.91" fill="#14205c"/>
<rect x="1473.15" y="272.32" width="9.7" height="7.10" fill="#874d74"/>
<rect x="1473.15" y="278.42" width="9.7" height="2.81" fill="#c0957b"/>
<rect x="1473.15" y="280.23" width="9.7" height="4.97" fill="#757575"/>
<rect x="1484.22" y="93.80" width="9.7" height="20.66" fill="#b3b9e3"/>
<rect x="1484.22" y="113.46" width="9.7" height="35.12" fill="#001a5c"/>
<rect x="1484.22" y="147.58" width="9.7" height="6.42" fill="#232323"/>
<rect x="1484.22" y="153.01" width="9.7" height="7.33" fill="#2f3566"/>
<rect x="1484.22" y="159.33" width="9.7" height="37.61" fill="#003300"/>
<rect x="1484.22" y="195.94" width="9.7" height="11.17" fill="#000a66"/>
<rect x="1484.22" y="206.11" width="9.7" height="14.11" fill="#00474d"/>
<rect x="1484.22" y="219.22" width="9.7" height="30.83" fill="#2f3566"/>
<rect x="1484.22" y="249.04" width="9.7" height="32.18" fill="#14205c"/>
<rect x="1484.22" y="280.23" width="9.7" height="3.26" fill="#6b6e9c"/>
<rect x="1484.22" y="282.49" width="9.7" height="2.71" fill="#757575"/>
<rect x="1495.29" y="93.80" width="9.7" height="38.96" fill="#001a5c"/>
<rect x="1495.29" y="131.76" width="9.7" height="29.70" fill="#232323"/>
<rect x="1495.29" y="160.46" width="9.7" height="19.53" fill="#2f3566"/>
<rect x="1495.29" y="178.99" width="9.7" height="16.82" fill="#003300"/>
<rect x="1495.29" y="194.81" width="9.7" height="10.72" fill="#000a66"/>
<rect x="1495.29" y="204.53" width="9.7" height="24.73" fill="#00474d"/>
<rect x="1495.29" y="228.25" width="9.7" height="36.03" fill="#14205c"/>
<rect x="1495.29" y="263.28" width="9.7" height="3.26" fill="#35806a"/>
<rect x="1495.29" y="265.54" width="9.7" height="7.10" fill="#874d74"/>
<rect x="1495.29" y="271.64" width="9.7" height="4.62" fill="#6b6e9c"/>
<rect x="1495.29" y="275.26" width="9.7" height="3.71" fill="#5c2d63"/>
<rect x="1495.29" y="277.97" width="9.7" height="7.23" fill="#757575"/>
<rect x="1515.40" y="88.10" width="112.50" height="206.40" fill="#fff" />
<line x1="1515.40" y1="93.80" x2="1627.90" y2="93.80" stroke="#e4e4e4" stroke-width="0.8" />
<line x1="1515.40" y1="141.65" x2="1627.90" y2="141.65" stroke="#e4e4e4" stroke-width="0.8" />
<line x1="1515.40" y1="189.50" x2="1627.90" y2="189.50" stroke="#e4e4e4" stroke-width="0.8" />
<line x1="1515.40" y1="237.35" x2="1627.90" y2="237.35" stroke="#e4e4e4" stroke-width="0.8" />
<line x1="1515.40" y1="285.20" x2="1627.90" y2="285.20" stroke="#e4e4e4" stroke-width="0.8" />
<line x1="1521.65" y1="88.10" x2="1521.65" y2="294.50" stroke="#e4e4e4" stroke-width="0.8" />
<line x1="1532.72" y1="88.10" x2="1532.72" y2="294.50" stroke="#e4e4e4" stroke-width="0.8" />
<line x1="1543.79" y1="88.10" x2="1543.79" y2="294.50" stroke="#e4e4e4" stroke-width="0.8" />
<line x1="1554.86" y1="88.10" x2="1554.86" y2="294.50" stroke="#e4e4e4" stroke-width="0.8" />
<line x1="1565.93" y1="88.10" x2="1565.93" y2="294.50" stroke="#e4e4e4" stroke-width="0.8" />
<line x1="1577.00" y1="88.10" x2="1577.00" y2="294.50" stroke="#e4e4e4" stroke-width="0.8" />
<line x1="1588.07" y1="88.10" x2="1588.07" y2="294.50" stroke="#e4e4e4" stroke-width="0.8" />
<line x1="1599.14" y1="88.10" x2="1599.14" y2="294.50" stroke="#e4e4e4" stroke-width="0.8" />
<line x1="1610.21" y1="88.10" x2="1610.21" y2="294.50" stroke="#e4e4e4" stroke-width="0.8" />
<line x1="1621.28" y1="88.10" x2="1621.28" y2="294.50" stroke="#e4e4e4" stroke-width="0.8" />
<path d="M1515.40,88.10 V294.50 H1627.90 V88.10" fill="none" stroke="#c6c6c6" stroke-width="1.1"/>
<line x1="1515.40" y1="88.10" x2="1627.90" y2="88.10" stroke="#e2e2e2" stroke-width="1" />
<text x="1571.65" y="79.70" font-size="10.4" fill="#000" text-anchor="middle" >Periodontitis</text>
<rect x="1516.80" y="93.80" width="9.7" height="95.46" fill="#001a5c"/>
<rect x="1516.80" y="188.26" width="9.7" height="3.71" fill="#2f3566"/>
<rect x="1516.80" y="190.97" width="9.7" height="16.82" fill="#003300"/>
<rect x="1516.80" y="206.79" width="9.7" height="26.54" fill="#000a66"/>
<rect x="1516.80" y="232.32" width="9.7" height="5.97" fill="#2f3566"/>
<rect x="1516.80" y="237.29" width="9.7" height="38.96" fill="#14205c"/>
<rect x="1516.80" y="275.26" width="9.7" height="3.26" fill="#0020e0"/>
<rect x="1516.80" y="277.52" width="9.7" height="5.97" fill="#6b6e9c"/>
<rect x="1516.80" y="282.49" width="9.7" height="2.71" fill="#874d74"/>
<rect x="1527.87" y="93.80" width="9.7" height="98.85" fill="#001a5c"/>
<rect x="1527.87" y="191.65" width="9.7" height="10.04" fill="#232323"/>
<rect x="1527.87" y="200.69" width="9.7" height="21.11" fill="#2f3566"/>
<rect x="1527.87" y="220.80" width="9.7" height="21.34" fill="#003300"/>
<rect x="1527.87" y="241.14" width="9.7" height="21.56" fill="#14205c"/>
<rect x="1527.87" y="261.70" width="9.7" height="4.16" fill="#874d74"/>
<rect x="1527.87" y="264.86" width="9.7" height="8.46" fill="#6b6e9c"/>
<rect x="1527.87" y="272.32" width="9.7" height="4.39" fill="#5c2d63"/>
<rect x="1527.87" y="275.71" width="9.7" height="9.49" fill="#757575"/>
<rect x="1538.94" y="93.80" width="9.7" height="111.28" fill="#001a5c"/>
<rect x="1538.94" y="204.08" width="9.7" height="10.49" fill="#232323"/>
<rect x="1538.94" y="213.57" width="9.7" height="17.95" fill="#2f3566"/>
<rect x="1538.94" y="230.51" width="9.7" height="5.97" fill="#003300"/>
<rect x="1538.94" y="235.49" width="9.7" height="2.81" fill="#8c7347"/>
<rect x="1538.94" y="237.29" width="9.7" height="10.04" fill="#000a66"/>
<rect x="1538.94" y="246.33" width="9.7" height="37.61" fill="#14205c"/>
<rect x="1538.94" y="282.94" width="9.7" height="2.26" fill="#874d74"/>
<rect x="1550.01" y="93.80" width="9.7" height="26.54" fill="#001a5c"/>
<rect x="1550.01" y="119.34" width="9.7" height="23.60" fill="#232323"/>
<rect x="1550.01" y="141.93" width="9.7" height="44.39" fill="#003300"/>
<rect x="1550.01" y="185.32" width="9.7" height="20.89" fill="#00474d"/>
<rect x="1550.01" y="205.21" width="9.7" height="13.20" fill="#2f3566"/>
<rect x="1550.01" y="217.41" width="9.7" height="57.49" fill="#14205c"/>
<rect x="1550.01" y="273.90" width="9.7" height="4.39" fill="#c0957b"/>
<rect x="1550.01" y="277.29" width="9.7" height="3.26" fill="#874d74"/>
<rect x="1550.01" y="279.55" width="9.7" height="5.65" fill="#757575"/>
<rect x="1561.08" y="93.80" width="9.7" height="105.40" fill="#001a5c"/>
<rect x="1561.08" y="198.20" width="9.7" height="47.32" fill="#2f3566"/>
<rect x="1561.08" y="244.52" width="9.7" height="32.18" fill="#003300"/>
<rect x="1561.08" y="275.71" width="9.7" height="3.26" fill="#1a2558"/>
<rect x="1561.08" y="277.97" width="9.7" height="3.94" fill="#c0957b"/>
<rect x="1561.08" y="280.91" width="9.7" height="3.26" fill="#874d74"/>
<rect x="1561.08" y="283.17" width="9.7" height="2.03" fill="#757575"/>
<rect x="1572.15" y="93.80" width="9.7" height="106.08" fill="#001a5c"/>
<rect x="1572.15" y="198.88" width="9.7" height="6.20" fill="#232323"/>
<rect x="1572.15" y="204.08" width="9.7" height="50.04" fill="#2f3566"/>
<rect x="1572.15" y="253.11" width="9.7" height="5.07" fill="#003300"/>
<rect x="1572.15" y="257.18" width="9.7" height="24.73" fill="#14205c"/>
<rect x="1572.15" y="280.91" width="9.7" height="3.03" fill="#874d74"/>
<rect x="1572.15" y="282.94" width="9.7" height="2.26" fill="#6b6e9c"/>
<rect x="1583.22" y="93.80" width="9.7" height="130.48" fill="#001a5c"/>
<rect x="1583.22" y="223.28" width="9.7" height="30.83" fill="#2f3566"/>
<rect x="1583.22" y="253.11" width="9.7" height="15.69" fill="#003300"/>
<rect x="1583.22" y="267.80" width="9.7" height="5.52" fill="#000a66"/>
<rect x="1583.22" y="272.32" width="9.7" height="11.17" fill="#14205c"/>
<rect x="1583.22" y="282.49" width="9.7" height="2.71" fill="#874d74"/>
<rect x="1594.29" y="93.80" width="9.7" height="128.00" fill="#001a5c"/>
<rect x="1594.29" y="220.80" width="9.7" height="30.60" fill="#2f3566"/>
<rect x="1594.29" y="250.40" width="9.7" height="7.78" fill="#003300"/>
<rect x="1594.29" y="257.18" width="9.7" height="3.03" fill="#000a66"/>
<rect x="1594.29" y="259.21" width="9.7" height="11.85" fill="#00474d"/>
<rect x="1594.29" y="270.06" width="9.7" height="11.85" fill="#14205c"/>
<rect x="1594.29" y="280.91" width="9.7" height="4.29" fill="#874d74"/>
<rect x="1605.36" y="93.80" width="9.7" height="53.65" fill="#001a5c"/>
<rect x="1605.36" y="146.45" width="9.7" height="20.66" fill="#2f3566"/>
<rect x="1605.36" y="166.11" width="9.7" height="43.94" fill="#003300"/>
<rect x="1605.36" y="209.05" width="9.7" height="23.15" fill="#00474d"/>
<rect x="1605.36" y="231.19" width="9.7" height="8.91" fill="#2f3566"/>
<rect x="1605.36" y="239.10" width="9.7" height="31.28" fill="#14205c"/>
<rect x="1605.36" y="269.38" width="9.7" height="14.56" fill="#9195c2"/>
<rect x="1605.36" y="282.94" width="9.7" height="2.26" fill="#874d74"/>
<rect x="1616.43" y="93.80" width="9.7" height="55.23" fill="#001a5c"/>
<rect x="1616.43" y="148.03" width="9.7" height="31.51" fill="#2f3566"/>
<rect x="1616.43" y="178.54" width="9.7" height="49.58" fill="#003300"/>
<rect x="1616.43" y="227.12" width="9.7" height="35.57" fill="#2f3566"/>
<rect x="1616.43" y="261.70" width="9.7" height="11.62" fill="#14205c"/>
<rect x="1616.43" y="272.32" width="9.7" height="7.33" fill="#6b6e9c"/>
<rect x="1616.43" y="278.65" width="9.7" height="6.55" fill="#5c2d63"/>
<rect x="1636.90" y="88.10" width="123.60" height="206.40" fill="#fff" />
<line x1="1636.90" y1="93.80" x2="1760.50" y2="93.80" stroke="#e4e4e4" stroke-width="0.8" />
<line x1="1636.90" y1="141.65" x2="1760.50" y2="141.65" stroke="#e4e4e4" stroke-width="0.8" />
<line x1="1636.90" y1="189.50" x2="1760.50" y2="189.50" stroke="#e4e4e4" stroke-width="0.8" />
<line x1="1636.90" y1="237.35" x2="1760.50" y2="237.35" stroke="#e4e4e4" stroke-width="0.8" />
<line x1="1636.90" y1="285.20" x2="1760.50" y2="285.20" stroke="#e4e4e4" stroke-width="0.8" />
<line x1="1643.35" y1="88.10" x2="1643.35" y2="294.50" stroke="#e4e4e4" stroke-width="0.8" />
<line x1="1654.42" y1="88.10" x2="1654.42" y2="294.50" stroke="#e4e4e4" stroke-width="0.8" />
<line x1="1665.49" y1="88.10" x2="1665.49" y2="294.50" stroke="#e4e4e4" stroke-width="0.8" />
<line x1="1676.56" y1="88.10" x2="1676.56" y2="294.50" stroke="#e4e4e4" stroke-width="0.8" />
<line x1="1687.63" y1="88.10" x2="1687.63" y2="294.50" stroke="#e4e4e4" stroke-width="0.8" />
<line x1="1698.70" y1="88.10" x2="1698.70" y2="294.50" stroke="#e4e4e4" stroke-width="0.8" />
<line x1="1709.77" y1="88.10" x2="1709.77" y2="294.50" stroke="#e4e4e4" stroke-width="0.8" />
<line x1="1720.84" y1="88.10" x2="1720.84" y2="294.50" stroke="#e4e4e4" stroke-width="0.8" />
<line x1="1731.91" y1="88.10" x2="1731.91" y2="294.50" stroke="#e4e4e4" stroke-width="0.8" />
<line x1="1742.98" y1="88.10" x2="1742.98" y2="294.50" stroke="#e4e4e4" stroke-width="0.8" />
<line x1="1754.05" y1="88.10" x2="1754.05" y2="294.50" stroke="#e4e4e4" stroke-width="0.8" />
<path d="M1636.90,88.10 V294.50 H1760.50 V88.10" fill="none" stroke="#c6c6c6" stroke-width="1.1"/>
<line x1="1636.90" y1="88.10" x2="1760.50" y2="88.10" stroke="#e2e2e2" stroke-width="1" />
<text x="1698.70" y="79.70" font-size="10.4" fill="#000" text-anchor="middle" >Healthy</text>
<rect x="1638.50" y="93.80" width="9.7" height="65.85" fill="#001a5c"/>
<rect x="1638.50" y="158.65" width="9.7" height="34.90" fill="#232323"/>
<rect x="1638.50" y="192.55" width="9.7" height="25.41" fill="#2f3566"/>
<rect x="1638.50" y="216.96" width="9.7" height="16.82" fill="#003300"/>
<rect x="1638.50" y="232.77" width="9.7" height="21.79" fill="#000a66"/>
<rect x="1638.50" y="253.56" width="9.7" height="6.65" fill="#00474d"/>
<rect x="1638.50" y="259.21" width="9.7" height="12.52" fill="#2f3566"/>
<rect x="1638.50" y="270.74" width="9.7" height="2.58" fill="#0020e0"/>
<rect x="1638.50" y="272.32" width="9.7" height="6.20" fill="#874d74"/>
<rect x="1638.50" y="277.52" width="9.7" height="7.68" fill="#757575"/>
<rect x="1649.57" y="93.80" width="9.7" height="19.53" fill="#001a5c"/>
<rect x="1649.57" y="112.33" width="9.7" height="32.86" fill="#232323"/>
<rect x="1649.57" y="144.19" width="9.7" height="3.03" fill="#2f3566"/>
<rect x="1649.57" y="146.23" width="9.7" height="25.41" fill="#003300"/>
<rect x="1649.57" y="170.63" width="9.7" height="34.44" fill="#000a66"/>
<rect x="1649.57" y="204.08" width="9.7" height="6.42" fill="#00474d"/>
<rect x="1649.57" y="209.50" width="9.7" height="44.61" fill="#2f3566"/>
<rect x="1649.57" y="253.11" width="9.7" height="23.15" fill="#14205c"/>
<rect x="1649.57" y="275.26" width="9.7" height="3.26" fill="#0020e0"/>
<rect x="1649.57" y="277.52" width="9.7" height="3.71" fill="#c0957b"/>
<rect x="1649.57" y="280.23" width="9.7" height="4.97" fill="#757575"/>
<rect x="1660.64" y="93.80" width="9.7" height="66.08" fill="#001a5c"/>
<rect x="1660.64" y="158.88" width="9.7" height="9.81" fill="#232323"/>
<rect x="1660.64" y="167.69" width="9.7" height="7.78" fill="#2f3566"/>
<rect x="1660.64" y="174.47" width="9.7" height="6.20" fill="#003300"/>
<rect x="1660.64" y="179.67" width="9.7" height="54.78" fill="#000a66"/>
<rect x="1660.64" y="233.45" width="9.7" height="4.84" fill="#00474d"/>
<rect x="1660.64" y="237.29" width="9.7" height="24.05" fill="#14205c"/>
<rect x="1660.64" y="260.34" width="9.7" height="8.91" fill="#0020e0"/>
<rect x="1660.64" y="268.25" width="9.7" height="3.94" fill="#874d74"/>
<rect x="1660.64" y="271.19" width="9.7" height="7.33" fill="#6b6e9c"/>
<rect x="1660.64" y="277.52" width="9.7" height="7.68" fill="#757575"/>
<rect x="1671.71" y="93.80" width="9.7" height="42.13" fill="#001a5c"/>
<rect x="1671.71" y="134.93" width="9.7" height="15.24" fill="#232323"/>
<rect x="1671.71" y="149.16" width="9.7" height="10.72" fill="#2f3566"/>
<rect x="1671.71" y="158.88" width="9.7" height="21.11" fill="#003300"/>
<rect x="1671.71" y="178.99" width="9.7" height="18.63" fill="#000a66"/>
<rect x="1671.71" y="196.62" width="9.7" height="5.52" fill="#00474d"/>
<rect x="1671.71" y="201.14" width="9.7" height="24.73" fill="#2f3566"/>
<rect x="1671.71" y="224.86" width="9.7" height="22.02" fill="#14205c"/>
<rect x="1671.71" y="245.88" width="9.7" height="18.40" fill="#35806a"/>
<rect x="1671.71" y="263.28" width="9.7" height="3.26" fill="#0020e0"/>
<rect x="1671.71" y="265.54" width="9.7" height="4.39" fill="#874d74"/>
<rect x="1671.71" y="268.93" width="9.7" height="9.59" fill="#6b6e9c"/>
<rect x="1671.71" y="277.52" width="9.7" height="3.71" fill="#5c2d63"/>
<rect x="1671.71" y="280.23" width="9.7" height="4.97" fill="#757575"/>
<rect x="1682.78" y="93.80" width="9.7" height="44.61" fill="#001a5c"/>
<rect x="1682.78" y="137.41" width="9.7" height="30.15" fill="#232323"/>
<rect x="1682.78" y="166.56" width="9.7" height="14.78" fill="#2f3566"/>
<rect x="1682.78" y="180.35" width="9.7" height="17.95" fill="#8c7347"/>
<rect x="1682.78" y="197.30" width="9.7" height="21.79" fill="#000a66"/>
<rect x="1682.78" y="218.09" width="9.7" height="4.39" fill="#14205c"/>
<rect x="1682.78" y="221.48" width="9.7" height="16.37" fill="#7478a4"/>
<rect x="1682.78" y="236.84" width="9.7" height="3.71" fill="#00335c"/>
<rect x="1682.78" y="239.55" width="9.7" height="23.60" fill="#0020e0"/>
<rect x="1682.78" y="262.15" width="9.7" height="7.10" fill="#00544a"/>
<rect x="1682.78" y="268.25" width="9.7" height="3.94" fill="#6b6e9c"/>
<rect x="1682.78" y="271.19" width="9.7" height="5.07" fill="#874d74"/>
<rect x="1682.78" y="275.26" width="9.7" height="9.94" fill="#757575"/>
<rect x="1693.85" y="93.80" width="9.7" height="48.91" fill="#001a5c"/>
<rect x="1693.85" y="141.71" width="9.7" height="29.25" fill="#232323"/>
<rect x="1693.85" y="169.95" width="9.7" height="8.01" fill="#2f3566"/>
<rect x="1693.85" y="176.96" width="9.7" height="19.53" fill="#003300"/>
<rect x="1693.85" y="195.49" width="9.7" height="7.78" fill="#00474d"/>
<rect x="1693.85" y="202.27" width="9.7" height="36.03" fill="#2f3566"/>
<rect x="1693.85" y="237.29" width="9.7" height="42.81" fill="#14205c"/>
<rect x="1693.85" y="279.10" width="9.7" height="6.10" fill="#5c2d63"/>
<rect x="1704.92" y="93.80" width="9.7" height="42.81" fill="#001a5c"/>
<rect x="1704.92" y="135.61" width="9.7" height="15.69" fill="#232323"/>
<rect x="1704.92" y="150.29" width="9.7" height="4.84" fill="#2f3566"/>
<rect x="1704.92" y="154.14" width="9.7" height="36.03" fill="#003300"/>
<rect x="1704.92" y="189.16" width="9.7" height="22.02" fill="#000a66"/>
<rect x="1704.92" y="210.18" width="9.7" height="28.79" fill="#00474d"/>
<rect x="1704.92" y="237.97" width="9.7" height="7.10" fill="#2f3566"/>
<rect x="1704.92" y="244.07" width="9.7" height="30.83" fill="#14205c"/>
<rect x="1704.92" y="273.90" width="9.7" height="3.26" fill="#0020e0"/>
<rect x="1704.92" y="276.16" width="9.7" height="5.07" fill="#6b6e9c"/>
<rect x="1704.92" y="280.23" width="9.7" height="2.81" fill="#874d74"/>
<rect x="1704.92" y="282.04" width="9.7" height="3.16" fill="#757575"/>
<rect x="1715.99" y="93.80" width="9.7" height="59.75" fill="#001a5c"/>
<rect x="1715.99" y="152.55" width="9.7" height="25.41" fill="#232323"/>
<rect x="1715.99" y="176.96" width="9.7" height="12.07" fill="#2f3566"/>
<rect x="1715.99" y="188.03" width="9.7" height="10.04" fill="#003300"/>
<rect x="1715.99" y="197.07" width="9.7" height="2.36" fill="#8c7347"/>
<rect x="1715.99" y="198.43" width="9.7" height="33.09" fill="#000a66"/>
<rect x="1715.99" y="230.51" width="9.7" height="3.94" fill="#00474d"/>
<rect x="1715.99" y="233.45" width="9.7" height="7.78" fill="#2f3566"/>
<rect x="1715.99" y="240.23" width="9.7" height="22.92" fill="#14205c"/>
<rect x="1715.99" y="262.15" width="9.7" height="8.23" fill="#0020e0"/>
<rect x="1715.99" y="269.38" width="9.7" height="6.88" fill="#6b6e9c"/>
<rect x="1715.99" y="275.26" width="9.7" height="3.26" fill="#874d74"/>
<rect x="1715.99" y="277.52" width="9.7" height="7.68" fill="#757575"/>
<rect x="1727.06" y="93.80" width="9.7" height="27.44" fill="#001a5c"/>
<rect x="1727.06" y="120.24" width="9.7" height="32.18" fill="#232323"/>
<rect x="1727.06" y="151.42" width="9.7" height="10.04" fill="#2f3566"/>
<rect x="1727.06" y="160.46" width="9.7" height="50.26" fill="#003300"/>
<rect x="1727.06" y="209.72" width="9.7" height="5.97" fill="#00474d"/>
<rect x="1727.06" y="214.70" width="9.7" height="19.08" fill="#2f3566"/>
<rect x="1727.06" y="232.77" width="9.7" height="35.35" fill="#14205c"/>
<rect x="1727.06" y="267.12" width="9.7" height="6.20" fill="#0020e0"/>
<rect x="1727.06" y="272.32" width="9.7" height="2.81" fill="#6b6e9c"/>
<rect x="1727.06" y="274.13" width="9.7" height="11.07" fill="#757575"/>
<rect x="1738.13" y="93.80" width="9.7" height="5.52" fill="#b3b9e3"/>
<rect x="1738.13" y="98.32" width="9.7" height="22.02" fill="#001a5c"/>
<rect x="1738.13" y="119.34" width="9.7" height="6.65" fill="#bfc4ee"/>
<rect x="1738.13" y="124.98" width="9.7" height="22.47" fill="#232323"/>
<rect x="1738.13" y="146.45" width="9.7" height="3.03" fill="#2f3566"/>
<rect x="1738.13" y="148.49" width="9.7" height="28.34" fill="#003300"/>
<rect x="1738.13" y="175.83" width="9.7" height="55.69" fill="#000a66"/>
<rect x="1738.13" y="230.51" width="9.7" height="8.91" fill="#2f3566"/>
<rect x="1738.13" y="238.42" width="9.7" height="22.47" fill="#14205c"/>
<rect x="1738.13" y="259.89" width="9.7" height="7.78" fill="#0020e0"/>
<rect x="1738.13" y="266.67" width="9.7" height="3.71" fill="#874d74"/>
<rect x="1738.13" y="269.38" width="9.7" height="9.59" fill="#6b6e9c"/>
<rect x="1738.13" y="277.97" width="9.7" height="3.26" fill="#5c2d63"/>
<rect x="1738.13" y="280.23" width="9.7" height="4.97" fill="#757575"/>
<rect x="1749.20" y="93.80" width="9.7" height="28.79" fill="#001a5c"/>
<rect x="1749.20" y="121.59" width="9.7" height="22.47" fill="#232323"/>
<rect x="1749.20" y="143.06" width="9.7" height="9.81" fill="#2f3566"/>
<rect x="1749.20" y="151.88" width="9.7" height="34.44" fill="#003300"/>
<rect x="1749.20" y="185.32" width="9.7" height="34.22" fill="#000a66"/>
<rect x="1749.20" y="218.54" width="9.7" height="20.89" fill="#00474d"/>
<rect x="1749.20" y="238.42" width="9.7" height="10.04" fill="#2f3566"/>
<rect x="1749.20" y="247.46" width="9.7" height="17.95" fill="#14205c"/>
<rect x="1749.20" y="264.41" width="9.7" height="9.59" fill="#0020e0"/>
<rect x="1749.20" y="273.00" width="9.7" height="5.97" fill="#6b6e9c"/>
<rect x="1749.20" y="277.97" width="9.7" height="3.26" fill="#5c2d63"/>
<rect x="1749.20" y="280.23" width="9.7" height="4.97" fill="#757575"/>
<rect x="1769.80" y="88.10" width="122.80" height="206.40" fill="#fff" />
<line x1="1769.80" y1="93.80" x2="1892.60" y2="93.80" stroke="#e4e4e4" stroke-width="0.8" />
<line x1="1769.80" y1="141.65" x2="1892.60" y2="141.65" stroke="#e4e4e4" stroke-width="0.8" />
<line x1="1769.80" y1="189.50" x2="1892.60" y2="189.50" stroke="#e4e4e4" stroke-width="0.8" />
<line x1="1769.80" y1="237.35" x2="1892.60" y2="237.35" stroke="#e4e4e4" stroke-width="0.8" />
<line x1="1769.80" y1="285.20" x2="1892.60" y2="285.20" stroke="#e4e4e4" stroke-width="0.8" />
<line x1="1776.05" y1="88.10" x2="1776.05" y2="294.50" stroke="#e4e4e4" stroke-width="0.8" />
<line x1="1787.12" y1="88.10" x2="1787.12" y2="294.50" stroke="#e4e4e4" stroke-width="0.8" />
<line x1="1798.19" y1="88.10" x2="1798.19" y2="294.50" stroke="#e4e4e4" stroke-width="0.8" />
<line x1="1809.26" y1="88.10" x2="1809.26" y2="294.50" stroke="#e4e4e4" stroke-width="0.8" />
<line x1="1820.33" y1="88.10" x2="1820.33" y2="294.50" stroke="#e4e4e4" stroke-width="0.8" />
<line x1="1831.40" y1="88.10" x2="1831.40" y2="294.50" stroke="#e4e4e4" stroke-width="0.8" />
<line x1="1842.47" y1="88.10" x2="1842.47" y2="294.50" stroke="#e4e4e4" stroke-width="0.8" />
<line x1="1853.54" y1="88.10" x2="1853.54" y2="294.50" stroke="#e4e4e4" stroke-width="0.8" />
<line x1="1864.61" y1="88.10" x2="1864.61" y2="294.50" stroke="#e4e4e4" stroke-width="0.8" />
<line x1="1875.68" y1="88.10" x2="1875.68" y2="294.50" stroke="#e4e4e4" stroke-width="0.8" />
<line x1="1886.75" y1="88.10" x2="1886.75" y2="294.50" stroke="#e4e4e4" stroke-width="0.8" />
<path d="M1769.80,88.10 V294.50 H1892.60 V88.10" fill="none" stroke="#c6c6c6" stroke-width="1.1"/>
<line x1="1769.80" y1="88.10" x2="1892.60" y2="88.10" stroke="#e2e2e2" stroke-width="1" />
<text x="1831.20" y="79.70" font-size="10.4" fill="#000" text-anchor="middle" >Periodontitis</text>
<rect x="1771.20" y="93.80" width="9.7" height="90.94" fill="#001a5c"/>
<rect x="1771.20" y="183.74" width="9.7" height="10.94" fill="#003300"/>
<rect x="1771.20" y="193.68" width="9.7" height="35.57" fill="#000a66"/>
<rect x="1771.20" y="228.25" width="9.7" height="6.20" fill="#00474d"/>
<rect x="1771.20" y="233.45" width="9.7" height="8.91" fill="#2f3566"/>
<rect x="1771.20" y="241.36" width="9.7" height="29.25" fill="#14205c"/>
<rect x="1771.20" y="269.61" width="9.7" height="5.29" fill="#9195c2"/>
<rect x="1771.20" y="273.90" width="9.7" height="2.36" fill="#c0957b"/>
<rect x="1771.20" y="275.26" width="9.7" height="5.97" fill="#6b6e9c"/>
<rect x="1771.20" y="280.23" width="9.7" height="3.71" fill="#874d74"/>
<rect x="1771.20" y="282.94" width="9.7" height="2.26" fill="#757575"/>
<rect x="1782.27" y="93.80" width="9.7" height="83.03" fill="#001a5c"/>
<rect x="1782.27" y="175.83" width="9.7" height="85.51" fill="#000a66"/>
<rect x="1782.27" y="260.34" width="9.7" height="15.69" fill="#14205c"/>
<rect x="1782.27" y="275.03" width="9.7" height="6.88" fill="#515785"/>
<rect x="1782.27" y="280.91" width="9.7" height="4.29" fill="#757575"/>
<rect x="1793.34" y="93.80" width="9.7" height="76.02" fill="#001a5c"/>
<rect x="1793.34" y="168.82" width="9.7" height="14.78" fill="#232323"/>
<rect x="1793.34" y="182.61" width="9.7" height="11.17" fill="#2f3566"/>
<rect x="1793.34" y="192.78" width="9.7" height="6.42" fill="#003300"/>
<rect x="1793.34" y="198.20" width="9.7" height="2.81" fill="#8c7347"/>
<rect x="1793.34" y="200.01" width="9.7" height="25.41" fill="#000a66"/>
<rect x="1793.34" y="224.41" width="9.7" height="53.43" fill="#14205c"/>
<rect x="1793.34" y="276.84" width="9.7" height="8.36" fill="#515785"/>
<rect x="1804.41" y="93.80" width="9.7" height="18.63" fill="#001a5c"/>
<rect x="1804.41" y="111.43" width="9.7" height="55.23" fill="#232323"/>
<rect x="1804.41" y="165.66" width="9.7" height="18.40" fill="#003300"/>
<rect x="1804.41" y="183.06" width="9.7" height="14.11" fill="#00474d"/>
<rect x="1804.41" y="196.17" width="9.7" height="9.81" fill="#2f3566"/>
<rect x="1804.41" y="204.98" width="9.7" height="51.39" fill="#14205c"/>
<rect x="1804.41" y="255.37" width="9.7" height="2.81" fill="#0020e0"/>
<rect x="1804.41" y="257.18" width="9.7" height="4.16" fill="#c0957b"/>
<rect x="1804.41" y="260.34" width="9.7" height="8.91" fill="#6b6e9c"/>
<rect x="1804.41" y="268.25" width="9.7" height="3.49" fill="#874d74"/>
<rect x="1804.41" y="270.74" width="9.7" height="14.46" fill="#757575"/>
<rect x="1815.48" y="93.80" width="9.7" height="61.56" fill="#001a5c"/>
<rect x="1815.48" y="154.36" width="9.7" height="15.69" fill="#232323"/>
<rect x="1815.48" y="169.05" width="9.7" height="18.85" fill="#2f3566"/>
<rect x="1815.48" y="186.90" width="9.7" height="14.56" fill="#003300"/>
<rect x="1815.48" y="200.46" width="9.7" height="20.21" fill="#8c7347"/>
<rect x="1815.48" y="219.67" width="9.7" height="24.28" fill="#000a66"/>
<rect x="1815.48" y="242.94" width="9.7" height="4.39" fill="#14205c"/>
<rect x="1815.48" y="246.33" width="9.7" height="10.04" fill="#7478a4"/>
<rect x="1815.48" y="255.37" width="9.7" height="6.20" fill="#0020e0"/>
<rect x="1815.48" y="260.57" width="9.7" height="2.58" fill="#c0957b"/>
<rect x="1815.48" y="262.15" width="9.7" height="3.26" fill="#00544a"/>
<rect x="1815.48" y="264.41" width="9.7" height="3.26" fill="#3d4700"/>
<rect x="1815.48" y="266.67" width="9.7" height="4.39" fill="#6fa8bd"/>
<rect x="1815.48" y="270.06" width="9.7" height="15.14" fill="#757575"/>
<rect x="1826.55" y="93.80" width="9.7" height="80.77" fill="#001a5c"/>
<rect x="1826.55" y="173.57" width="9.7" height="13.88" fill="#232323"/>
<rect x="1826.55" y="186.45" width="9.7" height="45.06" fill="#2f3566"/>
<rect x="1826.55" y="230.51" width="9.7" height="5.52" fill="#003300"/>
<rect x="1826.55" y="235.03" width="9.7" height="5.52" fill="#8c7347"/>
<rect x="1826.55" y="239.55" width="9.7" height="17.27" fill="#000a66"/>
<rect x="1826.55" y="255.82" width="9.7" height="18.17" fill="#14205c"/>
<rect x="1826.55" y="273.00" width="9.7" height="2.58" fill="#0020e0"/>
<rect x="1826.55" y="274.58" width="9.7" height="5.07" fill="#874d74"/>
<rect x="1826.55" y="278.65" width="9.7" height="3.26" fill="#5c2d63"/>
<rect x="1826.55" y="280.91" width="9.7" height="4.29" fill="#757575"/>
<rect x="1837.62" y="93.80" width="9.7" height="95.91" fill="#001a5c"/>
<rect x="1837.62" y="188.71" width="9.7" height="6.65" fill="#232323"/>
<rect x="1837.62" y="194.36" width="9.7" height="16.82" fill="#2f3566"/>
<rect x="1837.62" y="210.18" width="9.7" height="20.89" fill="#003300"/>
<rect x="1837.62" y="230.06" width="9.7" height="26.31" fill="#000a66"/>
<rect x="1837.62" y="255.37" width="9.7" height="20.89" fill="#14205c"/>
<rect x="1837.62" y="275.26" width="9.7" height="5.97" fill="#0020e0"/>
<rect x="1837.62" y="280.23" width="9.7" height="2.81" fill="#874d74"/>
<rect x="1837.62" y="282.04" width="9.7" height="3.16" fill="#757575"/>
<rect x="1848.69" y="93.80" width="9.7" height="96.36" fill="#001a5c"/>
<rect x="1848.69" y="189.16" width="9.7" height="10.04" fill="#232323"/>
<rect x="1848.69" y="198.20" width="9.7" height="32.86" fill="#2f3566"/>
<rect x="1848.69" y="230.06" width="9.7" height="7.10" fill="#003300"/>
<rect x="1848.69" y="236.16" width="9.7" height="3.94" fill="#8c7347"/>
<rect x="1848.69" y="239.10" width="9.7" height="17.27" fill="#000a66"/>
<rect x="1848.69" y="255.37" width="9.7" height="7.78" fill="#00474d"/>
<rect x="1848.69" y="262.15" width="9.7" height="17.50" fill="#14205c"/>
<rect x="1848.69" y="278.65" width="9.7" height="4.16" fill="#874d74"/>
<rect x="1848.69" y="281.81" width="9.7" height="3.39" fill="#757575"/>
<rect x="1859.76" y="93.80" width="9.7" height="36.70" fill="#001a5c"/>
<rect x="1859.76" y="129.50" width="9.7" height="13.20" fill="#232323"/>
<rect x="1859.76" y="141.71" width="9.7" height="13.43" fill="#2f3566"/>
<rect x="1859.76" y="154.14" width="9.7" height="38.96" fill="#003300"/>
<rect x="1859.76" y="192.10" width="9.7" height="26.31" fill="#000a66"/>
<rect x="1859.76" y="217.41" width="9.7" height="14.11" fill="#00474d"/>
<rect x="1859.76" y="230.51" width="9.7" height="9.59" fill="#2f3566"/>
<rect x="1859.76" y="239.10" width="9.7" height="28.57" fill="#14205c"/>
<rect x="1859.76" y="266.67" width="9.7" height="10.49" fill="#9195c2"/>
<rect x="1859.76" y="276.16" width="9.7" height="4.39" fill="#874d74"/>
<rect x="1859.76" y="279.55" width="9.7" height="5.65" fill="#757575"/>
<rect x="1870.83" y="93.80" width="9.7" height="47.32" fill="#001a5c"/>
<rect x="1870.83" y="140.12" width="9.7" height="15.69" fill="#232323"/>
<rect x="1870.83" y="154.81" width="9.7" height="18.40" fill="#2f3566"/>
<rect x="1870.83" y="172.21" width="9.7" height="24.28" fill="#003300"/>
<rect x="1870.83" y="195.49" width="9.7" height="7.78" fill="#8c7347"/>
<rect x="1870.83" y="202.27" width="9.7" height="27.44" fill="#000a66"/>
<rect x="1870.83" y="228.71" width="9.7" height="34.44" fill="#2f3566"/>
<rect x="1870.83" y="262.15" width="9.7" height="6.65" fill="#874d74"/>
<rect x="1870.83" y="267.80" width="9.7" height="5.97" fill="#0020e0"/>
<rect x="1870.83" y="272.77" width="9.7" height="10.04" fill="#515785"/>
<rect x="1870.83" y="281.81" width="9.7" height="2.81" fill="#5c2d63"/>
<rect x="1870.83" y="283.62" width="9.7" height="1.58" fill="#757575"/>
<rect x="1881.90" y="93.80" width="9.7" height="42.81" fill="#001a5c"/>
<rect x="1881.90" y="135.61" width="9.7" height="5.52" fill="#232323"/>
<rect x="1881.90" y="140.12" width="9.7" height="14.56" fill="#2f3566"/>
<rect x="1881.90" y="153.68" width="9.7" height="5.52" fill="#003300"/>
<rect x="1881.90" y="158.20" width="9.7" height="87.32" fill="#000a66"/>
<rect x="1881.90" y="244.52" width="9.7" height="17.50" fill="#14205c"/>
<rect x="1881.90" y="261.02" width="9.7" height="9.59" fill="#0020e0"/>
<rect x="1881.90" y="269.61" width="9.7" height="11.62" fill="#14205c"/>
<rect x="1881.90" y="280.23" width="9.7" height="4.97" fill="#757575"/>
<text x="1175.80" y="99.20" font-size="14.4" fill="#757575" text-anchor="end" >1.00</text>
<line x1="1179.60" y1="93.80" x2="1183.70" y2="93.80" stroke="#aaa" stroke-width="0.8" />
<text x="1175.80" y="147.05" font-size="14.4" fill="#757575" text-anchor="end" >0.75</text>
<line x1="1179.60" y1="141.65" x2="1183.70" y2="141.65" stroke="#aaa" stroke-width="0.8" />
<text x="1175.80" y="194.90" font-size="14.4" fill="#757575" text-anchor="end" >0.50</text>
<line x1="1179.60" y1="189.50" x2="1183.70" y2="189.50" stroke="#aaa" stroke-width="0.8" />
<text x="1175.80" y="242.75" font-size="14.4" fill="#757575" text-anchor="end" >0.25</text>
<line x1="1179.60" y1="237.35" x2="1183.70" y2="237.35" stroke="#aaa" stroke-width="0.8" />
<text x="1175.80" y="290.60" font-size="14.4" fill="#757575" text-anchor="end" >0.00</text>
<line x1="1179.60" y1="285.20" x2="1183.70" y2="285.20" stroke="#aaa" stroke-width="0.8" />
<rect x="1183.70" y="304.70" width="112.30" height="209.70" fill="#fff" />
<line x1="1183.70" y1="313.70" x2="1296.00" y2="313.70" stroke="#e4e4e4" stroke-width="0.8" />
<line x1="1183.70" y1="361.60" x2="1296.00" y2="361.60" stroke="#e4e4e4" stroke-width="0.8" />
<line x1="1183.70" y1="409.50" x2="1296.00" y2="409.50" stroke="#e4e4e4" stroke-width="0.8" />
<line x1="1183.70" y1="457.40" x2="1296.00" y2="457.40" stroke="#e4e4e4" stroke-width="0.8" />
<line x1="1183.70" y1="505.30" x2="1296.00" y2="505.30" stroke="#e4e4e4" stroke-width="0.8" />
<line x1="1190.15" y1="304.70" x2="1190.15" y2="514.40" stroke="#e4e4e4" stroke-width="0.8" />
<line x1="1201.22" y1="304.70" x2="1201.22" y2="514.40" stroke="#e4e4e4" stroke-width="0.8" />
<line x1="1212.29" y1="304.70" x2="1212.29" y2="514.40" stroke="#e4e4e4" stroke-width="0.8" />
<line x1="1223.36" y1="304.70" x2="1223.36" y2="514.40" stroke="#e4e4e4" stroke-width="0.8" />
<line x1="1234.43" y1="304.70" x2="1234.43" y2="514.40" stroke="#e4e4e4" stroke-width="0.8" />
<line x1="1245.50" y1="304.70" x2="1245.50" y2="514.40" stroke="#e4e4e4" stroke-width="0.8" />
<line x1="1256.57" y1="304.70" x2="1256.57" y2="514.40" stroke="#e4e4e4" stroke-width="0.8" />
<line x1="1267.64" y1="304.70" x2="1267.64" y2="514.40" stroke="#e4e4e4" stroke-width="0.8" />
<line x1="1278.71" y1="304.70" x2="1278.71" y2="514.40" stroke="#e4e4e4" stroke-width="0.8" />
<line x1="1289.78" y1="304.70" x2="1289.78" y2="514.40" stroke="#e4e4e4" stroke-width="0.8" />
<path d="M1183.70,304.70 V514.40 H1296.00 V304.70" fill="none" stroke="#c6c6c6" stroke-width="1.1"/>
<line x1="1183.70" y1="304.70" x2="1296.00" y2="304.70" stroke="#cacaca" stroke-width="1" />
<rect x="1185.30" y="313.70" width="9.7" height="7.11" fill="#001a5c"/>
<rect x="1185.30" y="319.81" width="9.7" height="52.58" fill="#000a66"/>
<rect x="1185.30" y="371.38" width="9.7" height="4.39" fill="#2f3566"/>
<rect x="1185.30" y="374.78" width="9.7" height="3.26" fill="#00335c"/>
<rect x="1185.30" y="377.04" width="9.7" height="6.20" fill="#0020e0"/>
<rect x="1185.30" y="382.24" width="9.7" height="13.44" fill="#939f6f"/>
<rect x="1185.30" y="394.68" width="9.7" height="82.21" fill="#855c40"/>
<rect x="1185.30" y="475.89" width="9.7" height="19.78" fill="#874d74"/>
<rect x="1185.30" y="494.67" width="9.7" height="8.92" fill="#6b4423"/>
<rect x="1185.30" y="502.59" width="9.7" height="2.71" fill="#757575"/>
<rect x="1196.37" y="313.70" width="9.7" height="28.82" fill="#232323"/>
<rect x="1196.37" y="341.52" width="9.7" height="2.13" fill="#8c7347"/>
<rect x="1196.37" y="342.65" width="9.7" height="66.60" fill="#000a66"/>
<rect x="1196.37" y="408.26" width="9.7" height="10.95" fill="#14205c"/>
<rect x="1196.37" y="418.21" width="9.7" height="2.36" fill="#7478a4"/>
<rect x="1196.37" y="419.57" width="9.7" height="7.11" fill="#0020e0"/>
<rect x="1196.37" y="425.67" width="9.7" height="39.00" fill="#855c40"/>
<rect x="1196.37" y="463.68" width="9.7" height="11.63" fill="#c0957b"/>
<rect x="1196.37" y="474.31" width="9.7" height="2.58" fill="#1a2558"/>
<rect x="1196.37" y="475.89" width="9.7" height="20.91" fill="#6b4423"/>
<rect x="1196.37" y="495.80" width="9.7" height="3.26" fill="#5c261f"/>
<rect x="1196.37" y="498.06" width="9.7" height="2.81" fill="#6b6e9c"/>
<rect x="1196.37" y="499.87" width="9.7" height="5.43" fill="#757575"/>
<rect x="1207.44" y="313.70" width="9.7" height="9.37" fill="#232323"/>
<rect x="1207.44" y="322.07" width="9.7" height="2.81" fill="#57602a"/>
<rect x="1207.44" y="323.88" width="9.7" height="3.71" fill="#8c7347"/>
<rect x="1207.44" y="326.59" width="9.7" height="65.70" fill="#000a66"/>
<rect x="1207.44" y="391.29" width="9.7" height="4.85" fill="#1a2558"/>
<rect x="1207.44" y="395.14" width="9.7" height="2.81" fill="#00474d"/>
<rect x="1207.44" y="396.95" width="9.7" height="14.57" fill="#0020e0"/>
<rect x="1207.44" y="410.52" width="9.7" height="55.29" fill="#855c40"/>
<rect x="1207.44" y="464.81" width="9.7" height="7.79" fill="#c0957b"/>
<rect x="1207.44" y="471.59" width="9.7" height="5.30" fill="#1a2558"/>
<rect x="1207.44" y="475.89" width="9.7" height="10.27" fill="#6b4423"/>
<rect x="1207.44" y="485.17" width="9.7" height="20.13" fill="#757575"/>
<rect x="1218.51" y="313.70" width="9.7" height="42.40" fill="#232323"/>
<rect x="1218.51" y="355.10" width="9.7" height="12.31" fill="#bccb9b"/>
<rect x="1218.51" y="366.41" width="9.7" height="8.69" fill="#8c7347"/>
<rect x="1218.51" y="374.10" width="9.7" height="4.39" fill="#2f3566"/>
<rect x="1218.51" y="377.49" width="9.7" height="26.56" fill="#869362"/>
<rect x="1218.51" y="403.05" width="9.7" height="7.11" fill="#0020e0"/>
<rect x="1218.51" y="409.16" width="9.7" height="11.41" fill="#939f6f"/>
<rect x="1218.51" y="419.57" width="9.7" height="5.52" fill="#874d74"/>
<rect x="1218.51" y="424.09" width="9.7" height="5.52" fill="#c0957b"/>
<rect x="1218.51" y="428.61" width="9.7" height="3.04" fill="#1a2558"/>
<rect x="1218.51" y="430.65" width="9.7" height="25.43" fill="#6b4423"/>
<rect x="1218.51" y="455.08" width="9.7" height="12.31" fill="#a0ad7a"/>
<rect x="1218.51" y="466.39" width="9.7" height="38.91" fill="#757575"/>
<rect x="1229.58" y="313.70" width="9.7" height="29.95" fill="#001a5c"/>
<rect x="1229.58" y="342.65" width="9.7" height="10.50" fill="#35806a"/>
<rect x="1229.58" y="352.16" width="9.7" height="24.75" fill="#1a2558"/>
<rect x="1229.58" y="375.91" width="9.7" height="22.94" fill="#7478a4"/>
<rect x="1229.58" y="397.85" width="9.7" height="71.13" fill="#00335c"/>
<rect x="1229.58" y="467.98" width="9.7" height="3.94" fill="#0020e0"/>
<rect x="1229.58" y="470.92" width="9.7" height="6.66" fill="#abb0dd"/>
<rect x="1229.58" y="476.57" width="9.7" height="3.26" fill="#939f6f"/>
<rect x="1229.58" y="478.83" width="9.7" height="5.07" fill="#8f6a4f"/>
<rect x="1229.58" y="482.91" width="9.7" height="2.58" fill="#1a2558"/>
<rect x="1229.58" y="484.49" width="9.7" height="20.81" fill="#757575"/>
<rect x="1240.65" y="313.70" width="9.7" height="8.92" fill="#1a2558"/>
<rect x="1240.65" y="321.62" width="9.7" height="130.39" fill="#0020e0"/>
<rect x="1240.65" y="451.01" width="9.7" height="16.38" fill="#855c40"/>
<rect x="1240.65" y="466.39" width="9.7" height="19.10" fill="#1a2558"/>
<rect x="1240.65" y="484.49" width="9.7" height="20.81" fill="#5c261f"/>
<rect x="1251.72" y="313.70" width="9.7" height="36.74" fill="#232323"/>
<rect x="1251.72" y="349.44" width="9.7" height="16.61" fill="#8c7347"/>
<rect x="1251.72" y="365.05" width="9.7" height="16.38" fill="#000a66"/>
<rect x="1251.72" y="380.43" width="9.7" height="15.70" fill="#869362"/>
<rect x="1251.72" y="395.14" width="9.7" height="11.18" fill="#7478a4"/>
<rect x="1251.72" y="405.32" width="9.7" height="3.94" fill="#00335c"/>
<rect x="1251.72" y="408.26" width="9.7" height="3.26" fill="#0020e0"/>
<rect x="1251.72" y="410.52" width="9.7" height="32.67" fill="#939f6f"/>
<rect x="1251.72" y="442.19" width="9.7" height="10.05" fill="#855c40"/>
<rect x="1251.72" y="451.24" width="9.7" height="5.98" fill="#874d74"/>
<rect x="1251.72" y="456.21" width="9.7" height="11.63" fill="#3d4700"/>
<rect x="1251.72" y="466.84" width="9.7" height="3.26" fill="#1a2558"/>
<rect x="1251.72" y="469.11" width="9.7" height="16.83" fill="#6b4423"/>
<rect x="1251.72" y="484.94" width="9.7" height="7.33" fill="#a0ad7a"/>
<rect x="1251.72" y="491.27" width="9.7" height="14.03" fill="#757575"/>
<rect x="1262.79" y="313.70" width="9.7" height="4.85" fill="#8c7347"/>
<rect x="1262.79" y="317.55" width="9.7" height="123.83" fill="#000a66"/>
<rect x="1262.79" y="440.38" width="9.7" height="13.44" fill="#14205c"/>
<rect x="1262.79" y="452.82" width="9.7" height="2.58" fill="#0020e0"/>
<rect x="1262.79" y="454.40" width="9.7" height="18.64" fill="#939f6f"/>
<rect x="1262.79" y="472.05" width="9.7" height="28.15" fill="#855c40"/>
<rect x="1262.79" y="499.19" width="9.7" height="2.81" fill="#1a2558"/>
<rect x="1262.79" y="501.00" width="9.7" height="4.30" fill="#757575"/>
<rect x="1273.86" y="313.70" width="9.7" height="6.20" fill="#8c7347"/>
<rect x="1273.86" y="318.90" width="9.7" height="79.95" fill="#000a66"/>
<rect x="1273.86" y="397.85" width="9.7" height="4.62" fill="#00474d"/>
<rect x="1273.86" y="401.47" width="9.7" height="4.85" fill="#0020e0"/>
<rect x="1273.86" y="405.32" width="9.7" height="7.79" fill="#939f6f"/>
<rect x="1273.86" y="412.10" width="9.7" height="64.34" fill="#855c40"/>
<rect x="1273.86" y="475.44" width="9.7" height="3.26" fill="#3d4700"/>
<rect x="1273.86" y="477.70" width="9.7" height="6.20" fill="#1a2558"/>
<rect x="1273.86" y="482.91" width="9.7" height="6.43" fill="#6b4423"/>
<rect x="1273.86" y="488.33" width="9.7" height="2.36" fill="#939f6f"/>
<rect x="1273.86" y="489.69" width="9.7" height="15.61" fill="#757575"/>
<rect x="1284.93" y="313.70" width="9.7" height="13.89" fill="#232323"/>
<rect x="1284.93" y="326.59" width="9.7" height="3.49" fill="#8c7347"/>
<rect x="1284.93" y="329.08" width="9.7" height="19.10" fill="#000a66"/>
<rect x="1284.93" y="347.18" width="9.7" height="3.71" fill="#939f6f"/>
<rect x="1284.93" y="349.89" width="9.7" height="12.99" fill="#ffd3bc"/>
<rect x="1284.93" y="361.88" width="9.7" height="6.66" fill="#00335c"/>
<rect x="1284.93" y="367.54" width="9.7" height="3.26" fill="#0020e0"/>
<rect x="1284.93" y="369.80" width="9.7" height="8.69" fill="#939f6f"/>
<rect x="1284.93" y="377.49" width="9.7" height="79.04" fill="#855c40"/>
<rect x="1284.93" y="455.53" width="9.7" height="2.81" fill="#c0957b"/>
<rect x="1284.93" y="457.34" width="9.7" height="3.26" fill="#3d4700"/>
<rect x="1284.93" y="459.61" width="9.7" height="3.71" fill="#5c261f"/>
<rect x="1284.93" y="462.32" width="9.7" height="2.81" fill="#939f6f"/>
<rect x="1284.93" y="464.13" width="9.7" height="41.17" fill="#757575"/>
<line x1="1190.15" y1="514.40" x2="1190.15" y2="519.80" stroke="#bbb" stroke-width="1" />
<text transform="translate(1198.15,525.40) rotate(-73)" font-size="11.4" fill="#666" text-anchor="end" >K1</text>
<line x1="1201.22" y1="514.40" x2="1201.22" y2="519.80" stroke="#bbb" stroke-width="1" />
<text transform="translate(1209.22,525.40) rotate(-73)" font-size="11.4" fill="#666" text-anchor="end" >K10</text>
<line x1="1212.29" y1="514.40" x2="1212.29" y2="519.80" stroke="#bbb" stroke-width="1" />
<text transform="translate(1220.29,525.40) rotate(-73)" font-size="11.4" fill="#666" text-anchor="end" >K11</text>
<line x1="1223.36" y1="514.40" x2="1223.36" y2="519.80" stroke="#bbb" stroke-width="1" />
<text transform="translate(1231.36,525.40) rotate(-73)" font-size="11.4" fill="#666" text-anchor="end" >K2</text>
<line x1="1234.43" y1="514.40" x2="1234.43" y2="519.80" stroke="#bbb" stroke-width="1" />
<text transform="translate(1242.43,525.40) rotate(-73)" font-size="11.4" fill="#666" text-anchor="end" >K3</text>
<line x1="1245.50" y1="514.40" x2="1245.50" y2="519.80" stroke="#bbb" stroke-width="1" />
<text transform="translate(1253.50,525.40) rotate(-73)" font-size="11.4" fill="#666" text-anchor="end" >K4</text>
<line x1="1256.57" y1="514.40" x2="1256.57" y2="519.80" stroke="#bbb" stroke-width="1" />
<text transform="translate(1264.57,525.40) rotate(-73)" font-size="11.4" fill="#666" text-anchor="end" >K6</text>
<line x1="1267.64" y1="514.40" x2="1267.64" y2="519.80" stroke="#bbb" stroke-width="1" />
<text transform="translate(1275.64,525.40) rotate(-73)" font-size="11.4" fill="#666" text-anchor="end" >K7</text>
<line x1="1278.71" y1="514.40" x2="1278.71" y2="519.80" stroke="#bbb" stroke-width="1" />
<text transform="translate(1286.71,525.40) rotate(-73)" font-size="11.4" fill="#666" text-anchor="end" >K8</text>
<line x1="1289.78" y1="514.40" x2="1289.78" y2="519.80" stroke="#bbb" stroke-width="1" />
<text transform="translate(1297.78,525.40) rotate(-73)" font-size="11.4" fill="#666" text-anchor="end" >K9</text>
<rect x="1305.30" y="304.70" width="101.70" height="209.70" fill="#fff" />
<line x1="1305.30" y1="313.70" x2="1407.00" y2="313.70" stroke="#e4e4e4" stroke-width="0.8" />
<line x1="1305.30" y1="361.60" x2="1407.00" y2="361.60" stroke="#e4e4e4" stroke-width="0.8" />
<line x1="1305.30" y1="409.50" x2="1407.00" y2="409.50" stroke="#e4e4e4" stroke-width="0.8" />
<line x1="1305.30" y1="457.40" x2="1407.00" y2="457.40" stroke="#e4e4e4" stroke-width="0.8" />
<line x1="1305.30" y1="505.30" x2="1407.00" y2="505.30" stroke="#e4e4e4" stroke-width="0.8" />
<line x1="1311.85" y1="304.70" x2="1311.85" y2="514.40" stroke="#e4e4e4" stroke-width="0.8" />
<line x1="1322.92" y1="304.70" x2="1322.92" y2="514.40" stroke="#e4e4e4" stroke-width="0.8" />
<line x1="1333.99" y1="304.70" x2="1333.99" y2="514.40" stroke="#e4e4e4" stroke-width="0.8" />
<line x1="1345.06" y1="304.70" x2="1345.06" y2="514.40" stroke="#e4e4e4" stroke-width="0.8" />
<line x1="1356.13" y1="304.70" x2="1356.13" y2="514.40" stroke="#e4e4e4" stroke-width="0.8" />
<line x1="1367.20" y1="304.70" x2="1367.20" y2="514.40" stroke="#e4e4e4" stroke-width="0.8" />
<line x1="1378.27" y1="304.70" x2="1378.27" y2="514.40" stroke="#e4e4e4" stroke-width="0.8" />
<line x1="1389.34" y1="304.70" x2="1389.34" y2="514.40" stroke="#e4e4e4" stroke-width="0.8" />
<line x1="1400.41" y1="304.70" x2="1400.41" y2="514.40" stroke="#e4e4e4" stroke-width="0.8" />
<path d="M1305.30,304.70 V514.40 H1407.00 V304.70" fill="none" stroke="#c6c6c6" stroke-width="1.1"/>
<line x1="1305.30" y1="304.70" x2="1407.00" y2="304.70" stroke="#cacaca" stroke-width="1" />
<rect x="1307.00" y="313.70" width="9.7" height="9.60" fill="#001a5c"/>
<rect x="1307.00" y="322.30" width="9.7" height="44.88" fill="#232323"/>
<rect x="1307.00" y="366.18" width="9.7" height="2.81" fill="#8c7347"/>
<rect x="1307.00" y="367.99" width="9.7" height="92.16" fill="#000a66"/>
<rect x="1307.00" y="459.15" width="9.7" height="14.57" fill="#14205c"/>
<rect x="1307.00" y="472.73" width="9.7" height="3.71" fill="#874d74"/>
<rect x="1307.00" y="475.44" width="9.7" height="3.71" fill="#0020e0"/>
<rect x="1307.00" y="478.15" width="9.7" height="3.94" fill="#939f6f"/>
<rect x="1307.00" y="481.10" width="9.7" height="3.26" fill="#00544a"/>
<rect x="1307.00" y="483.36" width="9.7" height="11.63" fill="#3d4700"/>
<rect x="1307.00" y="493.99" width="9.7" height="6.20" fill="#a0ad7a"/>
<rect x="1307.00" y="499.19" width="9.7" height="6.11" fill="#757575"/>
<rect x="1318.07" y="313.70" width="9.7" height="7.33" fill="#8c7347"/>
<rect x="1318.07" y="320.03" width="9.7" height="157.09" fill="#000a66"/>
<rect x="1318.07" y="476.12" width="9.7" height="9.82" fill="#874d74"/>
<rect x="1318.07" y="484.94" width="9.7" height="10.73" fill="#00544a"/>
<rect x="1318.07" y="494.67" width="9.7" height="4.39" fill="#1a2558"/>
<rect x="1318.07" y="498.06" width="9.7" height="2.81" fill="#6fa8bd"/>
<rect x="1318.07" y="499.87" width="9.7" height="5.43" fill="#757575"/>
<rect x="1329.14" y="313.70" width="9.7" height="53.71" fill="#232323"/>
<rect x="1329.14" y="366.41" width="9.7" height="30.18" fill="#8c7347"/>
<rect x="1329.14" y="395.59" width="9.7" height="49.64" fill="#7478a4"/>
<rect x="1329.14" y="444.22" width="9.7" height="18.64" fill="#00335c"/>
<rect x="1329.14" y="461.87" width="9.7" height="17.29" fill="#00544a"/>
<rect x="1329.14" y="478.15" width="9.7" height="9.14" fill="#855c40"/>
<rect x="1329.14" y="486.30" width="9.7" height="8.69" fill="#6fa8bd"/>
<rect x="1329.14" y="493.99" width="9.7" height="11.31" fill="#757575"/>
<rect x="1340.21" y="313.70" width="9.7" height="16.38" fill="#8c7347"/>
<rect x="1340.21" y="329.08" width="9.7" height="4.85" fill="#57602a"/>
<rect x="1340.21" y="332.93" width="9.7" height="5.52" fill="#00335c"/>
<rect x="1340.21" y="337.45" width="9.7" height="7.33" fill="#0020e0"/>
<rect x="1340.21" y="343.79" width="9.7" height="49.64" fill="#939f6f"/>
<rect x="1340.21" y="392.42" width="9.7" height="13.89" fill="#00544a"/>
<rect x="1340.21" y="405.32" width="9.7" height="34.93" fill="#855c40"/>
<rect x="1340.21" y="439.25" width="9.7" height="5.52" fill="#3d4700"/>
<rect x="1340.21" y="443.77" width="9.7" height="3.71" fill="#6fa8bd"/>
<rect x="1340.21" y="446.49" width="9.7" height="18.19" fill="#6b4423"/>
<rect x="1340.21" y="463.68" width="9.7" height="7.11" fill="#a0ad7a"/>
<rect x="1340.21" y="469.79" width="9.7" height="35.51" fill="#757575"/>
<rect x="1351.28" y="313.70" width="9.7" height="2.58" fill="#3d4700"/>
<rect x="1351.28" y="315.28" width="9.7" height="8.46" fill="#8c7347"/>
<rect x="1351.28" y="322.75" width="9.7" height="136.27" fill="#000a66"/>
<rect x="1351.28" y="458.02" width="9.7" height="28.15" fill="#0020e0"/>
<rect x="1351.28" y="485.17" width="9.7" height="10.05" fill="#1a2558"/>
<rect x="1351.28" y="494.22" width="9.7" height="11.08" fill="#757575"/>
<rect x="1362.35" y="313.70" width="9.7" height="140.57" fill="#000a66"/>
<rect x="1362.35" y="453.27" width="9.7" height="32.22" fill="#14205c"/>
<rect x="1362.35" y="484.49" width="9.7" height="20.81" fill="#0020e0"/>
<rect x="1373.42" y="313.70" width="9.7" height="26.34" fill="#a890c4"/>
<rect x="1373.42" y="339.04" width="9.7" height="11.41" fill="#9b7455"/>
<rect x="1373.42" y="349.44" width="9.7" height="10.50" fill="#8c7347"/>
<rect x="1373.42" y="358.94" width="9.7" height="53.03" fill="#000a66"/>
<rect x="1373.42" y="410.97" width="9.7" height="7.33" fill="#874d74"/>
<rect x="1373.42" y="417.30" width="9.7" height="22.26" fill="#869362"/>
<rect x="1373.42" y="438.57" width="9.7" height="3.49" fill="#7478a4"/>
<rect x="1373.42" y="441.06" width="9.7" height="7.11" fill="#006b66"/>
<rect x="1373.42" y="447.16" width="9.7" height="22.49" fill="#3d4700"/>
<rect x="1373.42" y="468.65" width="9.7" height="8.92" fill="#1a2558"/>
<rect x="1373.42" y="476.57" width="9.7" height="11.18" fill="#a0ad7a"/>
<rect x="1373.42" y="486.75" width="9.7" height="18.55" fill="#757575"/>
<rect x="1384.49" y="313.70" width="9.7" height="4.85" fill="#001a5c"/>
<rect x="1384.49" y="317.55" width="9.7" height="48.05" fill="#232323"/>
<rect x="1384.49" y="364.60" width="9.7" height="6.66" fill="#003300"/>
<rect x="1384.49" y="370.25" width="9.7" height="12.99" fill="#8c7347"/>
<rect x="1384.49" y="382.24" width="9.7" height="21.36" fill="#14205c"/>
<rect x="1384.49" y="402.60" width="9.7" height="4.85" fill="#57602a"/>
<rect x="1384.49" y="406.45" width="9.7" height="8.24" fill="#0020e0"/>
<rect x="1384.49" y="413.68" width="9.7" height="43.53" fill="#939f6f"/>
<rect x="1384.49" y="456.21" width="9.7" height="2.58" fill="#00544a"/>
<rect x="1384.49" y="457.80" width="9.7" height="3.26" fill="#8f6a4f"/>
<rect x="1384.49" y="460.06" width="9.7" height="19.32" fill="#c0957b"/>
<rect x="1384.49" y="478.38" width="9.7" height="8.92" fill="#3d4700"/>
<rect x="1384.49" y="486.30" width="9.7" height="5.98" fill="#6b4423"/>
<rect x="1384.49" y="491.27" width="9.7" height="5.98" fill="#a0ad7a"/>
<rect x="1384.49" y="496.25" width="9.7" height="3.94" fill="#5c2d63"/>
<rect x="1384.49" y="499.19" width="9.7" height="6.11" fill="#757575"/>
<rect x="1395.56" y="313.70" width="9.7" height="15.25" fill="#001a5c"/>
<rect x="1395.56" y="327.95" width="9.7" height="3.71" fill="#003300"/>
<rect x="1395.56" y="330.67" width="9.7" height="6.66" fill="#8c7347"/>
<rect x="1395.56" y="336.32" width="9.7" height="129.49" fill="#000a66"/>
<rect x="1395.56" y="464.81" width="9.7" height="21.36" fill="#14205c"/>
<rect x="1395.56" y="485.17" width="9.7" height="3.71" fill="#3d4700"/>
<rect x="1395.56" y="487.88" width="9.7" height="13.89" fill="#1a2558"/>
<rect x="1395.56" y="500.78" width="9.7" height="3.94" fill="#a0ad7a"/>
<rect x="1395.56" y="503.72" width="9.7" height="1.58" fill="#757575"/>
<line x1="1311.85" y1="514.40" x2="1311.85" y2="519.80" stroke="#bbb" stroke-width="1" />
<text transform="translate(1319.85,525.40) rotate(-73)" font-size="11.4" fill="#666" text-anchor="end" >MP10</text>
<line x1="1322.92" y1="514.40" x2="1322.92" y2="519.80" stroke="#bbb" stroke-width="1" />
<text transform="translate(1330.92,525.40) rotate(-73)" font-size="11.4" fill="#666" text-anchor="end" >MP11</text>
<line x1="1333.99" y1="514.40" x2="1333.99" y2="519.80" stroke="#bbb" stroke-width="1" />
<text transform="translate(1341.99,525.40) rotate(-73)" font-size="11.4" fill="#666" text-anchor="end" >MP3</text>
<line x1="1345.06" y1="514.40" x2="1345.06" y2="519.80" stroke="#bbb" stroke-width="1" />
<text transform="translate(1353.06,525.40) rotate(-73)" font-size="11.4" fill="#666" text-anchor="end" >MP4</text>
<line x1="1356.13" y1="514.40" x2="1356.13" y2="519.80" stroke="#bbb" stroke-width="1" />
<text transform="translate(1364.13,525.40) rotate(-73)" font-size="11.4" fill="#666" text-anchor="end" >MP5</text>
<line x1="1367.20" y1="514.40" x2="1367.20" y2="519.80" stroke="#bbb" stroke-width="1" />
<text transform="translate(1375.20,525.40) rotate(-73)" font-size="11.4" fill="#666" text-anchor="end" >MP6</text>
<line x1="1378.27" y1="514.40" x2="1378.27" y2="519.80" stroke="#bbb" stroke-width="1" />
<text transform="translate(1386.27,525.40) rotate(-73)" font-size="11.4" fill="#666" text-anchor="end" >MP7</text>
<line x1="1389.34" y1="514.40" x2="1389.34" y2="519.80" stroke="#bbb" stroke-width="1" />
<text transform="translate(1397.34,525.40) rotate(-73)" font-size="11.4" fill="#666" text-anchor="end" >MP8</text>
<line x1="1400.41" y1="514.40" x2="1400.41" y2="519.80" stroke="#bbb" stroke-width="1" />
<text transform="translate(1408.41,525.40) rotate(-73)" font-size="11.4" fill="#666" text-anchor="end" >MP9</text>
<rect x="1416.30" y="304.70" width="90.10" height="209.70" fill="#fff" />
<line x1="1416.30" y1="313.70" x2="1506.40" y2="313.70" stroke="#e4e4e4" stroke-width="0.8" />
<line x1="1416.30" y1="361.60" x2="1506.40" y2="361.60" stroke="#e4e4e4" stroke-width="0.8" />
<line x1="1416.30" y1="409.50" x2="1506.40" y2="409.50" stroke="#e4e4e4" stroke-width="0.8" />
<line x1="1416.30" y1="457.40" x2="1506.40" y2="457.40" stroke="#e4e4e4" stroke-width="0.8" />
<line x1="1416.30" y1="505.30" x2="1506.40" y2="505.30" stroke="#e4e4e4" stroke-width="0.8" />
<line x1="1422.65" y1="304.70" x2="1422.65" y2="514.40" stroke="#e4e4e4" stroke-width="0.8" />
<line x1="1433.72" y1="304.70" x2="1433.72" y2="514.40" stroke="#e4e4e4" stroke-width="0.8" />
<line x1="1444.79" y1="304.70" x2="1444.79" y2="514.40" stroke="#e4e4e4" stroke-width="0.8" />
<line x1="1455.86" y1="304.70" x2="1455.86" y2="514.40" stroke="#e4e4e4" stroke-width="0.8" />
<line x1="1466.93" y1="304.70" x2="1466.93" y2="514.40" stroke="#e4e4e4" stroke-width="0.8" />
<line x1="1478.00" y1="304.70" x2="1478.00" y2="514.40" stroke="#e4e4e4" stroke-width="0.8" />
<line x1="1489.07" y1="304.70" x2="1489.07" y2="514.40" stroke="#e4e4e4" stroke-width="0.8" />
<line x1="1500.14" y1="304.70" x2="1500.14" y2="514.40" stroke="#e4e4e4" stroke-width="0.8" />
<path d="M1416.30,304.70 V514.40 H1506.40 V304.70" fill="none" stroke="#c6c6c6" stroke-width="1.1"/>
<line x1="1416.30" y1="304.70" x2="1506.40" y2="304.70" stroke="#cacaca" stroke-width="1" />
<rect x="1417.80" y="313.70" width="9.7" height="55.74" fill="#001a5c"/>
<rect x="1417.80" y="368.44" width="9.7" height="41.72" fill="#232323"/>
<rect x="1417.80" y="409.16" width="9.7" height="18.64" fill="#2f3566"/>
<rect x="1417.80" y="426.81" width="9.7" height="5.98" fill="#003300"/>
<rect x="1417.80" y="431.78" width="9.7" height="10.27" fill="#2f3566"/>
<rect x="1417.80" y="441.06" width="9.7" height="46.24" fill="#874d74"/>
<rect x="1417.80" y="486.30" width="9.7" height="19.00" fill="#757575"/>
<rect x="1428.87" y="313.70" width="9.7" height="10.73" fill="#001a5c"/>
<rect x="1428.87" y="323.43" width="9.7" height="10.95" fill="#232323"/>
<rect x="1428.87" y="333.38" width="9.7" height="9.14" fill="#003300"/>
<rect x="1428.87" y="341.52" width="9.7" height="16.16" fill="#000a66"/>
<rect x="1428.87" y="356.68" width="9.7" height="3.26" fill="#00474d"/>
<rect x="1428.87" y="358.94" width="9.7" height="123.15" fill="#2f3566"/>
<rect x="1428.87" y="481.10" width="9.7" height="24.20" fill="#14205c"/>
<rect x="1439.94" y="313.70" width="9.7" height="78.59" fill="#001a5c"/>
<rect x="1439.94" y="391.29" width="9.7" height="7.79" fill="#232323"/>
<rect x="1439.94" y="398.08" width="9.7" height="8.24" fill="#2f3566"/>
<rect x="1439.94" y="405.32" width="9.7" height="5.98" fill="#003300"/>
<rect x="1439.94" y="410.29" width="9.7" height="19.10" fill="#000a66"/>
<rect x="1439.94" y="428.39" width="9.7" height="3.26" fill="#00474d"/>
<rect x="1439.94" y="430.65" width="9.7" height="32.22" fill="#14205c"/>
<rect x="1439.94" y="461.87" width="9.7" height="8.92" fill="#874d74"/>
<rect x="1439.94" y="469.79" width="9.7" height="10.73" fill="#c0957b"/>
<rect x="1439.94" y="479.51" width="9.7" height="6.43" fill="#6b6e9c"/>
<rect x="1439.94" y="484.94" width="9.7" height="4.39" fill="#6b4423"/>
<rect x="1439.94" y="488.33" width="9.7" height="2.81" fill="#5c2d63"/>
<rect x="1439.94" y="490.14" width="9.7" height="15.16" fill="#757575"/>
<rect x="1451.01" y="313.70" width="9.7" height="60.95" fill="#001a5c"/>
<rect x="1451.01" y="373.65" width="9.7" height="5.98" fill="#2f3566"/>
<rect x="1451.01" y="378.62" width="9.7" height="9.60" fill="#003300"/>
<rect x="1451.01" y="387.22" width="9.7" height="26.56" fill="#00474d"/>
<rect x="1451.01" y="412.78" width="9.7" height="16.16" fill="#2f3566"/>
<rect x="1451.01" y="427.94" width="9.7" height="59.14" fill="#14205c"/>
<rect x="1451.01" y="486.07" width="9.7" height="6.66" fill="#874d74"/>
<rect x="1451.01" y="491.73" width="9.7" height="2.81" fill="#6b6e9c"/>
<rect x="1451.01" y="493.54" width="9.7" height="11.76" fill="#757575"/>
<rect x="1462.08" y="313.70" width="9.7" height="83.11" fill="#001a5c"/>
<rect x="1462.08" y="395.81" width="9.7" height="33.57" fill="#232323"/>
<rect x="1462.08" y="428.39" width="9.7" height="4.62" fill="#2f3566"/>
<rect x="1462.08" y="432.01" width="9.7" height="3.71" fill="#003300"/>
<rect x="1462.08" y="434.72" width="9.7" height="3.71" fill="#00474d"/>
<rect x="1462.08" y="437.44" width="9.7" height="44.66" fill="#14205c"/>
<rect x="1462.08" y="481.10" width="9.7" height="7.79" fill="#874d74"/>
<rect x="1462.08" y="487.88" width="9.7" height="2.58" fill="#c0957b"/>
<rect x="1462.08" y="489.47" width="9.7" height="4.62" fill="#6b6e9c"/>
<rect x="1462.08" y="493.08" width="9.7" height="12.22" fill="#757575"/>
<rect x="1473.15" y="313.70" width="9.7" height="15.25" fill="#001a5c"/>
<rect x="1473.15" y="327.95" width="9.7" height="49.41" fill="#232323"/>
<rect x="1473.15" y="376.36" width="9.7" height="16.38" fill="#2f3566"/>
<rect x="1473.15" y="391.74" width="9.7" height="12.31" fill="#003300"/>
<rect x="1473.15" y="403.05" width="9.7" height="3.94" fill="#00474d"/>
<rect x="1473.15" y="405.99" width="9.7" height="52.35" fill="#14205c"/>
<rect x="1473.15" y="457.34" width="9.7" height="22.94" fill="#874d74"/>
<rect x="1473.15" y="479.29" width="9.7" height="6.20" fill="#c0957b"/>
<rect x="1473.15" y="484.49" width="9.7" height="3.71" fill="#5c2d63"/>
<rect x="1473.15" y="487.20" width="9.7" height="18.10" fill="#757575"/>
<rect x="1484.22" y="313.70" width="9.7" height="17.29" fill="#b3b9e3"/>
<rect x="1484.22" y="329.99" width="9.7" height="20.91" fill="#001a5c"/>
<rect x="1484.22" y="349.89" width="9.7" height="3.71" fill="#232323"/>
<rect x="1484.22" y="352.61" width="9.7" height="3.49" fill="#2f3566"/>
<rect x="1484.22" y="355.10" width="9.7" height="16.61" fill="#003300"/>
<rect x="1484.22" y="370.70" width="9.7" height="20.23" fill="#000a66"/>
<rect x="1484.22" y="389.93" width="9.7" height="6.88" fill="#00474d"/>
<rect x="1484.22" y="395.81" width="9.7" height="48.28" fill="#2f3566"/>
<rect x="1484.22" y="443.09" width="9.7" height="45.34" fill="#14205c"/>
<rect x="1484.22" y="487.43" width="9.7" height="3.71" fill="#874d74"/>
<rect x="1484.22" y="490.14" width="9.7" height="7.79" fill="#c0957b"/>
<rect x="1484.22" y="496.93" width="9.7" height="6.20" fill="#6b6e9c"/>
<rect x="1484.22" y="502.13" width="9.7" height="2.58" fill="#6b4423"/>
<rect x="1484.22" y="503.72" width="9.7" height="1.58" fill="#757575"/>
<rect x="1495.29" y="313.70" width="9.7" height="16.38" fill="#001a5c"/>
<rect x="1495.29" y="329.08" width="9.7" height="61.40" fill="#232323"/>
<rect x="1495.29" y="389.48" width="9.7" height="15.25" fill="#2f3566"/>
<rect x="1495.29" y="403.73" width="9.7" height="3.71" fill="#003300"/>
<rect x="1495.29" y="406.45" width="9.7" height="13.44" fill="#000a66"/>
<rect x="1495.29" y="418.89" width="9.7" height="4.39" fill="#00474d"/>
<rect x="1495.29" y="422.28" width="9.7" height="32.22" fill="#14205c"/>
<rect x="1495.29" y="453.50" width="9.7" height="24.53" fill="#874d74"/>
<rect x="1495.29" y="477.02" width="9.7" height="2.81" fill="#c0957b"/>
<rect x="1495.29" y="478.83" width="9.7" height="4.39" fill="#6b6e9c"/>
<rect x="1495.29" y="482.23" width="9.7" height="3.94" fill="#6b4423"/>
<rect x="1495.29" y="485.17" width="9.7" height="20.13" fill="#757575"/>
<line x1="1422.65" y1="514.40" x2="1422.65" y2="519.80" stroke="#bbb" stroke-width="1" />
<text transform="translate(1430.65,525.40) rotate(-73)" font-size="11.4" fill="#666" text-anchor="end" >K1</text>
<line x1="1433.72" y1="514.40" x2="1433.72" y2="519.80" stroke="#bbb" stroke-width="1" />
<text transform="translate(1441.72,525.40) rotate(-73)" font-size="11.4" fill="#666" text-anchor="end" >K10</text>
<line x1="1444.79" y1="514.40" x2="1444.79" y2="519.80" stroke="#bbb" stroke-width="1" />
<text transform="translate(1452.79,525.40) rotate(-73)" font-size="11.4" fill="#666" text-anchor="end" >K11</text>
<line x1="1455.86" y1="514.40" x2="1455.86" y2="519.80" stroke="#bbb" stroke-width="1" />
<text transform="translate(1463.86,525.40) rotate(-73)" font-size="11.4" fill="#666" text-anchor="end" >K5</text>
<line x1="1466.93" y1="514.40" x2="1466.93" y2="519.80" stroke="#bbb" stroke-width="1" />
<text transform="translate(1474.93,525.40) rotate(-73)" font-size="11.4" fill="#666" text-anchor="end" >K6</text>
<line x1="1478.00" y1="514.40" x2="1478.00" y2="519.80" stroke="#bbb" stroke-width="1" />
<text transform="translate(1486.00,525.40) rotate(-73)" font-size="11.4" fill="#666" text-anchor="end" >K7</text>
<line x1="1489.07" y1="514.40" x2="1489.07" y2="519.80" stroke="#bbb" stroke-width="1" />
<text transform="translate(1497.07,525.40) rotate(-73)" font-size="11.4" fill="#666" text-anchor="end" >K8</text>
<line x1="1500.14" y1="514.40" x2="1500.14" y2="519.80" stroke="#bbb" stroke-width="1" />
<text transform="translate(1508.14,525.40) rotate(-73)" font-size="11.4" fill="#666" text-anchor="end" >K9</text>
<rect x="1515.40" y="304.70" width="112.50" height="209.70" fill="#fff" />
<line x1="1515.40" y1="313.70" x2="1627.90" y2="313.70" stroke="#e4e4e4" stroke-width="0.8" />
<line x1="1515.40" y1="361.60" x2="1627.90" y2="361.60" stroke="#e4e4e4" stroke-width="0.8" />
<line x1="1515.40" y1="409.50" x2="1627.90" y2="409.50" stroke="#e4e4e4" stroke-width="0.8" />
<line x1="1515.40" y1="457.40" x2="1627.90" y2="457.40" stroke="#e4e4e4" stroke-width="0.8" />
<line x1="1515.40" y1="505.30" x2="1627.90" y2="505.30" stroke="#e4e4e4" stroke-width="0.8" />
<line x1="1521.65" y1="304.70" x2="1521.65" y2="514.40" stroke="#e4e4e4" stroke-width="0.8" />
<line x1="1532.72" y1="304.70" x2="1532.72" y2="514.40" stroke="#e4e4e4" stroke-width="0.8" />
<line x1="1543.79" y1="304.70" x2="1543.79" y2="514.40" stroke="#e4e4e4" stroke-width="0.8" />
<line x1="1554.86" y1="304.70" x2="1554.86" y2="514.40" stroke="#e4e4e4" stroke-width="0.8" />
<line x1="1565.93" y1="304.70" x2="1565.93" y2="514.40" stroke="#e4e4e4" stroke-width="0.8" />
<line x1="1577.00" y1="304.70" x2="1577.00" y2="514.40" stroke="#e4e4e4" stroke-width="0.8" />
<line x1="1588.07" y1="304.70" x2="1588.07" y2="514.40" stroke="#e4e4e4" stroke-width="0.8" />
<line x1="1599.14" y1="304.70" x2="1599.14" y2="514.40" stroke="#e4e4e4" stroke-width="0.8" />
<line x1="1610.21" y1="304.70" x2="1610.21" y2="514.40" stroke="#e4e4e4" stroke-width="0.8" />
<line x1="1621.28" y1="304.70" x2="1621.28" y2="514.40" stroke="#e4e4e4" stroke-width="0.8" />
<path d="M1515.40,304.70 V514.40 H1627.90 V304.70" fill="none" stroke="#c6c6c6" stroke-width="1.1"/>
<line x1="1515.40" y1="304.70" x2="1627.90" y2="304.70" stroke="#cacaca" stroke-width="1" />
<rect x="1516.80" y="313.70" width="9.7" height="33.80" fill="#001a5c"/>
<rect x="1516.80" y="346.50" width="9.7" height="5.52" fill="#003300"/>
<rect x="1516.80" y="351.02" width="9.7" height="34.93" fill="#000a66"/>
<rect x="1516.80" y="384.96" width="9.7" height="17.29" fill="#2f3566"/>
<rect x="1516.80" y="401.24" width="9.7" height="85.38" fill="#14205c"/>
<rect x="1516.80" y="485.62" width="9.7" height="4.39" fill="#874d74"/>
<rect x="1516.80" y="489.01" width="9.7" height="4.39" fill="#c0957b"/>
<rect x="1516.80" y="492.41" width="9.7" height="11.18" fill="#515785"/>
<rect x="1516.80" y="502.59" width="9.7" height="2.71" fill="#5c2d63"/>
<rect x="1527.87" y="313.70" width="9.7" height="56.42" fill="#001a5c"/>
<rect x="1527.87" y="369.12" width="9.7" height="24.07" fill="#232323"/>
<rect x="1527.87" y="392.19" width="9.7" height="7.79" fill="#2f3566"/>
<rect x="1527.87" y="398.98" width="9.7" height="12.31" fill="#003300"/>
<rect x="1527.87" y="410.29" width="9.7" height="43.53" fill="#14205c"/>
<rect x="1527.87" y="452.82" width="9.7" height="17.97" fill="#874d74"/>
<rect x="1527.87" y="469.79" width="9.7" height="10.50" fill="#c0957b"/>
<rect x="1527.87" y="479.29" width="9.7" height="15.70" fill="#515785"/>
<rect x="1527.87" y="493.99" width="9.7" height="9.60" fill="#5c2d63"/>
<rect x="1527.87" y="502.59" width="9.7" height="2.71" fill="#757575"/>
<rect x="1538.94" y="313.70" width="9.7" height="49.64" fill="#001a5c"/>
<rect x="1538.94" y="362.34" width="9.7" height="25.20" fill="#232323"/>
<rect x="1538.94" y="386.54" width="9.7" height="17.97" fill="#2f3566"/>
<rect x="1538.94" y="403.51" width="9.7" height="6.20" fill="#003300"/>
<rect x="1538.94" y="408.71" width="9.7" height="36.74" fill="#000a66"/>
<rect x="1538.94" y="444.45" width="9.7" height="46.69" fill="#14205c"/>
<rect x="1538.94" y="490.14" width="9.7" height="12.31" fill="#874d74"/>
<rect x="1538.94" y="501.45" width="9.7" height="3.85" fill="#757575"/>
<rect x="1550.01" y="313.70" width="9.7" height="11.63" fill="#001a5c"/>
<rect x="1550.01" y="324.33" width="9.7" height="18.64" fill="#232323"/>
<rect x="1550.01" y="341.98" width="9.7" height="15.70" fill="#003300"/>
<rect x="1550.01" y="356.68" width="9.7" height="15.70" fill="#00474d"/>
<rect x="1550.01" y="371.38" width="9.7" height="23.62" fill="#2f3566"/>
<rect x="1550.01" y="394.00" width="9.7" height="65.02" fill="#14205c"/>
<rect x="1550.01" y="458.02" width="9.7" height="24.53" fill="#c0957b"/>
<rect x="1550.01" y="481.55" width="9.7" height="5.75" fill="#5c2d63"/>
<rect x="1550.01" y="486.30" width="9.7" height="19.00" fill="#757575"/>
<rect x="1561.08" y="313.70" width="9.7" height="88.09" fill="#001a5c"/>
<rect x="1561.08" y="400.79" width="9.7" height="59.36" fill="#2f3566"/>
<rect x="1561.08" y="459.15" width="9.7" height="11.18" fill="#003300"/>
<rect x="1561.08" y="469.33" width="9.7" height="4.17" fill="#000a66"/>
<rect x="1561.08" y="472.50" width="9.7" height="3.94" fill="#7478a4"/>
<rect x="1561.08" y="475.44" width="9.7" height="4.85" fill="#874d74"/>
<rect x="1561.08" y="479.29" width="9.7" height="19.10" fill="#c0957b"/>
<rect x="1561.08" y="497.38" width="9.7" height="4.39" fill="#5c2d63"/>
<rect x="1561.08" y="500.78" width="9.7" height="4.52" fill="#757575"/>
<rect x="1572.15" y="313.70" width="9.7" height="65.47" fill="#001a5c"/>
<rect x="1572.15" y="378.17" width="9.7" height="16.38" fill="#232323"/>
<rect x="1572.15" y="393.55" width="9.7" height="33.12" fill="#2f3566"/>
<rect x="1572.15" y="425.67" width="9.7" height="4.85" fill="#003300"/>
<rect x="1572.15" y="429.52" width="9.7" height="7.33" fill="#2f3566"/>
<rect x="1572.15" y="435.85" width="9.7" height="56.42" fill="#14205c"/>
<rect x="1572.15" y="491.27" width="9.7" height="7.33" fill="#874d74"/>
<rect x="1572.15" y="497.61" width="9.7" height="7.69" fill="#515785"/>
<rect x="1583.22" y="313.70" width="9.7" height="120.21" fill="#001a5c"/>
<rect x="1583.22" y="432.91" width="9.7" height="18.64" fill="#2f3566"/>
<rect x="1583.22" y="450.56" width="9.7" height="8.46" fill="#003300"/>
<rect x="1583.22" y="458.02" width="9.7" height="15.03" fill="#000a66"/>
<rect x="1583.22" y="472.05" width="9.7" height="10.73" fill="#14205c"/>
<rect x="1583.22" y="481.77" width="9.7" height="12.31" fill="#874d74"/>
<rect x="1583.22" y="493.08" width="9.7" height="12.22" fill="#757575"/>
<rect x="1594.29" y="313.70" width="9.7" height="97.59" fill="#001a5c"/>
<rect x="1594.29" y="410.29" width="9.7" height="17.06" fill="#2f3566"/>
<rect x="1594.29" y="426.35" width="9.7" height="5.30" fill="#003300"/>
<rect x="1594.29" y="430.65" width="9.7" height="9.60" fill="#000a66"/>
<rect x="1594.29" y="439.25" width="9.7" height="4.85" fill="#00474d"/>
<rect x="1594.29" y="443.09" width="9.7" height="48.73" fill="#14205c"/>
<rect x="1594.29" y="490.82" width="9.7" height="12.31" fill="#874d74"/>
<rect x="1594.29" y="502.13" width="9.7" height="3.17" fill="#5c2d63"/>
<rect x="1605.36" y="313.70" width="9.7" height="51.90" fill="#001a5c"/>
<rect x="1605.36" y="364.60" width="9.7" height="17.97" fill="#2f3566"/>
<rect x="1605.36" y="381.56" width="9.7" height="28.15" fill="#003300"/>
<rect x="1605.36" y="408.71" width="9.7" height="17.51" fill="#00474d"/>
<rect x="1605.36" y="425.22" width="9.7" height="13.22" fill="#2f3566"/>
<rect x="1605.36" y="437.44" width="9.7" height="51.44" fill="#14205c"/>
<rect x="1605.36" y="487.88" width="9.7" height="12.76" fill="#9195c2"/>
<rect x="1605.36" y="499.64" width="9.7" height="2.81" fill="#c0957b"/>
<rect x="1605.36" y="501.45" width="9.7" height="3.26" fill="#5c2d63"/>
<rect x="1605.36" y="503.72" width="9.7" height="1.58" fill="#757575"/>
<rect x="1616.43" y="313.70" width="9.7" height="37.87" fill="#001a5c"/>
<rect x="1616.43" y="350.57" width="9.7" height="19.10" fill="#2f3566"/>
<rect x="1616.43" y="368.67" width="9.7" height="29.73" fill="#003300"/>
<rect x="1616.43" y="397.40" width="9.7" height="50.77" fill="#2f3566"/>
<rect x="1616.43" y="447.16" width="9.7" height="25.88" fill="#14205c"/>
<rect x="1616.43" y="472.05" width="9.7" height="3.26" fill="#874d74"/>
<rect x="1616.43" y="474.31" width="9.7" height="3.26" fill="#c0957b"/>
<rect x="1616.43" y="476.57" width="9.7" height="19.10" fill="#515785"/>
<rect x="1616.43" y="494.67" width="9.7" height="10.63" fill="#5c2d63"/>
<line x1="1521.65" y1="514.40" x2="1521.65" y2="519.80" stroke="#bbb" stroke-width="1" />
<text transform="translate(1529.65,525.40) rotate(-73)" font-size="11.4" fill="#666" text-anchor="end" >MP1</text>
<line x1="1532.72" y1="514.40" x2="1532.72" y2="519.80" stroke="#bbb" stroke-width="1" />
<text transform="translate(1540.72,525.40) rotate(-73)" font-size="11.4" fill="#666" text-anchor="end" >MP10</text>
<line x1="1543.79" y1="514.40" x2="1543.79" y2="519.80" stroke="#bbb" stroke-width="1" />
<text transform="translate(1551.79,525.40) rotate(-73)" font-size="11.4" fill="#666" text-anchor="end" >MP11</text>
<line x1="1554.86" y1="514.40" x2="1554.86" y2="519.80" stroke="#bbb" stroke-width="1" />
<text transform="translate(1562.86,525.40) rotate(-73)" font-size="11.4" fill="#666" text-anchor="end" >MP2</text>
<line x1="1565.93" y1="514.40" x2="1565.93" y2="519.80" stroke="#bbb" stroke-width="1" />
<text transform="translate(1573.93,525.40) rotate(-73)" font-size="11.4" fill="#666" text-anchor="end" >MP3</text>
<line x1="1577.00" y1="514.40" x2="1577.00" y2="519.80" stroke="#bbb" stroke-width="1" />
<text transform="translate(1585.00,525.40) rotate(-73)" font-size="11.4" fill="#666" text-anchor="end" >MP4</text>
<line x1="1588.07" y1="514.40" x2="1588.07" y2="519.80" stroke="#bbb" stroke-width="1" />
<text transform="translate(1596.07,525.40) rotate(-73)" font-size="11.4" fill="#666" text-anchor="end" >MP5</text>
<line x1="1599.14" y1="514.40" x2="1599.14" y2="519.80" stroke="#bbb" stroke-width="1" />
<text transform="translate(1607.14,525.40) rotate(-73)" font-size="11.4" fill="#666" text-anchor="end" >MP6</text>
<line x1="1610.21" y1="514.40" x2="1610.21" y2="519.80" stroke="#bbb" stroke-width="1" />
<text transform="translate(1618.21,525.40) rotate(-73)" font-size="11.4" fill="#666" text-anchor="end" >MP7</text>
<line x1="1621.28" y1="514.40" x2="1621.28" y2="519.80" stroke="#bbb" stroke-width="1" />
<text transform="translate(1629.28,525.40) rotate(-73)" font-size="11.4" fill="#666" text-anchor="end" >MP8</text>
<rect x="1636.90" y="304.70" width="123.60" height="209.70" fill="#fff" />
<line x1="1636.90" y1="313.70" x2="1760.50" y2="313.70" stroke="#e4e4e4" stroke-width="0.8" />
<line x1="1636.90" y1="361.60" x2="1760.50" y2="361.60" stroke="#e4e4e4" stroke-width="0.8" />
<line x1="1636.90" y1="409.50" x2="1760.50" y2="409.50" stroke="#e4e4e4" stroke-width="0.8" />
<line x1="1636.90" y1="457.40" x2="1760.50" y2="457.40" stroke="#e4e4e4" stroke-width="0.8" />
<line x1="1636.90" y1="505.30" x2="1760.50" y2="505.30" stroke="#e4e4e4" stroke-width="0.8" />
<line x1="1643.35" y1="304.70" x2="1643.35" y2="514.40" stroke="#e4e4e4" stroke-width="0.8" />
<line x1="1654.42" y1="304.70" x2="1654.42" y2="514.40" stroke="#e4e4e4" stroke-width="0.8" />
<line x1="1665.49" y1="304.70" x2="1665.49" y2="514.40" stroke="#e4e4e4" stroke-width="0.8" />
<line x1="1676.56" y1="304.70" x2="1676.56" y2="514.40" stroke="#e4e4e4" stroke-width="0.8" />
<line x1="1687.63" y1="304.70" x2="1687.63" y2="514.40" stroke="#e4e4e4" stroke-width="0.8" />
<line x1="1698.70" y1="304.70" x2="1698.70" y2="514.40" stroke="#e4e4e4" stroke-width="0.8" />
<line x1="1709.77" y1="304.70" x2="1709.77" y2="514.40" stroke="#e4e4e4" stroke-width="0.8" />
<line x1="1720.84" y1="304.70" x2="1720.84" y2="514.40" stroke="#e4e4e4" stroke-width="0.8" />
<line x1="1731.91" y1="304.70" x2="1731.91" y2="514.40" stroke="#e4e4e4" stroke-width="0.8" />
<line x1="1742.98" y1="304.70" x2="1742.98" y2="514.40" stroke="#e4e4e4" stroke-width="0.8" />
<line x1="1754.05" y1="304.70" x2="1754.05" y2="514.40" stroke="#e4e4e4" stroke-width="0.8" />
<path d="M1636.90,304.70 V514.40 H1760.50 V304.70" fill="none" stroke="#c6c6c6" stroke-width="1.1"/>
<line x1="1636.90" y1="304.70" x2="1760.50" y2="304.70" stroke="#cacaca" stroke-width="1" />
<rect x="1638.50" y="313.70" width="9.7" height="45.11" fill="#001a5c"/>
<rect x="1638.50" y="357.81" width="9.7" height="41.04" fill="#232323"/>
<rect x="1638.50" y="397.85" width="9.7" height="8.01" fill="#2f3566"/>
<rect x="1638.50" y="404.86" width="9.7" height="3.71" fill="#003300"/>
<rect x="1638.50" y="407.58" width="9.7" height="38.32" fill="#000a66"/>
<rect x="1638.50" y="444.90" width="9.7" height="3.26" fill="#00474d"/>
<rect x="1638.50" y="447.16" width="9.7" height="12.99" fill="#2f3566"/>
<rect x="1638.50" y="459.15" width="9.7" height="4.85" fill="#14205c"/>
<rect x="1638.50" y="463.00" width="9.7" height="32.67" fill="#874d74"/>
<rect x="1638.50" y="494.67" width="9.7" height="10.63" fill="#757575"/>
<rect x="1649.57" y="313.70" width="9.7" height="7.33" fill="#001a5c"/>
<rect x="1649.57" y="320.03" width="9.7" height="28.60" fill="#232323"/>
<rect x="1649.57" y="347.63" width="9.7" height="5.52" fill="#003300"/>
<rect x="1649.57" y="352.16" width="9.7" height="41.72" fill="#000a66"/>
<rect x="1649.57" y="392.87" width="9.7" height="2.58" fill="#00474d"/>
<rect x="1649.57" y="394.46" width="9.7" height="70.67" fill="#2f3566"/>
<rect x="1649.57" y="464.13" width="9.7" height="24.30" fill="#14205c"/>
<rect x="1649.57" y="487.43" width="9.7" height="2.13" fill="#0020e0"/>
<rect x="1649.57" y="488.56" width="9.7" height="3.71" fill="#6b4423"/>
<rect x="1649.57" y="491.27" width="9.7" height="7.33" fill="#c0957b"/>
<rect x="1649.57" y="497.61" width="9.7" height="3.71" fill="#6b4423"/>
<rect x="1649.57" y="500.32" width="9.7" height="4.98" fill="#757575"/>
<rect x="1660.64" y="313.70" width="9.7" height="55.97" fill="#001a5c"/>
<rect x="1660.64" y="368.67" width="9.7" height="12.31" fill="#232323"/>
<rect x="1660.64" y="379.98" width="9.7" height="4.17" fill="#003300"/>
<rect x="1660.64" y="383.15" width="9.7" height="73.39" fill="#000a66"/>
<rect x="1660.64" y="455.53" width="9.7" height="4.62" fill="#2f3566"/>
<rect x="1660.64" y="459.15" width="9.7" height="18.42" fill="#14205c"/>
<rect x="1660.64" y="476.57" width="9.7" height="5.98" fill="#0020e0"/>
<rect x="1660.64" y="481.55" width="9.7" height="5.75" fill="#874d74"/>
<rect x="1660.64" y="486.30" width="9.7" height="5.52" fill="#c0957b"/>
<rect x="1660.64" y="490.82" width="9.7" height="5.98" fill="#6b6e9c"/>
<rect x="1660.64" y="495.80" width="9.7" height="3.26" fill="#6b4423"/>
<rect x="1660.64" y="498.06" width="9.7" height="7.24" fill="#757575"/>
<rect x="1671.71" y="313.70" width="9.7" height="34.93" fill="#001a5c"/>
<rect x="1671.71" y="347.63" width="9.7" height="26.34" fill="#232323"/>
<rect x="1671.71" y="372.97" width="9.7" height="7.33" fill="#2f3566"/>
<rect x="1671.71" y="379.30" width="9.7" height="3.26" fill="#003300"/>
<rect x="1671.71" y="381.56" width="9.7" height="22.94" fill="#000a66"/>
<rect x="1671.71" y="403.51" width="9.7" height="3.26" fill="#00474d"/>
<rect x="1671.71" y="405.77" width="9.7" height="25.43" fill="#2f3566"/>
<rect x="1671.71" y="430.20" width="9.7" height="28.60" fill="#14205c"/>
<rect x="1671.71" y="457.80" width="9.7" height="5.52" fill="#35806a"/>
<rect x="1671.71" y="462.32" width="9.7" height="4.39" fill="#abb0dd"/>
<rect x="1671.71" y="465.71" width="9.7" height="4.39" fill="#874d74"/>
<rect x="1671.71" y="469.11" width="9.7" height="5.52" fill="#c0957b"/>
<rect x="1671.71" y="473.63" width="9.7" height="16.38" fill="#515785"/>
<rect x="1671.71" y="489.01" width="9.7" height="5.07" fill="#6b4423"/>
<rect x="1671.71" y="493.08" width="9.7" height="12.22" fill="#757575"/>
<rect x="1682.78" y="313.70" width="9.7" height="52.35" fill="#001a5c"/>
<rect x="1682.78" y="365.05" width="9.7" height="26.56" fill="#232323"/>
<rect x="1682.78" y="390.61" width="9.7" height="8.46" fill="#2f3566"/>
<rect x="1682.78" y="398.08" width="9.7" height="3.04" fill="#8c7347"/>
<rect x="1682.78" y="400.11" width="9.7" height="28.37" fill="#000a66"/>
<rect x="1682.78" y="427.48" width="9.7" height="19.55" fill="#14205c"/>
<rect x="1682.78" y="446.03" width="9.7" height="22.49" fill="#7478a4"/>
<rect x="1682.78" y="467.52" width="9.7" height="2.58" fill="#00335c"/>
<rect x="1682.78" y="469.11" width="9.7" height="9.14" fill="#0020e0"/>
<rect x="1682.78" y="477.25" width="9.7" height="5.52" fill="#a0ad7a"/>
<rect x="1682.78" y="481.77" width="9.7" height="11.63" fill="#515785"/>
<rect x="1682.78" y="492.41" width="9.7" height="4.85" fill="#6b4423"/>
<rect x="1682.78" y="496.25" width="9.7" height="9.05" fill="#757575"/>
<rect x="1693.85" y="313.70" width="9.7" height="45.56" fill="#001a5c"/>
<rect x="1693.85" y="358.26" width="9.7" height="14.80" fill="#232323"/>
<rect x="1693.85" y="372.06" width="9.7" height="4.85" fill="#2f3566"/>
<rect x="1693.85" y="375.91" width="9.7" height="8.92" fill="#003300"/>
<rect x="1693.85" y="383.83" width="9.7" height="3.71" fill="#00474d"/>
<rect x="1693.85" y="386.54" width="9.7" height="53.25" fill="#2f3566"/>
<rect x="1693.85" y="438.79" width="9.7" height="56.87" fill="#14205c"/>
<rect x="1693.85" y="494.67" width="9.7" height="10.63" fill="#5c2d63"/>
<rect x="1704.92" y="313.70" width="9.7" height="22.49" fill="#001a5c"/>
<rect x="1704.92" y="335.19" width="9.7" height="14.57" fill="#232323"/>
<rect x="1704.92" y="348.76" width="9.7" height="4.39" fill="#2f3566"/>
<rect x="1704.92" y="352.16" width="9.7" height="9.37" fill="#003300"/>
<rect x="1704.92" y="360.53" width="9.7" height="55.52" fill="#000a66"/>
<rect x="1704.92" y="415.04" width="9.7" height="8.24" fill="#00474d"/>
<rect x="1704.92" y="422.28" width="9.7" height="23.62" fill="#2f3566"/>
<rect x="1704.92" y="444.90" width="9.7" height="40.59" fill="#14205c"/>
<rect x="1704.92" y="484.49" width="9.7" height="2.13" fill="#0020e0"/>
<rect x="1704.92" y="485.62" width="9.7" height="3.26" fill="#6b4423"/>
<rect x="1704.92" y="487.88" width="9.7" height="7.79" fill="#6b6e9c"/>
<rect x="1704.92" y="494.67" width="9.7" height="3.26" fill="#874d74"/>
<rect x="1704.92" y="496.93" width="9.7" height="8.37" fill="#757575"/>
<rect x="1715.99" y="313.70" width="9.7" height="66.15" fill="#001a5c"/>
<rect x="1715.99" y="378.85" width="9.7" height="28.60" fill="#232323"/>
<rect x="1715.99" y="406.45" width="9.7" height="4.39" fill="#2f3566"/>
<rect x="1715.99" y="409.84" width="9.7" height="2.81" fill="#003300"/>
<rect x="1715.99" y="411.65" width="9.7" height="42.85" fill="#000a66"/>
<rect x="1715.99" y="453.50" width="9.7" height="8.24" fill="#2f3566"/>
<rect x="1715.99" y="460.74" width="9.7" height="20.23" fill="#14205c"/>
<rect x="1715.99" y="479.96" width="9.7" height="11.18" fill="#0020e0"/>
<rect x="1715.99" y="490.14" width="9.7" height="3.26" fill="#874d74"/>
<rect x="1715.99" y="492.41" width="9.7" height="6.66" fill="#6b6e9c"/>
<rect x="1715.99" y="498.06" width="9.7" height="2.81" fill="#5c2d63"/>
<rect x="1715.99" y="499.87" width="9.7" height="5.43" fill="#757575"/>
<rect x="1727.06" y="313.70" width="9.7" height="20.91" fill="#001a5c"/>
<rect x="1727.06" y="333.61" width="9.7" height="31.54" fill="#232323"/>
<rect x="1727.06" y="364.14" width="9.7" height="7.11" fill="#2f3566"/>
<rect x="1727.06" y="370.25" width="9.7" height="12.99" fill="#003300"/>
<rect x="1727.06" y="382.24" width="9.7" height="36.51" fill="#2f3566"/>
<rect x="1727.06" y="417.76" width="9.7" height="69.99" fill="#14205c"/>
<rect x="1727.06" y="486.75" width="9.7" height="2.81" fill="#0020e0"/>
<rect x="1727.06" y="488.56" width="9.7" height="5.52" fill="#874d74"/>
<rect x="1727.06" y="493.08" width="9.7" height="12.22" fill="#757575"/>
<rect x="1738.13" y="313.70" width="9.7" height="5.52" fill="#b3b9e3"/>
<rect x="1738.13" y="318.22" width="9.7" height="10.05" fill="#001a5c"/>
<rect x="1738.13" y="327.27" width="9.7" height="7.79" fill="#bfc4ee"/>
<rect x="1738.13" y="334.06" width="9.7" height="22.04" fill="#232323"/>
<rect x="1738.13" y="355.10" width="9.7" height="3.71" fill="#003300"/>
<rect x="1738.13" y="357.81" width="9.7" height="85.83" fill="#000a66"/>
<rect x="1738.13" y="442.64" width="9.7" height="13.44" fill="#2f3566"/>
<rect x="1738.13" y="455.08" width="9.7" height="17.97" fill="#14205c"/>
<rect x="1738.13" y="472.05" width="9.7" height="2.58" fill="#0020e0"/>
<rect x="1738.13" y="473.63" width="9.7" height="2.81" fill="#939f6f"/>
<rect x="1738.13" y="475.44" width="9.7" height="4.39" fill="#6b4423"/>
<rect x="1738.13" y="478.83" width="9.7" height="6.66" fill="#874d74"/>
<rect x="1738.13" y="484.49" width="9.7" height="14.57" fill="#515785"/>
<rect x="1738.13" y="498.06" width="9.7" height="2.81" fill="#874d74"/>
<rect x="1738.13" y="499.87" width="9.7" height="5.43" fill="#757575"/>
<rect x="1749.20" y="313.70" width="9.7" height="35.38" fill="#001a5c"/>
<rect x="1749.20" y="348.08" width="9.7" height="26.56" fill="#232323"/>
<rect x="1749.20" y="373.65" width="9.7" height="3.71" fill="#2f3566"/>
<rect x="1749.20" y="376.36" width="9.7" height="3.26" fill="#003300"/>
<rect x="1749.20" y="378.62" width="9.7" height="57.55" fill="#000a66"/>
<rect x="1749.20" y="435.17" width="9.7" height="20.91" fill="#2f3566"/>
<rect x="1749.20" y="455.08" width="9.7" height="33.80" fill="#14205c"/>
<rect x="1749.20" y="487.88" width="9.7" height="3.26" fill="#0020e0"/>
<rect x="1749.20" y="490.14" width="9.7" height="8.92" fill="#6b6e9c"/>
<rect x="1749.20" y="498.06" width="9.7" height="2.81" fill="#874d74"/>
<rect x="1749.20" y="499.87" width="9.7" height="5.43" fill="#757575"/>
<line x1="1643.35" y1="514.40" x2="1643.35" y2="519.80" stroke="#bbb" stroke-width="1" />
<text transform="translate(1651.35,525.40) rotate(-73)" font-size="11.4" fill="#666" text-anchor="end" >K1</text>
<line x1="1654.42" y1="514.40" x2="1654.42" y2="519.80" stroke="#bbb" stroke-width="1" />
<text transform="translate(1662.42,525.40) rotate(-73)" font-size="11.4" fill="#666" text-anchor="end" >K10</text>
<line x1="1665.49" y1="514.40" x2="1665.49" y2="519.80" stroke="#bbb" stroke-width="1" />
<text transform="translate(1673.49,525.40) rotate(-73)" font-size="11.4" fill="#666" text-anchor="end" >K11</text>
<line x1="1676.56" y1="514.40" x2="1676.56" y2="519.80" stroke="#bbb" stroke-width="1" />
<text transform="translate(1684.56,525.40) rotate(-73)" font-size="11.4" fill="#666" text-anchor="end" >K2</text>
<line x1="1687.63" y1="514.40" x2="1687.63" y2="519.80" stroke="#bbb" stroke-width="1" />
<text transform="translate(1695.63,525.40) rotate(-73)" font-size="11.4" fill="#666" text-anchor="end" >K3</text>
<line x1="1698.70" y1="514.40" x2="1698.70" y2="519.80" stroke="#bbb" stroke-width="1" />
<text transform="translate(1706.70,525.40) rotate(-73)" font-size="11.4" fill="#666" text-anchor="end" >K4</text>
<line x1="1709.77" y1="514.40" x2="1709.77" y2="519.80" stroke="#bbb" stroke-width="1" />
<text transform="translate(1717.77,525.40) rotate(-73)" font-size="11.4" fill="#666" text-anchor="end" >K5</text>
<line x1="1720.84" y1="514.40" x2="1720.84" y2="519.80" stroke="#bbb" stroke-width="1" />
<text transform="translate(1728.84,525.40) rotate(-73)" font-size="11.4" fill="#666" text-anchor="end" >K6</text>
<line x1="1731.91" y1="514.40" x2="1731.91" y2="519.80" stroke="#bbb" stroke-width="1" />
<text transform="translate(1739.91,525.40) rotate(-73)" font-size="11.4" fill="#666" text-anchor="end" >K7</text>
<line x1="1742.98" y1="514.40" x2="1742.98" y2="519.80" stroke="#bbb" stroke-width="1" />
<text transform="translate(1750.98,525.40) rotate(-73)" font-size="11.4" fill="#666" text-anchor="end" >K8</text>
<line x1="1754.05" y1="514.40" x2="1754.05" y2="519.80" stroke="#bbb" stroke-width="1" />
<text transform="translate(1762.05,525.40) rotate(-73)" font-size="11.4" fill="#666" text-anchor="end" >K9</text>
<rect x="1769.80" y="304.70" width="122.80" height="209.70" fill="#fff" />
<line x1="1769.80" y1="313.70" x2="1892.60" y2="313.70" stroke="#e4e4e4" stroke-width="0.8" />
<line x1="1769.80" y1="361.60" x2="1892.60" y2="361.60" stroke="#e4e4e4" stroke-width="0.8" />
<line x1="1769.80" y1="409.50" x2="1892.60" y2="409.50" stroke="#e4e4e4" stroke-width="0.8" />
<line x1="1769.80" y1="457.40" x2="1892.60" y2="457.40" stroke="#e4e4e4" stroke-width="0.8" />
<line x1="1769.80" y1="505.30" x2="1892.60" y2="505.30" stroke="#e4e4e4" stroke-width="0.8" />
<line x1="1776.05" y1="304.70" x2="1776.05" y2="514.40" stroke="#e4e4e4" stroke-width="0.8" />
<line x1="1787.12" y1="304.70" x2="1787.12" y2="514.40" stroke="#e4e4e4" stroke-width="0.8" />
<line x1="1798.19" y1="304.70" x2="1798.19" y2="514.40" stroke="#e4e4e4" stroke-width="0.8" />
<line x1="1809.26" y1="304.70" x2="1809.26" y2="514.40" stroke="#e4e4e4" stroke-width="0.8" />
<line x1="1820.33" y1="304.70" x2="1820.33" y2="514.40" stroke="#e4e4e4" stroke-width="0.8" />
<line x1="1831.40" y1="304.70" x2="1831.40" y2="514.40" stroke="#e4e4e4" stroke-width="0.8" />
<line x1="1842.47" y1="304.70" x2="1842.47" y2="514.40" stroke="#e4e4e4" stroke-width="0.8" />
<line x1="1853.54" y1="304.70" x2="1853.54" y2="514.40" stroke="#e4e4e4" stroke-width="0.8" />
<line x1="1864.61" y1="304.70" x2="1864.61" y2="514.40" stroke="#e4e4e4" stroke-width="0.8" />
<line x1="1875.68" y1="304.70" x2="1875.68" y2="514.40" stroke="#e4e4e4" stroke-width="0.8" />
<line x1="1886.75" y1="304.70" x2="1886.75" y2="514.40" stroke="#e4e4e4" stroke-width="0.8" />
<path d="M1769.80,304.70 V514.40 H1892.60 V304.70" fill="none" stroke="#c6c6c6" stroke-width="1.1"/>
<line x1="1769.80" y1="304.70" x2="1892.60" y2="304.70" stroke="#cacaca" stroke-width="1" />
<rect x="1771.20" y="313.70" width="9.7" height="27.69" fill="#001a5c"/>
<rect x="1771.20" y="340.39" width="9.7" height="5.52" fill="#003300"/>
<rect x="1771.20" y="344.92" width="9.7" height="55.74" fill="#000a66"/>
<rect x="1771.20" y="399.66" width="9.7" height="8.92" fill="#2f3566"/>
<rect x="1771.20" y="407.58" width="9.7" height="52.58" fill="#14205c"/>
<rect x="1771.20" y="459.15" width="9.7" height="3.26" fill="#874d74"/>
<rect x="1771.20" y="461.42" width="9.7" height="24.07" fill="#c0957b"/>
<rect x="1771.20" y="484.49" width="9.7" height="7.79" fill="#515785"/>
<rect x="1771.20" y="491.27" width="9.7" height="4.39" fill="#6b4423"/>
<rect x="1771.20" y="494.67" width="9.7" height="3.26" fill="#874d74"/>
<rect x="1771.20" y="496.93" width="9.7" height="8.37" fill="#757575"/>
<rect x="1782.27" y="313.70" width="9.7" height="8.92" fill="#001a5c"/>
<rect x="1782.27" y="321.62" width="9.7" height="106.19" fill="#000a66"/>
<rect x="1782.27" y="426.81" width="9.7" height="15.70" fill="#14205c"/>
<rect x="1782.27" y="441.51" width="9.7" height="19.10" fill="#515785"/>
<rect x="1782.27" y="459.61" width="9.7" height="5.52" fill="#a0ad7a"/>
<rect x="1782.27" y="464.13" width="9.7" height="41.17" fill="#757575"/>
<rect x="1793.34" y="313.70" width="9.7" height="34.93" fill="#001a5c"/>
<rect x="1793.34" y="347.63" width="9.7" height="18.42" fill="#232323"/>
<rect x="1793.34" y="365.05" width="9.7" height="7.79" fill="#2f3566"/>
<rect x="1793.34" y="371.84" width="9.7" height="3.94" fill="#003300"/>
<rect x="1793.34" y="374.78" width="9.7" height="2.58" fill="#8c7347"/>
<rect x="1793.34" y="376.36" width="9.7" height="54.84" fill="#000a66"/>
<rect x="1793.34" y="430.20" width="9.7" height="59.14" fill="#14205c"/>
<rect x="1793.34" y="488.33" width="9.7" height="3.49" fill="#874d74"/>
<rect x="1793.34" y="490.82" width="9.7" height="12.76" fill="#515785"/>
<rect x="1793.34" y="502.59" width="9.7" height="2.71" fill="#757575"/>
<rect x="1804.41" y="313.70" width="9.7" height="7.79" fill="#001a5c"/>
<rect x="1804.41" y="320.49" width="9.7" height="29.95" fill="#232323"/>
<rect x="1804.41" y="349.44" width="9.7" height="4.85" fill="#003300"/>
<rect x="1804.41" y="353.29" width="9.7" height="6.66" fill="#00474d"/>
<rect x="1804.41" y="358.94" width="9.7" height="13.89" fill="#2f3566"/>
<rect x="1804.41" y="371.84" width="9.7" height="59.36" fill="#14205c"/>
<rect x="1804.41" y="430.20" width="9.7" height="32.67" fill="#c0957b"/>
<rect x="1804.41" y="461.87" width="9.7" height="23.17" fill="#515785"/>
<rect x="1804.41" y="484.04" width="9.7" height="3.26" fill="#5c2d63"/>
<rect x="1804.41" y="486.30" width="9.7" height="19.00" fill="#757575"/>
<rect x="1815.48" y="313.70" width="9.7" height="56.87" fill="#001a5c"/>
<rect x="1815.48" y="369.57" width="9.7" height="13.67" fill="#232323"/>
<rect x="1815.48" y="382.24" width="9.7" height="25.66" fill="#2f3566"/>
<rect x="1815.48" y="406.90" width="9.7" height="4.39" fill="#003300"/>
<rect x="1815.48" y="410.29" width="9.7" height="4.39" fill="#8c7347"/>
<rect x="1815.48" y="413.68" width="9.7" height="26.56" fill="#000a66"/>
<rect x="1815.48" y="439.25" width="9.7" height="6.20" fill="#14205c"/>
<rect x="1815.48" y="444.45" width="9.7" height="24.53" fill="#7478a4"/>
<rect x="1815.48" y="467.98" width="9.7" height="5.07" fill="#00474d"/>
<rect x="1815.48" y="472.05" width="9.7" height="8.46" fill="#8f6a4f"/>
<rect x="1815.48" y="479.51" width="9.7" height="3.26" fill="#874d74"/>
<rect x="1815.48" y="481.77" width="9.7" height="3.71" fill="#3d4700"/>
<rect x="1815.48" y="484.49" width="9.7" height="20.81" fill="#757575"/>
<rect x="1826.55" y="313.70" width="9.7" height="49.64" fill="#001a5c"/>
<rect x="1826.55" y="362.34" width="9.7" height="41.27" fill="#232323"/>
<rect x="1826.55" y="402.60" width="9.7" height="25.66" fill="#2f3566"/>
<rect x="1826.55" y="427.26" width="9.7" height="2.81" fill="#003300"/>
<rect x="1826.55" y="429.07" width="9.7" height="22.94" fill="#000a66"/>
<rect x="1826.55" y="451.01" width="9.7" height="20.45" fill="#14205c"/>
<rect x="1826.55" y="470.46" width="9.7" height="6.43" fill="#8f6a4f"/>
<rect x="1826.55" y="475.89" width="9.7" height="16.38" fill="#874d74"/>
<rect x="1826.55" y="491.27" width="9.7" height="8.46" fill="#6b4423"/>
<rect x="1826.55" y="498.74" width="9.7" height="6.56" fill="#757575"/>
<rect x="1837.62" y="313.70" width="9.7" height="88.77" fill="#001a5c"/>
<rect x="1837.62" y="401.47" width="9.7" height="5.30" fill="#232323"/>
<rect x="1837.62" y="405.77" width="9.7" height="5.07" fill="#2f3566"/>
<rect x="1837.62" y="409.84" width="9.7" height="3.26" fill="#003300"/>
<rect x="1837.62" y="412.10" width="9.7" height="56.42" fill="#000a66"/>
<rect x="1837.62" y="467.52" width="9.7" height="20.23" fill="#14205c"/>
<rect x="1837.62" y="486.75" width="9.7" height="2.13" fill="#0020e0"/>
<rect x="1837.62" y="487.88" width="9.7" height="7.11" fill="#874d74"/>
<rect x="1837.62" y="493.99" width="9.7" height="11.31" fill="#757575"/>
<rect x="1848.69" y="313.70" width="9.7" height="56.87" fill="#001a5c"/>
<rect x="1848.69" y="369.57" width="9.7" height="13.67" fill="#232323"/>
<rect x="1848.69" y="382.24" width="9.7" height="9.82" fill="#2f3566"/>
<rect x="1848.69" y="391.06" width="9.7" height="3.49" fill="#003300"/>
<rect x="1848.69" y="393.55" width="9.7" height="54.61" fill="#000a66"/>
<rect x="1848.69" y="447.16" width="9.7" height="3.26" fill="#00474d"/>
<rect x="1848.69" y="449.43" width="9.7" height="36.06" fill="#14205c"/>
<rect x="1848.69" y="484.49" width="9.7" height="17.29" fill="#874d74"/>
<rect x="1848.69" y="500.78" width="9.7" height="3.26" fill="#5c2d63"/>
<rect x="1848.69" y="503.04" width="9.7" height="2.26" fill="#757575"/>
<rect x="1859.76" y="313.70" width="9.7" height="22.94" fill="#001a5c"/>
<rect x="1859.76" y="335.64" width="9.7" height="27.24" fill="#232323"/>
<rect x="1859.76" y="361.88" width="9.7" height="8.69" fill="#2f3566"/>
<rect x="1859.76" y="369.57" width="9.7" height="16.38" fill="#003300"/>
<rect x="1859.76" y="384.96" width="9.7" height="53.48" fill="#000a66"/>
<rect x="1859.76" y="437.44" width="9.7" height="5.07" fill="#00474d"/>
<rect x="1859.76" y="441.51" width="9.7" height="36.06" fill="#14205c"/>
<rect x="1859.76" y="476.57" width="9.7" height="6.20" fill="#9195c2"/>
<rect x="1859.76" y="481.77" width="9.7" height="3.26" fill="#874d74"/>
<rect x="1859.76" y="484.04" width="9.7" height="7.11" fill="#c0957b"/>
<rect x="1859.76" y="490.14" width="9.7" height="5.52" fill="#6b4423"/>
<rect x="1859.76" y="494.67" width="9.7" height="3.71" fill="#5c2d63"/>
<rect x="1859.76" y="497.38" width="9.7" height="7.92" fill="#757575"/>
<rect x="1870.83" y="313.70" width="9.7" height="24.07" fill="#001a5c"/>
<rect x="1870.83" y="336.77" width="9.7" height="23.85" fill="#232323"/>
<rect x="1870.83" y="359.62" width="9.7" height="10.50" fill="#2f3566"/>
<rect x="1870.83" y="369.12" width="9.7" height="16.16" fill="#003300"/>
<rect x="1870.83" y="384.28" width="9.7" height="2.36" fill="#8c7347"/>
<rect x="1870.83" y="385.63" width="9.7" height="33.57" fill="#000a66"/>
<rect x="1870.83" y="418.21" width="9.7" height="46.92" fill="#2f3566"/>
<rect x="1870.83" y="464.13" width="9.7" height="3.26" fill="#874d74"/>
<rect x="1870.83" y="466.39" width="9.7" height="5.52" fill="#0020e0"/>
<rect x="1870.83" y="470.92" width="9.7" height="30.86" fill="#515785"/>
<rect x="1870.83" y="500.78" width="9.7" height="3.94" fill="#5c2d63"/>
<rect x="1870.83" y="503.72" width="9.7" height="1.58" fill="#757575"/>
<rect x="1881.90" y="313.70" width="9.7" height="16.83" fill="#001a5c"/>
<rect x="1881.90" y="329.53" width="9.7" height="3.26" fill="#232323"/>
<rect x="1881.90" y="331.80" width="9.7" height="4.85" fill="#2f3566"/>
<rect x="1881.90" y="335.64" width="9.7" height="3.26" fill="#003300"/>
<rect x="1881.90" y="337.90" width="9.7" height="129.49" fill="#000a66"/>
<rect x="1881.90" y="466.39" width="9.7" height="27.01" fill="#14205c"/>
<rect x="1881.90" y="492.41" width="9.7" height="3.94" fill="#0020e0"/>
<rect x="1881.90" y="495.35" width="9.7" height="3.26" fill="#874d74"/>
<rect x="1881.90" y="497.61" width="9.7" height="3.26" fill="#1a2558"/>
<rect x="1881.90" y="499.87" width="9.7" height="5.43" fill="#757575"/>
<line x1="1776.05" y1="514.40" x2="1776.05" y2="519.80" stroke="#bbb" stroke-width="1" />
<text transform="translate(1784.05,525.40) rotate(-73)" font-size="11.4" fill="#666" text-anchor="end" >MP1</text>
<line x1="1787.12" y1="514.40" x2="1787.12" y2="519.80" stroke="#bbb" stroke-width="1" />
<text transform="translate(1795.12,525.40) rotate(-73)" font-size="11.4" fill="#666" text-anchor="end" >MP10</text>
<line x1="1798.19" y1="514.40" x2="1798.19" y2="519.80" stroke="#bbb" stroke-width="1" />
<text transform="translate(1806.19,525.40) rotate(-73)" font-size="11.4" fill="#666" text-anchor="end" >MP11</text>
<line x1="1809.26" y1="514.40" x2="1809.26" y2="519.80" stroke="#bbb" stroke-width="1" />
<text transform="translate(1817.26,525.40) rotate(-73)" font-size="11.4" fill="#666" text-anchor="end" >MP2</text>
<line x1="1820.33" y1="514.40" x2="1820.33" y2="519.80" stroke="#bbb" stroke-width="1" />
<text transform="translate(1828.33,525.40) rotate(-73)" font-size="11.4" fill="#666" text-anchor="end" >MP3</text>
<line x1="1831.40" y1="514.40" x2="1831.40" y2="519.80" stroke="#bbb" stroke-width="1" />
<text transform="translate(1839.40,525.40) rotate(-73)" font-size="11.4" fill="#666" text-anchor="end" >MP4</text>
<line x1="1842.47" y1="514.40" x2="1842.47" y2="519.80" stroke="#bbb" stroke-width="1" />
<text transform="translate(1850.47,525.40) rotate(-73)" font-size="11.4" fill="#666" text-anchor="end" >MP5</text>
<line x1="1853.54" y1="514.40" x2="1853.54" y2="519.80" stroke="#bbb" stroke-width="1" />
<text transform="translate(1861.54,525.40) rotate(-73)" font-size="11.4" fill="#666" text-anchor="end" >MP6</text>
<line x1="1864.61" y1="514.40" x2="1864.61" y2="519.80" stroke="#bbb" stroke-width="1" />
<text transform="translate(1872.61,525.40) rotate(-73)" font-size="11.4" fill="#666" text-anchor="end" >MP7</text>
<line x1="1875.68" y1="514.40" x2="1875.68" y2="519.80" stroke="#bbb" stroke-width="1" />
<text transform="translate(1883.68,525.40) rotate(-73)" font-size="11.4" fill="#666" text-anchor="end" >MP8</text>
<line x1="1886.75" y1="514.40" x2="1886.75" y2="519.80" stroke="#bbb" stroke-width="1" />
<text transform="translate(1894.75,525.40) rotate(-73)" font-size="11.4" fill="#666" text-anchor="end" >MP9</text>
<text x="1175.80" y="319.10" font-size="14.4" fill="#757575" text-anchor="end" >1.00</text>
<line x1="1179.60" y1="313.70" x2="1183.70" y2="313.70" stroke="#aaa" stroke-width="0.8" />
<text x="1175.80" y="367.00" font-size="14.4" fill="#757575" text-anchor="end" >0.75</text>
<line x1="1179.60" y1="361.60" x2="1183.70" y2="361.60" stroke="#aaa" stroke-width="0.8" />
<text x="1175.80" y="414.90" font-size="14.4" fill="#757575" text-anchor="end" >0.50</text>
<line x1="1179.60" y1="409.50" x2="1183.70" y2="409.50" stroke="#aaa" stroke-width="0.8" />
<text x="1175.80" y="462.80" font-size="14.4" fill="#757575" text-anchor="end" >0.25</text>
<line x1="1179.60" y1="457.40" x2="1183.70" y2="457.40" stroke="#aaa" stroke-width="0.8" />
<text x="1175.80" y="510.70" font-size="14.4" fill="#757575" text-anchor="end" >0.00</text>
<line x1="1179.60" y1="505.30" x2="1183.70" y2="505.30" stroke="#aaa" stroke-width="0.8" />
<text transform="translate(1140.50,300.00) rotate(-90)" font-size="17.5" fill="#000" text-anchor="middle" >Relative contribution</text>
<text x="1170.40" y="127.40" font-size="12.6" fill="#000" text-anchor="end" font-style="italic">F. nucleatum</text>
<line x1="1173.70" y1="121.30" x2="1213.00" y2="121.30" stroke="#000" stroke-width="2" />
<text x="1158.40" y="168.90" font-size="12.6" fill="#000" text-anchor="end" font-style="italic">S. sanguis</text>
<line x1="1161.40" y1="165.20" x2="1185.70" y2="165.20" stroke="#000" stroke-width="2" />
<text x="1159.00" y="392.00" font-size="12.6" fill="#000" text-anchor="end" font-style="italic">S. spCM52</text>
<line x1="1161.30" y1="389.60" x2="1185.50" y2="389.60" stroke="#000" stroke-width="2" />
<text x="1160.60" y="431.80" font-size="12.6" fill="#000" text-anchor="end" font-style="italic">L. Hofstadii</text>
<line x1="1163.10" y1="430.20" x2="1186.40" y2="430.20" stroke="#000" stroke-width="2" />
<text x="1162.20" y="489.20" font-size="12.6" fill="#000" text-anchor="end" font-style="italic">O. sinus</text>
<line x1="1165.30" y1="486.70" x2="1188.00" y2="486.70" stroke="#000" stroke-width="2" />
<text x="1912.60" y="104.20" font-size="8.4" fill="#000" text-anchor="start" font-style="italic">S. parasanguinis</text>
<line x1="1884.70" y1="106.90" x2="1921.90" y2="106.90" stroke="#000" stroke-width="2" />
<text x="1910.20" y="150.60" font-size="8.4" fill="#000" text-anchor="start" font-style="italic">S. salivarius</text>
<line x1="1863.00" y1="146.10" x2="1900.30" y2="146.10" stroke="#000" stroke-width="2" />
<text x="1924.20" y="237.00" font-size="8.4" fill="#000" text-anchor="start" font-style="italic">S. austrais</text>
<line x1="1874.40" y1="233.10" x2="1911.20" y2="233.10" stroke="#000" stroke-width="2" />
<text x="1925.80" y="260.90" font-size="8.4" fill="#000" text-anchor="start" font-style="italic">S. infantis</text>
<line x1="1874.70" y1="257.40" x2="1911.90" y2="257.40" stroke="#000" stroke-width="2" />
<text x="1937.80" y="325.40" font-size="8.4" fill="#000" text-anchor="middle" font-style="italic">S.</text>
<text x="1937.80" y="334.10" font-size="8.4" fill="#000" text-anchor="middle" font-style="italic">parasanguinis</text>
<line x1="1874.50" y1="324.70" x2="1911.40" y2="324.70" stroke="#000" stroke-width="2" />
<text x="1935.60" y="376.50" font-size="8.4" fill="#000" text-anchor="middle" font-style="italic">H.</text>
<text x="1935.60" y="385.20" font-size="8.4" fill="#000" text-anchor="middle" font-style="italic">parainfluenzae</text>
<line x1="1874.50" y1="375.90" x2="1911.40" y2="375.90" stroke="#000" stroke-width="2" />
<text x="1915.50" y="450.10" font-size="8.4" fill="#000" text-anchor="start" font-style="italic">S. australis</text>
<line x1="1863.40" y1="444.80" x2="1911.40" y2="444.80" stroke="#000" stroke-width="2" />
<text x="1916.40" y="490.70" font-size="8.4" fill="#000" text-anchor="start" font-style="italic">L. hofstadii</text>
<line x1="1863.40" y1="485.70" x2="1911.40" y2="485.70" stroke="#000" stroke-width="2" />
<clipPath id="spc"><rect x="1180" y="562.2" width="80" height="12"/></clipPath>
<text x="1190.2" y="566.8" font-size="13.8" fill="#000" clip-path="url(#spc)">Species</text>
<rect x="1190.30" y="575.40" width="21.20" height="21.30" fill="#b3b9e3" />
<text x="1218.50" y="589.30" font-size="8.83" fill="#111" text-anchor="start" >Streptococcus_sp_I_G2</text>
<rect x="1190.30" y="597.17" width="21.20" height="21.30" fill="#a890c4" />
<text x="1218.50" y="611.07" font-size="8.83" fill="#111" text-anchor="start" >Shuttleworthia_satelles</text>
<rect x="1190.30" y="618.94" width="21.20" height="21.30" fill="#8f6a4f" />
<text x="1218.50" y="632.84" font-size="8.83" fill="#111" text-anchor="start" >Olsenella_uli</text>
<rect x="1190.30" y="640.71" width="21.20" height="21.30" fill="#001a5c" />
<text x="1218.50" y="654.61" font-size="8.83" fill="#111" text-anchor="start" >Streptococcus_parasanguinis</text>
<rect x="1190.30" y="662.48" width="21.20" height="21.30" fill="#bfc4ee" />
<text x="1218.50" y="676.38" font-size="8.83" fill="#111" text-anchor="start" >Streptococcus_pseudopneumoniae</text>
<rect x="1190.30" y="684.25" width="21.20" height="21.30" fill="#35806a" />
<text x="1218.50" y="698.15" font-size="8.83" fill="#111" text-anchor="start" >Candida_dubliniensis</text>
<rect x="1190.30" y="706.02" width="21.20" height="21.30" fill="#232323" />
<text x="1218.50" y="719.92" font-size="8.83" fill="#111" text-anchor="start" >unclassified</text>
<rect x="1190.30" y="727.79" width="21.20" height="21.30" fill="#bccb9b" />
<text x="1218.50" y="741.69" font-size="8.83" fill="#111" text-anchor="start" >Selenomonas_sp_oral_taxon_149</text>
<rect x="1190.30" y="749.56" width="21.20" height="21.30" fill="#252d63" />
<text x="1218.50" y="763.46" font-size="8.83" fill="#111" text-anchor="start" >Streptococcus_salivarius</text>
<rect x="1190.30" y="771.33" width="21.20" height="21.30" fill="#003300" />
<text x="1218.50" y="785.23" font-size="8.83" fill="#111" text-anchor="start" >Haemophilus_parainfluenzae</text>
<rect x="1190.30" y="793.10" width="21.20" height="21.30" fill="#8c7347" />
<text x="1218.50" y="807.00" font-size="8.83" fill="#111" text-anchor="start" >Fusobacterium_nucleatum</text>
<rect x="1190.30" y="814.87" width="21.20" height="21.30" fill="#000a66" />
<text x="1218.50" y="828.77" font-size="8.83" fill="#111" text-anchor="start" >Streptococcus_mitis_oralis_pneumoniae</text>
<rect x="1190.30" y="836.64" width="21.20" height="21.30" fill="#00474d" />
<text x="1218.50" y="850.54" font-size="8.83" fill="#111" text-anchor="start" >Neisseria_subflava</text>
<rect x="1190.30" y="858.41" width="21.20" height="21.30" fill="#2f3566" />
<text x="1218.50" y="872.31" font-size="8.83" fill="#111" text-anchor="start" >Streptococcus_australis</text>
<rect x="1190.30" y="880.18" width="21.20" height="21.30" fill="#14205c" />
<text x="1218.50" y="894.08" font-size="8.83" fill="#111" text-anchor="start" >Streptococcus_infantis</text>
<rect x="1383.80" y="575.40" width="21.20" height="21.30" fill="#874d74" />
<text x="1412.30" y="589.30" font-size="8.83" fill="#111" text-anchor="start" >Porphyromonas_endodontalis</text>
<rect x="1383.80" y="597.17" width="21.20" height="21.30" fill="#35806a" />
<text x="1412.30" y="611.07" font-size="8.83" fill="#111" text-anchor="start" >Veillonella_sp_oral_taxon_158</text>
<rect x="1383.80" y="618.94" width="21.20" height="21.30" fill="#869362" />
<text x="1412.30" y="632.84" font-size="8.83" fill="#111" text-anchor="start" >Selenomonas_sp_CM52</text>
<rect x="1383.80" y="640.71" width="21.20" height="21.30" fill="#57602a" />
<text x="1412.30" y="654.61" font-size="8.83" fill="#111" text-anchor="start" >Selenomonas_noxia</text>
<rect x="1383.80" y="662.48" width="21.20" height="21.30" fill="#c0957b" />
<text x="1412.30" y="676.38" font-size="8.83" fill="#111" text-anchor="start" >Propionibacterium_propionicum</text>
<rect x="1383.80" y="684.25" width="21.20" height="21.30" fill="#7478a4" />
<text x="1412.30" y="698.15" font-size="8.83" fill="#111" text-anchor="start" >Streptococcus_mutans</text>
<rect x="1383.80" y="706.02" width="21.20" height="21.30" fill="#4a1200" />
<text x="1412.30" y="719.92" font-size="8.83" fill="#111" text-anchor="start" >Capnocytophaga_gingivalis</text>
<rect x="1383.80" y="727.79" width="21.20" height="21.30" fill="#ffd3bc" />
<text x="1412.30" y="741.69" font-size="8.83" fill="#111" text-anchor="start" >Leptotrichia_sp_oral_taxon_225</text>
<rect x="1383.80" y="749.56" width="21.20" height="21.30" fill="#00335c" />
<text x="1412.30" y="763.46" font-size="8.83" fill="#111" text-anchor="start" >Actinomyces_sp_oral_taxon_448</text>
<rect x="1383.80" y="771.33" width="21.20" height="21.30" fill="#0020e0" />
<text x="1412.30" y="785.23" font-size="8.83" fill="#111" text-anchor="start" >Streptococcus_sanguinis</text>
<rect x="1383.80" y="793.10" width="21.20" height="21.30" fill="#9195c2" />
<text x="1412.30" y="807.00" font-size="8.83" fill="#111" text-anchor="start" >Streptococcus_sp_F0442</text>
<rect x="1383.80" y="814.87" width="21.20" height="21.30" fill="#abb0dd" />
<text x="1412.30" y="828.77" font-size="8.83" fill="#111" text-anchor="start" >Streptococcus_sobrinus</text>
<rect x="1383.80" y="836.64" width="21.20" height="21.30" fill="#939f6f" />
<text x="1412.30" y="850.54" font-size="8.83" fill="#111" text-anchor="start" >Lachnoanaerobaculum_saburreum</text>
<rect x="1383.80" y="858.41" width="21.20" height="21.30" fill="#93a070" />
<text x="1412.30" y="872.31" font-size="8.83" fill="#111" text-anchor="start" >Centipeda_periodontii</text>
<rect x="1383.80" y="880.18" width="21.20" height="21.30" fill="#00544a" />
<text x="1412.30" y="894.08" font-size="8.83" fill="#111" text-anchor="start" >Prevotella_pleuritidis</text>
<rect x="1556.10" y="575.40" width="21.20" height="21.30" fill="#006b66" />
<text x="1584.30" y="589.30" font-size="8.83" fill="#111" text-anchor="start" >Lactobacillus_fermentum</text>
<rect x="1556.10" y="597.17" width="21.20" height="21.30" fill="#855c40" />
<text x="1584.30" y="611.07" font-size="8.83" fill="#111" text-anchor="start" >Leptotrichia_hofstadii</text>
<rect x="1556.10" y="618.94" width="21.20" height="21.30" fill="#854765" />
<text x="1584.30" y="632.84" font-size="8.83" fill="#111" text-anchor="start" >Lachnospiraceae_bacterium_oral_taxon_082</text>
<rect x="1556.10" y="640.71" width="21.20" height="21.30" fill="#c0957b" />
<text x="1584.30" y="654.61" font-size="8.83" fill="#111" text-anchor="start" >Leptotrichia_sp_oral_taxon_215</text>
<rect x="1556.10" y="662.48" width="21.20" height="21.30" fill="#515785" />
<text x="1584.30" y="676.38" font-size="8.83" fill="#111" text-anchor="start" >Streptococcus_sp_SK140</text>
<rect x="1556.10" y="684.25" width="21.20" height="21.30" fill="#45949a" />
<text x="1584.30" y="698.15" font-size="8.83" fill="#111" text-anchor="start" >Neisseria_bacilliformis</text>
<rect x="1556.10" y="706.02" width="21.20" height="21.30" fill="#3d4700" />
<text x="1584.30" y="719.92" font-size="8.83" fill="#111" text-anchor="start" >Selenomonas_sputigena</text>
<rect x="1556.10" y="727.79" width="21.20" height="21.30" fill="#1a2558" />
<text x="1584.30" y="741.69" font-size="8.83" fill="#111" text-anchor="start" >Streptococcus_gordonii</text>
<rect x="1556.10" y="749.56" width="21.20" height="21.30" fill="#6fa8bd" />
<text x="1584.30" y="763.46" font-size="8.83" fill="#111" text-anchor="start" >Tannerella_forsythia</text>
<rect x="1556.10" y="771.33" width="21.20" height="21.30" fill="#6b4423" />
<text x="1584.30" y="785.23" font-size="8.83" fill="#111" text-anchor="start" >Leptotrichia_buccalis</text>
<rect x="1556.10" y="793.10" width="21.20" height="21.30" fill="#5c261f" />
<text x="1584.30" y="807.00" font-size="8.83" fill="#111" text-anchor="start" >Capnocytophaga_granulosa</text>
<rect x="1556.10" y="814.87" width="21.20" height="21.30" fill="#a0ad7a" />
<text x="1584.30" y="828.77" font-size="8.83" fill="#111" text-anchor="start" >Selenomonas_infelix</text>
<rect x="1556.10" y="836.64" width="21.20" height="21.30" fill="#6b6e9c" />
<text x="1584.30" y="850.54" font-size="8.83" fill="#111" text-anchor="start" >Cardiobacterium_hominis</text>
<rect x="1556.10" y="858.41" width="21.20" height="21.30" fill="#5c2d63" />
<text x="1584.30" y="872.31" font-size="8.83" fill="#111" text-anchor="start" >Oribacterium_sinus</text>
<rect x="1556.10" y="880.18" width="21.20" height="21.30" fill="#757575" />
<text x="1584.30" y="894.08" font-size="8.83" fill="#111" text-anchor="start" >Others</text>
</g>
</svg>
</body></html>
